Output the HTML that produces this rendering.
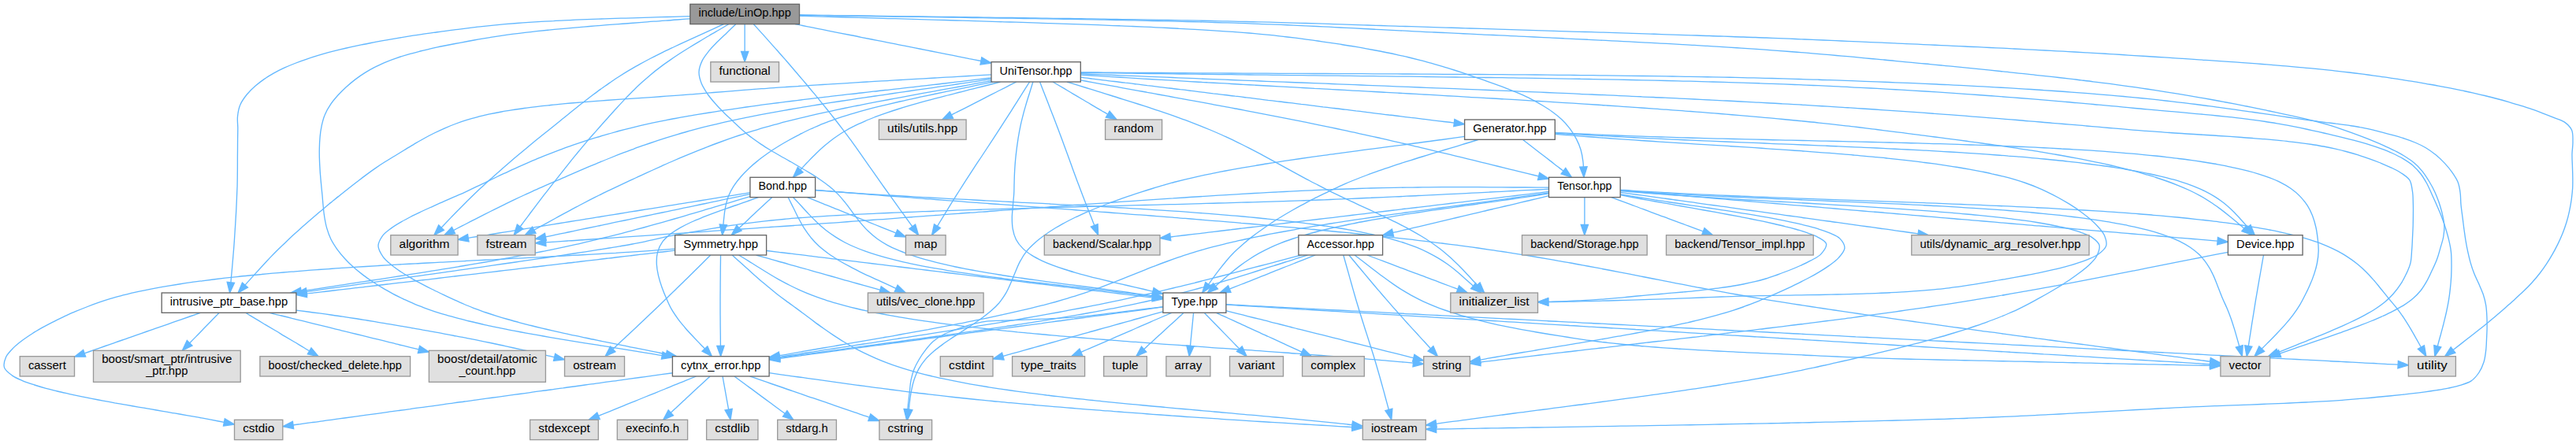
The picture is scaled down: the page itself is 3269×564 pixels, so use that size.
<!DOCTYPE html>
<html><head><meta charset="utf-8"><title>include/LinOp.hpp</title>
<style>html,body{margin:0;padding:0;background:#fff;width:3269px;height:564px;overflow:hidden}svg{display:block}</style>
</head><body>
<svg width="3269" height="564" viewBox="0 0 3269 564">
<rect width="100%" height="100%" fill="#fff"/>
<g fill="none" stroke="#63b8ff" stroke-width="1.333">
<path d="M918.4,30.7C913.7,32.8 909,35 904.4,37.1C899.9,39.1 895.6,41.1 891.2,43.1C886.8,45.1 882.4,47.1 878,49.1C873.6,51.1 869.2,53.1 864.9,55.1C860.5,57.1 856.2,59.2 851.9,61.2C847.7,63.2 843.5,65.2 839.2,67.4C834.6,69.7 829.7,72.1 825,74.5C820.4,76.9 815.8,79.4 811.3,81.9C806.9,84.3 802.5,86.9 798.2,89.4C794,91.9 790,94.4 786,97C781.9,99.6 777.8,102.4 773.8,105.1C769.8,107.8 766,110.6 762.1,113.4C758.3,116.1 754.7,118.8 750.8,121.7C746.7,124.8 742.4,128.2 738.2,131.5C734.1,134.7 730,138 725.9,141.3C721.9,144.6 717.8,147.8 713.8,151.1C709.7,154.4 705.6,157.8 701.6,161C697.8,164 694.3,166.8 690.6,169.8C686.9,172.8 683.1,175.8 679.4,178.8C675.7,181.9 672.1,184.9 668.4,187.9C664.8,190.9 661.1,194 657.5,197C653.9,200.1 650.3,203.1 646.7,206.2C643.2,209.2 639.7,212.2 636.1,215.4C632.2,218.8 628.1,222.4 624.2,226C620.2,229.5 616.2,233.2 612.4,236.7C608.9,240 605.5,243.2 602,246.5C598.6,249.8 595.2,253.1 591.8,256.5C588.5,259.8 585.2,263.2 581.9,266.5C578.6,269.9 575.5,273.1 572,276.6C568.2,280.6 564.1,284.9 560.1,289.1"/>
<path d="M933.7,30.7C929.8,34.4 926,38.2 922.1,41.9C918.2,45.6 914.2,49.3 910.5,53C906.9,56.7 903.3,60.2 900.1,64.2C896.9,68.2 893.4,72.3 891.2,76.9C889,81.4 887.2,86.5 887,91.3C886.8,96.2 888.4,101.5 890.2,106.1C892.1,110.8 895.1,115.3 897.9,119.5C900.8,123.6 904,127.4 907.4,131.2C910.8,135.1 914.6,138.9 918.3,142.7C922.1,146.5 926.2,150.2 930.1,153.9C933.9,157.5 937.7,161.2 941.6,164.7C945.3,168 948.9,171.1 952.9,174.1C956.9,177.3 961.4,180.3 965.6,183.1C969.7,185.8 973.6,188.2 977.7,190.7C981.8,193.2 986,195.6 990.2,198C994.5,200.5 998.8,202.9 1003.1,205.3C1007.3,207.8 1011.6,210.2 1015.8,212.7C1020,215.1 1024.2,217.6 1028.3,220.1C1032.3,222.6 1036.2,225 1040.1,227.7C1044.3,230.6 1048.7,233.6 1052.5,236.8C1056.3,239.9 1059.7,242.9 1063.1,246.4C1066.6,250 1070,254.2 1073.2,258.2C1076.4,262.1 1079.2,266.3 1082.3,270.3C1085.3,274.4 1088.2,278.5 1091.5,282.4C1094.9,286.5 1098.4,290.6 1102.2,294.1C1105.9,297.6 1109.8,300.9 1113.8,303.8C1117.7,306.6 1121.8,309 1126,311.3C1130.3,313.7 1134.9,315.8 1139.5,317.7C1144.1,319.7 1148.8,321.4 1153.4,323.1C1158,324.7 1162.4,326.1 1167.1,327.6C1171.9,329 1177,330.4 1181.9,331.7C1186.6,333 1191.1,334.1 1195.8,335.2C1200.6,336.4 1205.5,337.4 1210.5,338.5C1215.5,339.6 1220.7,340.6 1225.7,341.6C1230.4,342.5 1234.9,343.3 1239.5,344.2C1244.2,345 1249,345.9 1253.7,346.7C1258.5,347.5 1263.4,348.3 1268.3,349C1273.2,349.8 1278.1,350.6 1283.1,351.3C1288.1,352.1 1293.1,352.8 1298.2,353.5C1303.3,354.3 1308.4,355 1313.5,355.7C1318.6,356.4 1323.8,357.1 1329,357.8C1334.2,358.5 1339.4,359.2 1344.6,359.9C1349.8,360.6 1355,361.3 1360.3,361.9C1365.5,362.6 1370.7,363.3 1376,364C1381.2,364.7 1386.5,365.3 1391.7,366C1396.9,366.7 1402.1,367.4 1407.4,368.1C1412.6,368.8 1417.8,369.5 1422.9,370.2C1428.1,370.9 1433.2,371.6 1438.4,372.3C1443.5,373 1449.2,373.8 1453.6,374.5C1457,375 1459.7,375.4 1462.7,375.8"/>
<path d="M875.8,23.8C870.5,24.2 865.1,24.6 859.9,25C854.9,25.4 849.9,25.8 844.9,26.1C839.9,26.5 834.9,26.9 829.9,27.2C824.9,27.6 819.9,28 814.9,28.3C809.9,28.7 804.9,29.1 799.9,29.5C794.9,29.8 789.9,30.2 785,30.6C780,31 775.1,31.3 770.1,31.7C765.2,32.1 760.3,32.5 755.4,32.9C750.6,33.3 745.7,33.7 740.9,34.1C736.1,34.5 731.3,34.9 726.5,35.3C721.8,35.7 717.2,36.1 712.4,36.6C707.3,37.1 701.8,37.6 696.6,38.1C691.4,38.6 686.2,39.2 681.1,39.7C676.1,40.3 671.1,40.8 666.1,41.4C661.3,42 656.4,42.6 651.6,43.2C646.9,43.8 642.4,44.4 637.7,45.1C632.8,45.8 627.7,46.6 622.7,47.4C617.6,48.2 612.5,49.1 607.6,49.9C602.8,50.8 598.3,51.6 593.4,52.5C588.2,53.5 582.7,54.5 577.4,55.5C572.2,56.5 567.1,57.5 562,58.5C557.1,59.6 552.1,60.6 547.3,61.7C542.6,62.8 538,63.8 533.2,65C528.3,66.3 523,67.7 518,69.1C513.2,70.5 508.4,72 503.7,73.6C499.2,75.1 494.8,76.7 490.3,78.6C485.7,80.5 481,82.5 476.5,84.9C471.9,87.2 467.5,89.7 463.2,92.4C458.9,95.1 454.6,98.1 450.6,101.1C446.7,104.1 443.1,107.1 439.4,110.5C435.7,113.9 432,117.6 428.6,121.3C425.4,124.9 422.4,128.4 419.7,132.4C416.8,136.6 414,141.5 412.1,146.2C410.2,150.6 409.2,155.1 408.2,159.7C407.2,164.4 406.5,169 406.1,173.9C405.6,179 405.4,184.4 405.3,189.6C405.2,194.6 405.3,199.4 405.5,204.4C405.7,209.4 406,214.4 406.3,219.4C406.7,224.3 407.1,229.2 407.6,234C408,238.7 408.5,243.4 409,248.1C409.4,252.8 409.7,257.6 410.2,262.3C410.6,267.1 411.1,271.8 411.9,276.5C412.7,281.2 413.5,285.9 414.9,290.4C416.2,294.9 417.8,299.4 419.9,303.7C422.1,308.1 424.9,312.4 427.8,316.6C430.8,320.8 434.3,324.9 437.8,328.7C441.1,332.4 444.5,335.7 448.2,339C452,342.4 456.2,345.8 460.2,348.9C464.1,351.9 467.9,354.6 472,357.3C476.1,360.1 480.5,362.8 484.9,365.4C489.4,368.1 494.3,370.8 498.9,373.3C503.3,375.6 507.6,377.7 511.9,379.8C516.2,381.8 520.4,383.8 524.8,385.7C529.3,387.6 534,389.4 538.5,391.1C543,392.8 547.4,394.3 551.9,395.8C556.6,397.3 561.4,398.8 566.3,400.2C571.2,401.7 576.5,403.1 581.5,404.4C586.3,405.7 590.8,406.9 595.6,408C600.5,409.2 605.4,410.4 610.4,411.5C615.4,412.6 620.7,413.8 625.6,414.8C630.3,415.8 634.8,416.7 639.4,417.6C644,418.6 648.7,419.5 653.4,420.4C658.2,421.3 662.9,422.2 667.7,423.1C672.6,424 677.5,424.8 682.3,425.7C687.2,426.6 692.2,427.4 697.1,428.3C702.1,429.1 707.1,430 712.1,430.8C717.1,431.6 722.2,432.5 727.2,433.3C732.3,434.1 737.4,435 742.5,435.8C747.5,436.6 752.7,437.4 757.8,438.2C762.9,439.1 768,439.9 773.1,440.7C778.2,441.5 783.3,442.3 788.4,443.1C793.5,443.9 798.6,444.8 803.7,445.6C808.8,446.4 813.9,447.2 818.9,448.1C824,448.9 830.1,449.9 834.1,450.6C836.6,451 838.2,451.3 840.2,451.6"/>
<path d="M1014.5,19C1019.5,19 1024.6,19.1 1029.6,19.2C1034.5,19.3 1039.4,19.3 1044.4,19.4C1049.3,19.5 1054.3,19.5 1059.2,19.6C1064.2,19.6 1069.2,19.7 1074.1,19.8C1079.1,19.8 1084.1,19.9 1089.1,20C1094.1,20 1099.1,20.1 1104.1,20.2C1109.2,20.2 1114.2,20.3 1119.2,20.4C1124.2,20.4 1129.3,20.5 1134.3,20.6C1139.3,20.6 1144.4,20.7 1149.4,20.8C1154.4,20.8 1159.5,20.9 1164.5,21C1169.6,21 1174.6,21.1 1179.6,21.2C1184.7,21.2 1189.7,21.3 1194.7,21.3C1199.8,21.4 1204.8,21.5 1209.8,21.5C1214.8,21.6 1219.9,21.7 1224.9,21.7C1229.9,21.8 1234.9,21.9 1239.9,21.9C1244.8,22 1249.8,22.1 1254.8,22.1C1259.8,22.2 1264.7,22.3 1269.7,22.3C1274.6,22.4 1279.6,22.5 1284.5,22.5C1289.4,22.6 1294.3,22.7 1299.2,22.7C1304.1,22.8 1309,22.9 1313.9,22.9C1318.7,23 1323.6,23.1 1328.4,23.1C1333.2,23.2 1338,23.3 1342.8,23.3C1347.6,23.4 1352.3,23.5 1357.1,23.5C1361.8,23.6 1366.5,23.7 1371.2,23.7C1375.9,23.8 1380.4,23.9 1385.3,23.9C1390.4,24 1395.8,24.1 1401.1,24.2C1406.3,24.3 1411.5,24.3 1416.7,24.4C1421.8,24.5 1427,24.6 1432.1,24.7C1437.1,24.7 1442.2,24.8 1447.2,24.9C1452.2,25 1457.1,25.1 1462,25.2C1466.9,25.2 1471.8,25.3 1476.6,25.4C1481.4,25.5 1486,25.6 1490.9,25.7C1496,25.8 1501.4,25.9 1506.6,25.9C1511.8,26 1516.9,26.1 1521.9,26.2C1526.9,26.3 1531.9,26.4 1536.8,26.5C1541.6,26.6 1546.3,26.7 1551.2,26.8C1556.2,26.9 1561.4,27.1 1566.3,27.2C1571.1,27.3 1575.6,27.4 1580.5,27.5C1585.6,27.6 1591,27.7 1596.2,27.9C1601.3,28 1606.3,28.1 1611.2,28.2C1616.1,28.4 1620.7,28.5 1625.6,28.6C1630.8,28.8 1636.2,28.9 1641.4,29.1C1646.6,29.2 1651.6,29.3 1656.7,29.5C1661.7,29.6 1666.7,29.8 1671.6,29.9C1676.5,30.1 1681.4,30.2 1686.3,30.4C1691.2,30.5 1696,30.7 1700.9,30.9C1705.8,31 1710.7,31.2 1715.6,31.3C1720.5,31.5 1725.5,31.6 1730.5,31.8C1735.6,32 1740.6,32.1 1745.8,32.3C1751,32.5 1756.5,32.6 1761.6,32.8C1766.5,33 1771.2,33.1 1776,33.3C1781,33.4 1786.1,33.6 1791.1,33.7C1795.9,33.9 1800.5,34 1805.3,34.2C1810.1,34.3 1815,34.5 1819.9,34.6C1824.9,34.8 1830,34.9 1835.2,35.1C1840.4,35.2 1845.9,35.4 1851,35.5C1855.9,35.7 1860.5,35.8 1865.3,36C1870.1,36.1 1875,36.3 1879.9,36.4C1884.9,36.6 1889.9,36.7 1894.9,36.9C1899.9,37 1905,37.2 1910,37.4C1915.1,37.5 1920.3,37.7 1925.4,37.8C1930.6,38 1935.8,38.1 1940.9,38.3C1946.1,38.5 1951.4,38.6 1956.6,38.8C1961.8,39 1967,39.1 1972.3,39.3C1977.5,39.4 1982.8,39.6 1988,39.8C1993.2,39.9 1998.5,40.1 2003.7,40.3C2008.9,40.4 2014.1,40.6 2019.3,40.7C2024.4,40.9 2029.6,41.1 2034.7,41.2C2039.9,41.4 2045,41.5 2050,41.7C2055.1,41.9 2060.1,42 2065.1,42.2C2070.1,42.3 2075,42.5 2079.9,42.7C2084.8,42.8 2089.6,43 2094.4,43.1C2099.1,43.3 2103.7,43.4 2108.5,43.6C2113.6,43.7 2119,43.9 2124.1,44.1C2129.2,44.2 2134.2,44.4 2139.1,44.6C2144,44.7 2148.6,44.9 2153.5,45C2158.5,45.2 2163.7,45.4 2168.7,45.5C2173.5,45.7 2178.2,45.9 2182.9,46C2187.7,46.2 2192.4,46.3 2197.3,46.5C2202.3,46.7 2207.4,46.9 2212.4,47C2217.3,47.2 2222.3,47.4 2227.2,47.5C2232,47.7 2236.7,47.9 2241.6,48C2246.6,48.2 2251.7,48.4 2256.7,48.6C2261.5,48.8 2266.2,49 2270.9,49.2C2275.7,49.4 2280.5,49.6 2285.3,49.8C2290.2,50 2295.2,50.2 2300,50.4C2304.7,50.6 2309.3,50.8 2314.1,51C2319.1,51.2 2324.4,51.5 2329.5,51.7C2334.5,51.9 2339.5,52.1 2344.5,52.3C2349.2,52.5 2353.8,52.7 2358.5,52.9C2363.4,53.1 2368.3,53.4 2373.3,53.6C2378.3,53.8 2383.4,54 2388.6,54.2C2393.8,54.5 2399.3,54.7 2404.5,54.9C2409.4,55.2 2414,55.4 2418.7,55.6C2423.6,55.8 2428.4,56 2433.3,56.2C2438.3,56.4 2443.2,56.7 2448.2,56.9C2453.2,57.1 2458.3,57.4 2463.3,57.6C2468.4,57.8 2473.5,58.1 2478.6,58.3C2483.7,58.5 2488.9,58.8 2494,59C2499.2,59.3 2504.4,59.5 2509.6,59.7C2514.8,60 2520,60.2 2525.2,60.5C2530.4,60.7 2535.6,61 2540.8,61.2C2546,61.5 2551.2,61.8 2556.4,62C2561.6,62.3 2566.8,62.5 2572,62.8C2577.1,63.1 2582.3,63.3 2587.4,63.6C2592.5,63.9 2597.6,64.1 2602.7,64.4C2607.7,64.7 2612.8,64.9 2617.8,65.2C2622.7,65.5 2627.7,65.7 2632.6,66C2637.5,66.3 2642.4,66.5 2647.2,66.8C2652,67.1 2656.6,67.4 2661.4,67.6C2666.6,67.9 2672,68.3 2677.3,68.6C2682.4,68.9 2687.4,69.2 2692.6,69.5C2697.9,69.9 2703.4,70.2 2708.7,70.6C2713.8,70.9 2718.8,71.2 2723.8,71.5C2728.9,71.8 2733.9,72.2 2739,72.5C2744,72.8 2749,73.1 2754,73.4C2759,73.8 2764,74.1 2769,74.4C2774,74.7 2779,75.1 2783.9,75.4C2788.9,75.7 2793.8,76 2798.7,76.4C2803.6,76.7 2808.6,77 2813.4,77.3C2818.3,77.7 2823.2,78 2828,78.4C2832.9,78.7 2837.7,79 2842.5,79.4C2847.3,79.7 2852,80.1 2856.8,80.4C2861.5,80.8 2866.2,81.1 2870.9,81.5C2875.6,81.9 2880.1,82.2 2884.9,82.6C2890,83 2895.4,83.5 2900.7,83.9C2905.8,84.4 2911,84.8 2916.1,85.3C2921.2,85.7 2926.3,86.2 2931.3,86.7C2936.3,87.2 2941.3,87.7 2946.3,88.2C2951.1,88.7 2956,89.2 2960.8,89.7C2965.6,90.2 2970.4,90.8 2975.1,91.3C2979.8,91.9 2984.2,92.4 2989,93C2994.1,93.6 2999.5,94.3 3004.7,95C3009.9,95.7 3015,96.4 3020.2,97.1C3025.2,97.9 3030.3,98.6 3035.3,99.3C3040.2,100.1 3045.2,100.8 3050.1,101.6C3054.9,102.3 3059.7,103.1 3064.5,103.9C3069.2,104.7 3073.7,105.4 3078.6,106.3C3083.6,107.2 3089,108.1 3094.2,109.1C3099.2,110 3104.3,111 3109.2,111.9C3114.1,112.9 3119,113.9 3123.7,114.9C3128.4,115.9 3132.9,116.8 3137.7,117.9C3142.7,119.1 3148.1,120.3 3153.3,121.5C3158.5,122.8 3163.7,124.1 3168.9,125.5C3173.9,126.8 3178.9,128.2 3183.8,129.6C3188.6,131 3193.1,132.3 3197.9,133.8C3202.8,135.4 3207.9,137 3212.7,138.7C3217.3,140.3 3221.5,141.9 3226,143.6C3230.8,145.4 3236,147.4 3240.8,149.3C3245.3,151.2 3250.3,152.3 3254.1,154.9C3257.8,157.5 3261.7,161 3263.5,165.1C3265.5,169.4 3264.9,175.3 3265,180.5C3265.1,185.5 3264.1,190.7 3264,195.7C3263.9,200.5 3264.2,205.2 3264.4,209.9C3264.5,214.7 3264.8,219.5 3264.8,224.3C3264.9,229.1 3264.9,234 3264.7,238.8C3264.4,243.5 3263.9,248.1 3263.3,252.9C3262.6,258 3261.6,263.6 3260.5,268.6C3259.5,273.3 3258.4,277.8 3257,282.3C3255.6,286.8 3254.1,291.2 3252.3,295.8C3250.4,300.6 3248.1,305.7 3245.8,310.4C3243.6,314.8 3241.4,319 3239,323.2C3236.6,327.4 3234,331.7 3231.3,335.7C3228.6,339.8 3225.8,343.7 3222.8,347.5C3219.7,351.5 3216.4,355.4 3212.9,359.2C3209.4,363 3205.6,366.8 3202,370.3C3198.5,373.6 3195.2,376.7 3191.6,379.9C3188,383.3 3184.2,386.6 3180.4,390C3176.6,393.4 3172.7,396.8 3168.8,400.1C3164.9,403.4 3160.9,406.8 3157,409.9C3153.3,413 3149.7,415.8 3146,418.8C3142.3,421.8 3138.4,424.8 3134.6,427.8C3130.7,430.8 3126.6,434 3122.9,436.9C3119.5,439.5 3116.3,442 3113.1,444.5"/>
<path d="M1014.5,19.2C1019.5,19.3 1024.6,19.3 1029.6,19.4C1034.5,19.5 1039.4,19.6 1044.4,19.6C1049.3,19.7 1054.3,19.8 1059.2,19.9C1064.2,19.9 1069.2,20 1074.1,20.1C1079.1,20.2 1084.1,20.2 1089.1,20.3C1094.1,20.4 1099.1,20.5 1104.1,20.5C1109.2,20.6 1114.2,20.7 1119.2,20.8C1124.2,20.8 1129.3,20.9 1134.3,21C1139.3,21.1 1144.4,21.1 1149.4,21.2C1154.5,21.3 1159.5,21.4 1164.5,21.4C1169.6,21.5 1174.6,21.6 1179.6,21.7C1184.7,21.7 1189.7,21.8 1194.7,21.9C1199.8,21.9 1204.8,22 1209.8,22.1C1214.8,22.2 1219.9,22.2 1224.9,22.3C1229.9,22.4 1234.9,22.5 1239.9,22.5C1244.9,22.6 1249.8,22.7 1254.8,22.8C1259.8,22.8 1264.7,22.9 1269.7,23C1274.6,23.1 1279.6,23.1 1284.5,23.2C1289.4,23.3 1294.3,23.4 1299.2,23.5C1304.1,23.5 1309,23.6 1313.9,23.7C1318.7,23.8 1323.6,23.9 1328.4,23.9C1333.2,24 1338,24.1 1342.8,24.2C1347.6,24.3 1352.3,24.3 1357.1,24.4C1361.8,24.5 1366.5,24.6 1371.3,24.7C1375.9,24.7 1380.5,24.8 1385.3,24.9C1390.4,25 1395.8,25.1 1401.1,25.2C1406.3,25.3 1411.5,25.4 1416.7,25.5C1421.8,25.6 1427,25.7 1432.1,25.8C1437.1,25.9 1442.2,26 1447.2,26.1C1452.2,26.2 1457.1,26.3 1462,26.5C1466.9,26.6 1471.8,26.7 1476.6,26.8C1481.4,26.9 1486,27 1490.9,27.1C1496,27.2 1501.4,27.4 1506.6,27.5C1511.8,27.6 1516.9,27.8 1521.9,27.9C1526.9,28 1531.9,28.2 1536.8,28.3C1541.6,28.5 1546.3,28.6 1551.2,28.8C1556.2,28.9 1561.4,29.1 1566.3,29.2C1571.1,29.4 1575.6,29.5 1580.5,29.7C1585.6,29.9 1591,30.1 1596.2,30.3C1601.3,30.5 1606.3,30.7 1611.2,30.8C1616.1,31 1620.7,31.2 1625.6,31.4C1630.8,31.6 1636.2,31.9 1641.4,32.1C1646.6,32.3 1651.6,32.6 1656.7,32.8C1661.7,33 1666.7,33.3 1671.6,33.5C1676.5,33.7 1681.4,34 1686.3,34.2C1691.2,34.5 1696,34.7 1700.9,35C1705.8,35.2 1710.7,35.5 1715.6,35.7C1720.5,36 1725.5,36.2 1730.5,36.5C1735.6,36.7 1740.6,37 1745.8,37.3C1751,37.5 1756.5,37.8 1761.6,38.1C1766.5,38.3 1771.2,38.6 1776,38.8C1781,39.1 1786.1,39.3 1791.1,39.6C1795.9,39.8 1800.5,40 1805.3,40.3C1810.1,40.5 1814.9,40.7 1819.8,41C1824.7,41.2 1829.7,41.4 1834.8,41.7C1839.9,41.9 1845.1,42.2 1850.3,42.4C1855.5,42.7 1861,42.9 1866.1,43.2C1871,43.4 1875.6,43.6 1880.4,43.8C1885.2,44.1 1890,44.3 1894.8,44.5C1899.7,44.7 1904.6,45 1909.5,45.2C1914.4,45.4 1919.4,45.7 1924.3,45.9C1929.3,46.2 1934.3,46.4 1939.3,46.6C1944.3,46.9 1949.4,47.1 1954.4,47.4C1959.5,47.6 1964.5,47.8 1969.6,48.1C1974.6,48.3 1979.7,48.6 1984.8,48.8C1989.8,49.1 1994.9,49.3 2000,49.6C2005,49.8 2010.1,50.1 2015.2,50.3C2020.2,50.6 2025.2,50.8 2030.3,51.1C2035.3,51.3 2040.3,51.6 2045.3,51.8C2050.2,52.1 2055.2,52.3 2060.1,52.6C2065,52.8 2069.9,53.1 2074.8,53.3C2079.7,53.6 2084.5,53.8 2089.3,54.1C2094.1,54.4 2098.7,54.6 2103.6,54.9C2108.7,55.1 2114.2,55.4 2119.5,55.7C2124.7,56 2129.9,56.3 2135,56.6C2140.1,56.9 2145.1,57.2 2150.1,57.4C2155,57.7 2159.8,58 2164.6,58.3C2169.4,58.6 2173.9,58.9 2178.6,59.1C2183.5,59.4 2188.5,59.8 2193.6,60.1C2198.8,60.4 2204.2,60.8 2209.5,61.1C2214.8,61.5 2220.1,61.8 2225.3,62.2C2230.3,62.5 2235,62.9 2240,63.2C2245.1,63.6 2250.6,64 2255.8,64.3C2260.8,64.7 2265.8,65.1 2270.8,65.5C2275.8,65.9 2280.6,66.2 2285.5,66.6C2290.4,67 2295.2,67.4 2300.1,67.8C2305,68.2 2309.9,68.7 2314.9,69.1C2320,69.5 2325.3,70 2330.4,70.5C2335.2,70.9 2339.8,71.3 2344.6,71.7C2349.6,72.2 2354.8,72.7 2359.8,73.1C2364.6,73.6 2369.2,74 2374,74.5C2379.1,74.9 2384.6,75.5 2389.8,75.9C2394.7,76.4 2399.5,76.9 2404.4,77.3C2409.4,77.8 2414.5,78.3 2419.6,78.8C2424.8,79.3 2430.2,79.8 2435.3,80.3C2440.2,80.7 2444.7,81.2 2449.4,81.6C2454.2,82.1 2459,82.5 2463.8,83C2468.7,83.5 2473.5,84 2478.4,84.4C2483.4,84.9 2488.3,85.4 2493.2,85.9C2498.2,86.4 2503.2,86.9 2508.2,87.4C2513.2,87.9 2518.2,88.4 2523.2,88.9C2528.2,89.4 2533.2,90 2538.3,90.5C2543.3,91 2548.3,91.5 2553.3,92.1C2558.3,92.6 2563.3,93.1 2568.3,93.7C2573.3,94.2 2578.3,94.7 2583.2,95.3C2588.2,95.8 2593.1,96.4 2598,96.9C2602.9,97.4 2607.7,98 2612.6,98.5C2617.3,99.1 2622.1,99.6 2626.9,100.2C2631.6,100.7 2636.1,101.3 2640.9,101.9C2646,102.5 2651.4,103.1 2656.5,103.8C2661.6,104.4 2666.6,105 2671.6,105.7C2676.5,106.3 2681.2,106.9 2686.1,107.6C2691.4,108.3 2696.9,109.1 2702.3,109.8C2707.6,110.6 2712.8,111.3 2718.1,112.1C2723.3,112.9 2728.4,113.6 2733.6,114.4C2738.7,115.2 2743.7,116 2748.8,116.8C2753.8,117.6 2758.7,118.4 2763.6,119.2C2768.5,120 2773.4,120.8 2778.2,121.6C2783,122.4 2787.7,123.3 2792.4,124.1C2797,124.9 2801.5,125.7 2806.3,126.5C2811.3,127.4 2816.6,128.4 2821.7,129.4C2826.7,130.3 2831.7,131.3 2836.6,132.2C2841.5,133.1 2846.3,134.1 2851,135C2855.7,136 2860.2,136.9 2865,137.9C2869.9,138.9 2875,139.9 2880,141C2885.1,142.1 2890.4,143.2 2895.5,144.3C2900.3,145.3 2905,146.3 2909.8,147.3C2914.9,148.5 2920.2,149.6 2925.3,150.8C2930.3,152 2935.2,153.2 2940.1,154.5C2945.1,155.8 2950,157.2 2954.9,158.7C2959.9,160.2 2965.1,161.9 2970,163.6C2974.7,165.2 2979,166.7 2983.6,168.4C2988.3,170.1 2993.1,171.9 2997.8,173.7C3002.6,175.5 3007.4,177.4 3012.2,179.4C3016.9,181.3 3021.6,183.3 3026.1,185.4C3030.5,187.4 3034.8,189.3 3039.1,191.5C3043.4,193.8 3047.9,196.1 3052,198.7C3056.1,201.2 3060.2,203.9 3063.8,207.1C3067.6,210.3 3071,214 3074.2,217.9C3077.4,222 3080.3,226.6 3083,231C3085.6,235.3 3088,239.7 3090,244.2C3092.1,248.7 3093.8,253.4 3095.4,258C3096.9,262.7 3098.4,267.4 3099.4,272.1C3100.5,276.8 3101.6,281.5 3101.8,286.3C3102.1,291 3101.6,295.8 3100.8,300.5C3100,305.3 3098.4,309.9 3097,314.6C3095.6,319.7 3094.2,325.1 3092.3,330C3090.6,334.6 3088.5,338.8 3086.4,343.3C3084.3,347.8 3082.3,352.5 3079.8,356.8C3077.4,361 3074.9,365.2 3072,369C3069,372.7 3065.7,376.2 3062,379.3C3058.4,382.5 3054.3,385.2 3050.2,387.9C3045.8,390.6 3041,393.1 3036.5,395.4C3032.3,397.6 3028.2,399.5 3023.9,401.5C3019.3,403.5 3014.5,405.6 3009.9,407.5C3005.5,409.3 3001.2,411 2996.8,412.7C2992.2,414.4 2987.6,416.2 2982.9,417.9C2978.2,419.6 2973.4,421.4 2968.5,423.1C2963.6,424.8 2958.7,426.5 2953.7,428.3C2948.7,430 2943.7,431.7 2938.7,433.4C2933.6,435.2 2928.6,436.9 2923.5,438.6C2918.5,440.3 2913.4,442.1 2908.4,443.8C2903.3,445.5 2898.2,447.3 2893.2,449.1"/>
<path d="M945.1,30.7C945.1,36 945.1,41.4 945.1,46.5C945.1,51.4 945.1,57.3 945.1,60.8C945.1,62.7 945.1,63.8 945.1,65.3"/>
<path d="M1014.5,20.2C1019.2,20.3 1023.8,20.5 1028.5,20.6C1033.5,20.8 1038.6,20.9 1043.7,21.1C1048.7,21.2 1053.8,21.4 1058.9,21.5C1064,21.7 1069.1,21.8 1074.2,22C1079.4,22.1 1084.5,22.3 1089.6,22.4C1094.8,22.6 1100,22.7 1105.1,22.9C1110.3,23 1115.5,23.2 1120.6,23.3C1125.8,23.5 1131,23.6 1136.2,23.7C1141.4,23.9 1146.6,24 1151.7,24.2C1156.9,24.3 1162.1,24.5 1167.3,24.6C1172.5,24.8 1177.6,24.9 1182.8,25.1C1188,25.2 1193.1,25.4 1198.3,25.5C1203.4,25.7 1208.6,25.8 1213.7,26C1218.8,26.1 1223.9,26.3 1229,26.4C1234.1,26.6 1239.2,26.7 1244.3,26.9C1249.3,27 1254.4,27.2 1259.4,27.3C1264.4,27.5 1269.4,27.6 1274.4,27.8C1279.3,27.9 1284.3,28.1 1289.2,28.2C1294.1,28.4 1299,28.5 1303.9,28.7C1308.7,28.8 1313.6,29 1318.4,29.1C1323.1,29.3 1327.9,29.5 1332.6,29.6C1337.4,29.8 1341.9,29.9 1346.7,30.1C1351.8,30.2 1357.3,30.4 1362.5,30.6C1367.7,30.8 1372.8,31 1377.9,31.2C1383,31.3 1388,31.5 1393,31.7C1397.9,31.9 1402.8,32.1 1407.7,32.3C1412.5,32.4 1417.1,32.6 1421.9,32.8C1427,33 1432.3,33.2 1437.5,33.5C1442.5,33.7 1447.5,33.9 1452.4,34.1C1457.2,34.3 1461.8,34.5 1466.7,34.8C1471.6,35 1476.8,35.3 1481.7,35.5C1486.5,35.8 1491.2,36 1495.9,36.3C1500.7,36.5 1505.5,36.8 1510.3,37.1C1515.2,37.4 1519.9,37.6 1524.9,37.9C1530,38.2 1535.4,38.6 1540.5,38.9C1545.4,39.2 1550.1,39.5 1555,39.8C1560,40.2 1565.3,40.5 1570.4,40.9C1575.4,41.3 1580.2,41.6 1585.1,42C1589.9,42.4 1594.6,42.9 1599.4,43.3C1604.1,43.8 1608.9,44.2 1613.7,44.7C1618.6,45.2 1623.5,45.8 1628.4,46.4C1633.6,47 1638.9,47.6 1644,48.2C1648.8,48.8 1653.3,49.4 1658,50.1C1662.7,50.7 1667.4,51.3 1672.2,52C1676.9,52.7 1681.7,53.4 1686.4,54.1C1691.2,54.8 1696,55.5 1700.7,56.2C1705.5,57 1710.2,57.8 1715,58.5C1719.7,59.3 1724.4,60.1 1729.1,60.9C1733.7,61.8 1738.2,62.6 1742.9,63.5C1747.9,64.4 1753.2,65.4 1758.3,66.5C1763.4,67.5 1768.3,68.5 1773.2,69.6C1778.2,70.7 1783.3,71.8 1788.2,73C1793.1,74.2 1798,75.4 1802.7,76.6C1807.5,77.8 1812.1,79.1 1816.8,80.4C1821.3,81.7 1825.7,83 1830.4,84.4C1835.3,85.8 1840.4,87.4 1845.4,89C1850.4,90.6 1855.2,92.2 1860.1,93.8C1864.9,95.4 1869.7,97.1 1874.5,98.8C1879.1,100.4 1883.5,101.9 1888.1,103.6C1892.7,105.2 1897.5,106.9 1902.1,108.6C1906.7,110.3 1911.3,112 1915.8,113.8C1920.2,115.5 1924.4,117.2 1928.8,119.2C1933.4,121.2 1938.1,123.3 1942.6,125.6C1947.4,128 1952.2,130.8 1956.8,133.5C1961.1,136.1 1965.2,138.6 1969.2,141.5C1973.5,144.6 1977.8,147.9 1981.6,151.5C1985.5,155.1 1989,159.1 1992.2,163.3C1995.4,167.5 1998.3,172.3 2000.6,176.9C2002.8,181.2 2004.6,185.4 2006,190C2007.4,194.8 2008.4,201.1 2008.9,205.1C2009.3,207.9 2009.3,209.7 2009.4,212"/>
<path d="M924.6,30.7C920.4,33.2 916.2,35.7 912,38.2C907.9,40.6 903.7,43 899.6,45.5C895.4,47.9 891.3,50.4 887.2,52.9C883.1,55.3 879,57.8 875,60.3C870.9,62.8 867.1,65.2 863,67.8C858.7,70.6 854.2,73.6 849.9,76.6C845.6,79.5 841.5,82.4 837.4,85.6C833.2,88.7 829,92.1 825.1,95.4C821.3,98.6 817.7,101.8 814.1,105.1C810.5,108.3 807.1,111.7 803.7,115C800.4,118.3 797.2,121.6 793.8,125.1C790.3,128.8 786.6,132.8 783,136.7C779.4,140.6 775.9,144.6 772.4,148.5C768.9,152.4 765.3,156.4 761.9,160.3C758.7,163.9 755.7,167.3 752.6,170.8C749.4,174.4 746.3,178 743.3,181.6C740.2,185.2 737.2,188.9 734.2,192.5C731.2,196.1 728.3,199.8 725.3,203.4C722.4,207.1 719.5,210.7 716.6,214.4C713.7,218.1 710.8,221.7 707.9,225.4C705,229.1 702.1,232.7 699.2,236.4C696.3,240.2 693.3,243.9 690.4,247.7C687.5,251.5 684.6,255.3 681.7,259.1C678.8,262.9 676,266.7 673.1,270.5C670.3,274.3 667,278.7 664.6,281.9C662.8,284.3 661.6,286 660.1,288"/>
<path d="M875.8,20.6C870.9,20.8 866,20.9 861.1,21.1C856.2,21.2 851.4,21.4 846.5,21.5C841.6,21.6 836.8,21.8 831.9,21.9C827,22.1 822.2,22.2 817.3,22.3C812.4,22.5 807.6,22.6 802.7,22.8C797.9,22.9 793,23 788.2,23.2C783.3,23.3 778.5,23.5 773.7,23.6C768.9,23.8 764.1,24 759.3,24.1C754.5,24.3 749.7,24.5 744.9,24.7C740.2,24.9 735.4,25 730.7,25.2C726,25.4 721.2,25.7 716.5,25.9C711.9,26.1 707.4,26.3 702.6,26.6C697.5,26.8 692,27.1 686.8,27.4C681.6,27.7 676.4,28.1 671.2,28.4C666.1,28.8 661,29.1 655.9,29.5C650.9,29.9 645.9,30.3 640.9,30.7C635.9,31.2 631,31.6 626.2,32.1C621.3,32.6 616.6,33.1 611.8,33.6C606.8,34.1 601.8,34.7 596.7,35.3C591.6,36 586.3,36.6 581.2,37.3C576,37.9 570.8,38.6 565.6,39.3C560.5,39.9 555.3,40.7 550.2,41.4C545.1,42.1 540,42.8 534.9,43.6C529.9,44.3 524.8,45.1 519.8,45.9C514.8,46.7 509.9,47.5 505,48.3C500.1,49.1 495.3,50 490.5,50.8C485.7,51.7 481.2,52.5 476.3,53.4C471.3,54.4 465.9,55.4 460.7,56.5C455.7,57.5 450.7,58.6 445.8,59.6C441,60.7 436.4,61.8 431.6,62.9C426.7,64.1 421.5,65.4 416.6,66.7C412,68 407.5,69.3 402.9,70.7C398.3,72.1 393.9,73.5 389.3,75.1C384.4,76.7 379.1,78.6 374.3,80.5C369.7,82.3 365.3,84.1 360.8,86.2C356.2,88.3 351.5,90.7 347.1,93.1C343,95.5 339,97.9 335.1,100.6C331.2,103.3 327.5,106.2 323.9,109.3C320.2,112.6 316.5,116.1 313.3,120C310.1,124 306.7,128.5 304.8,133.3C302.8,137.9 302,143.1 301.5,148C301,152.7 301.7,157.4 301.8,162.1C301.8,166.8 301.7,171.5 301.6,176.3C301.6,181.3 301.5,186.6 301.5,191.7C301.4,196.6 301.4,201.3 301.4,206.2C301.4,211.1 301.4,216.1 301.3,221.1C301.3,226 301.2,231 301.1,235.9C300.9,240.7 300.7,245.3 300.5,250C300.4,254.7 300.1,259.4 299.9,264.1C299.7,268.9 299.4,273.6 299.1,278.4C298.8,283.1 298.6,287.9 298.2,292.7C297.9,297.4 297.6,302.2 297.3,306.9C297,311.7 296.6,316.5 296.2,321.2C295.8,326 295.4,330.8 295,335.5C294.6,340.3 294.1,345.7 293.7,349.9C293.4,353.2 293.2,355.8 292.9,358.7"/>
<path d="M1009,30.7C1013.9,31.6 1018.9,32.6 1023.8,33.6C1028.4,34.5 1032.9,35.4 1037.5,36.3C1042.1,37.2 1046.7,38.2 1051.3,39.1C1055.9,40 1060.5,40.9 1065,41.8C1069.6,42.7 1074.2,43.6 1078.8,44.5C1083.4,45.4 1088,46.3 1092.6,47.3C1097.1,48.2 1101.7,49.1 1106.3,50C1110.9,50.9 1115.5,51.8 1120.1,52.7C1124.7,53.6 1129.2,54.5 1133.8,55.4C1138.4,56.4 1143,57.3 1147.6,58.2C1152.2,59.1 1156.8,60 1161.3,60.9C1165.9,61.8 1170.5,62.7 1175.1,63.6C1179.7,64.5 1184.3,65.5 1188.9,66.4C1193.4,67.3 1198,68.2 1202.6,69.1C1207.2,70 1211.8,70.9 1216.4,71.8C1221,72.7 1225.5,73.6 1230.1,74.6C1235,75.5 1240,76.5 1244.9,77.5"/>
<path d="M956.4,30.7C959.9,34.6 963.5,38.6 966.9,42.4C970.2,46 973.3,49.5 976.5,53.1C979.6,56.6 982.8,60.2 986,63.7C989.1,67.3 992.3,70.9 995.4,74.4C998.5,78 1001.7,81.6 1004.7,85.2C1007.8,88.8 1010.9,92.4 1013.9,96C1017,99.6 1020,103.2 1023.1,106.8C1026.1,110.4 1029.1,114.1 1032.1,117.7C1035.2,121.3 1038.1,124.9 1041.1,128.6C1044.1,132.2 1047.1,135.9 1050,139.5C1052.9,143.2 1055.7,146.7 1058.7,150.5C1061.9,154.5 1065.4,159 1068.5,163.1C1071.4,166.9 1074.2,170.6 1077,174.4C1079.8,178.1 1082.4,181.8 1085.2,185.7C1088.2,189.9 1091.4,194.4 1094.5,198.8C1097.5,203.1 1100.6,207.5 1103.6,211.9C1106.7,216.2 1109.7,220.6 1112.8,224.9C1115.8,229.3 1119,233.8 1122,238C1124.8,241.9 1127.5,245.6 1130.2,249.4C1132.9,253.2 1135.6,257 1138.4,260.8C1141.1,264.6 1143.8,268.4 1146.6,272.2C1149.3,276 1152.7,280.8 1154.8,283.6C1156,285.4 1156.8,286.4 1157.8,287.8"/>
<path d="M1543.5,397.3C1548.4,399.6 1553.4,401.8 1558.1,404C1562.5,406 1566.6,407.9 1570.9,409.9C1575.2,411.8 1579.5,413.8 1583.8,415.8C1588,417.7 1592.3,419.7 1596.6,421.6C1600.9,423.6 1605.1,425.6 1609.4,427.5C1613.7,429.5 1618,431.4 1622.3,433.4C1626.5,435.4 1630.8,437.3 1635.1,439.3C1639.4,441.2 1644.8,443.7 1647.9,445.2C1649.7,446 1650.8,446.5 1652.2,447.1"/>
<path d="M1475.9,395.8C1471.2,397.1 1466.5,398.4 1461.9,399.7C1457.4,401 1452.9,402.2 1448.4,403.5C1443.9,404.7 1439.4,406 1434.9,407.3C1430.4,408.5 1425.9,409.8 1421.4,411C1416.9,412.3 1412.4,413.5 1407.9,414.8C1403.4,416 1398.9,417.3 1394.4,418.5C1389.9,419.8 1385.4,421.1 1380.9,422.3C1376.4,423.6 1371.9,424.8 1367.4,426.1C1362.9,427.3 1358.4,428.6 1353.9,429.8C1349.4,431.1 1344.9,432.3 1340.4,433.6C1335.9,434.9 1331.4,436.1 1326.9,437.4C1322.4,438.6 1317.9,439.9 1313.4,441.1C1308.9,442.4 1304.4,443.6 1299.9,444.9C1295.4,446.2 1290.9,447.4 1286.4,448.7C1281.9,449.9 1277.4,451.2 1272.8,452.5"/>
<path d="M1486.8,397.3C1482.4,399.2 1478,401.1 1473.7,403C1469.4,404.9 1465.1,406.8 1460.8,408.6C1456.6,410.5 1452.3,412.4 1448,414.2C1443.7,416.1 1439.4,417.9 1435.2,419.8C1430.9,421.7 1426.6,423.5 1422.3,425.4C1418,427.3 1413.7,429.1 1409.5,431C1405.2,432.9 1400.9,434.7 1396.6,436.6C1392.3,438.4 1388,440.3 1383.8,442.2C1379.7,443.9 1375.8,445.6 1371.9,447.3"/>
<path d="M1502.1,397.3C1498.3,400.9 1494.3,404.5 1490.6,407.9C1487,411.2 1483.6,414.3 1480.1,417.5C1476.7,420.7 1473.2,423.9 1469.7,427.1C1466.2,430.2 1462.5,433.7 1459.3,436.6C1456.5,439.1 1454.2,441.3 1451.6,443.7"/>
<path d="M1514.6,397.3C1514.1,402.5 1513.6,407.8 1513.1,412.9C1512.6,417.7 1512.2,422.5 1511.7,427C1511.3,431.3 1510.9,435.3 1510.5,439.4"/>
<path d="M1555.9,394.7C1560.7,395.9 1565.5,397.2 1570.2,398.4C1574.8,399.5 1579.3,400.6 1583.8,401.8C1588.3,402.9 1592.9,404.1 1597.4,405.2C1601.9,406.3 1606.4,407.5 1611,408.6C1615.5,409.8 1620,410.9 1624.5,412C1629.1,413.2 1633.6,414.3 1638.1,415.5C1642.6,416.6 1647.2,417.7 1651.7,418.9C1656.2,420 1660.8,421.2 1665.3,422.3C1669.8,423.5 1674.3,424.6 1678.9,425.7C1683.4,426.9 1687.9,428 1692.4,429.2C1697,430.3 1701.5,431.4 1706,432.6C1710.5,433.7 1715.1,434.9 1719.6,436C1724.1,437.1 1728.7,438.3 1733.2,439.4C1737.7,440.6 1742.2,441.7 1746.8,442.8C1751.3,444 1755.8,445.1 1760.3,446.3C1764.9,447.4 1769.4,448.5 1773.9,449.7C1778.4,450.8 1783.8,452.2 1787.5,453.1C1790,453.7 1791.7,454.2 1793.7,454.7"/>
<path d="M1475.9,390C1470.7,390.7 1465.4,391.4 1460.3,392.1C1455.6,392.8 1451.1,393.4 1446.5,394C1441.8,394.6 1437.2,395.2 1432.6,395.8C1427.9,396.5 1423.3,397.1 1418.7,397.7C1414,398.3 1409.4,399 1404.8,399.6C1400.2,400.2 1395.5,400.8 1390.9,401.4C1386.3,402.1 1381.6,402.7 1377,403.3C1372.4,403.9 1367.7,404.5 1363.1,405.2C1358.5,405.8 1353.9,406.4 1349.2,407C1344.6,407.7 1340,408.3 1335.3,408.9C1330.7,409.5 1326.1,410.1 1321.5,410.8C1316.8,411.4 1312.2,412 1307.6,412.6C1302.9,413.2 1298.3,413.9 1293.7,414.5C1289,415.1 1284.4,415.7 1279.8,416.3C1275.2,417 1270.5,417.6 1265.9,418.2C1261.3,418.8 1256.6,419.5 1252,420.1C1247.4,420.7 1242.7,421.3 1238.1,421.9C1233.5,422.6 1228.9,423.2 1224.2,423.8C1219.6,424.4 1215,425 1210.3,425.7C1205.7,426.3 1201.1,426.9 1196.5,427.5C1191.8,428.2 1187.2,428.8 1182.6,429.4C1177.9,430 1173.3,430.6 1168.7,431.3C1164,431.9 1159.4,432.5 1154.8,433.1C1150.2,433.7 1145.5,434.4 1140.9,435C1136.3,435.6 1131.6,436.2 1127,436.8C1122.4,437.5 1117.7,438.1 1113.1,438.7C1108.5,439.3 1103.9,440 1099.2,440.6C1094.6,441.2 1090,441.8 1085.3,442.4C1080.7,443.1 1076.1,443.7 1071.4,444.3C1066.8,444.9 1062.2,445.5 1057.6,446.2C1052.9,446.8 1048.3,447.4 1043.7,448C1039,448.6 1034.4,449.3 1029.8,449.9C1025.2,450.5 1020.5,451.1 1015.9,451.8C1011.3,452.4 1006.5,453 1002,453.6C997.7,454.2 993.5,454.8 989.2,455.3"/>
<path d="M1528.2,397.3C1531.6,400.8 1535,404.3 1538.4,407.7C1541.7,411.1 1544.9,414.4 1548.2,417.8C1551.5,421.2 1554.7,424.5 1558,427.9C1561.3,431.2 1565.1,435.2 1567.8,438C1569.8,440 1571.2,441.4 1572.9,443.1"/>
<path d="M1555.9,386.7C1561.2,387 1566.7,387.3 1571.8,387.5C1576.7,387.8 1581.2,388 1585.8,388.3C1590.5,388.5 1595.2,388.7 1599.8,389C1604.5,389.2 1609.1,389.5 1613.8,389.7C1618.5,389.9 1623.1,390.2 1627.8,390.4C1632.5,390.7 1637.1,390.9 1641.8,391.1C1646.4,391.4 1651.1,391.6 1655.8,391.9C1660.4,392.1 1665.1,392.3 1669.8,392.6C1674.4,392.8 1679.1,393 1683.7,393.3C1688.4,393.5 1693.1,393.8 1697.7,394C1702.4,394.2 1707.1,394.5 1711.7,394.7C1716.4,395 1721,395.2 1725.7,395.4C1730.4,395.7 1735,395.9 1739.7,396.2C1744.4,396.4 1749,396.6 1753.7,396.9C1758.3,397.1 1763,397.4 1767.7,397.6C1772.3,397.8 1777,398.1 1781.7,398.3C1786.3,398.6 1791,398.8 1795.6,399C1800.3,399.3 1805,399.5 1809.6,399.8C1814.3,400 1819,400.2 1823.6,400.5C1828.3,400.7 1832.9,401 1837.6,401.2C1842.3,401.4 1846.9,401.7 1851.6,401.9C1856.3,402.1 1860.9,402.4 1865.6,402.6C1870.2,402.9 1874.9,403.1 1879.6,403.3C1884.2,403.6 1888.9,403.8 1893.6,404.1C1898.2,404.3 1902.9,404.5 1907.5,404.8C1912.2,405 1916.9,405.3 1921.5,405.5C1926.2,405.7 1930.9,406 1935.5,406.2C1940.2,406.5 1944.8,406.7 1949.5,406.9C1954.2,407.2 1958.8,407.4 1963.5,407.7C1968.1,407.9 1972.8,408.1 1977.5,408.4C1982.1,408.6 1986.8,408.9 1991.5,409.1C1996.1,409.3 2000.8,409.6 2005.4,409.8C2010.1,410.1 2014.8,410.3 2019.4,410.5C2024.1,410.8 2028.8,411 2033.4,411.2C2038.1,411.5 2042.7,411.7 2047.4,412C2052.1,412.2 2056.7,412.4 2061.4,412.7C2066.1,412.9 2070.7,413.2 2075.4,413.4C2080,413.6 2084.7,413.9 2089.4,414.1C2094,414.4 2098.7,414.6 2103.4,414.8C2108,415.1 2112.7,415.3 2117.3,415.6C2122,415.8 2126.7,416 2131.3,416.3C2136,416.5 2140.7,416.8 2145.3,417C2150,417.2 2154.6,417.5 2159.3,417.7C2164,418 2168.6,418.2 2173.3,418.4C2178,418.7 2182.6,418.9 2187.3,419.2C2191.9,419.4 2196.6,419.6 2201.3,419.9C2205.9,420.1 2210.6,420.3 2215.3,420.6C2219.9,420.8 2224.6,421.1 2229.2,421.3C2233.9,421.5 2238.6,421.8 2243.2,422C2247.9,422.3 2252.6,422.5 2257.2,422.7C2261.9,423 2266.5,423.2 2271.2,423.5C2275.9,423.7 2280.5,423.9 2285.2,424.2C2289.9,424.4 2294.5,424.7 2299.2,424.9C2303.8,425.1 2308.5,425.4 2313.2,425.6C2317.8,425.9 2322.5,426.1 2327.2,426.3C2331.8,426.6 2336.5,426.8 2341.1,427.1C2345.8,427.3 2350.5,427.5 2355.1,427.8C2359.8,428 2364.4,428.2 2369.1,428.5C2373.8,428.7 2378.4,429 2383.1,429.2C2387.8,429.4 2392.4,429.7 2397.1,429.9C2401.7,430.2 2406.4,430.4 2411.1,430.6C2415.7,430.9 2420.4,431.1 2425.1,431.4C2429.7,431.6 2434.4,431.8 2439,432.1C2443.7,432.3 2448.4,432.6 2453,432.8C2457.7,433 2462.4,433.3 2467,433.5C2471.7,433.8 2476.3,434 2481,434.2C2485.7,434.5 2490.3,434.7 2495,435C2499.7,435.2 2504.3,435.4 2509,435.7C2513.6,435.9 2518.3,436.2 2523,436.4C2527.6,436.6 2532.3,436.9 2537,437.1C2541.6,437.3 2546.3,437.6 2550.9,437.8C2555.6,438.1 2560.3,438.3 2564.9,438.5C2569.6,438.8 2574.3,439 2578.9,439.3C2583.6,439.5 2588.2,439.7 2592.9,440C2597.6,440.2 2602.2,440.5 2606.9,440.7C2611.6,440.9 2616.2,441.2 2620.9,441.4C2625.5,441.7 2630.2,441.9 2634.9,442.1C2639.5,442.4 2644.2,442.6 2648.9,442.9C2653.5,443.1 2658.2,443.3 2662.8,443.6C2667.5,443.8 2672.2,444.1 2676.8,444.3C2681.5,444.5 2686.2,444.8 2690.8,445C2695.5,445.3 2700.1,445.5 2704.8,445.7C2709.5,446 2714.1,446.2 2718.8,446.4C2723.5,446.7 2728.1,446.9 2732.8,447.2C2737.4,447.4 2742.1,447.6 2746.8,447.9C2751.4,448.1 2756.1,448.4 2760.8,448.6C2765.4,448.8 2770.1,449.1 2774.7,449.3C2779.4,449.6 2784.1,449.8 2788.7,450C2793.4,450.3 2798,450.5 2802.7,450.8C2807.4,451 2812,451.2 2816.7,451.5C2821.4,451.7 2826,452 2830.7,452.2C2835.3,452.4 2840,452.7 2844.7,452.9C2849.3,453.2 2854,453.4 2858.7,453.6C2863.3,453.9 2868,454.1 2872.6,454.4C2877.3,454.6 2882,454.8 2886.6,455.1C2891.3,455.3 2896,455.5 2900.6,455.8C2905.3,456 2909.9,456.3 2914.6,456.5C2919.3,456.7 2923.9,457 2928.6,457.2C2933.3,457.5 2937.9,457.7 2942.6,457.9C2947.2,458.2 2951.9,458.4 2956.6,458.7C2961.2,458.9 2965.9,459.1 2970.6,459.4C2975.2,459.6 2979.9,459.9 2984.5,460.1C2989.2,460.3 2993.9,460.6 2998.5,460.8C3003.2,461.1 3007.9,461.3 3012.5,461.5C3017.2,461.8 3021.6,462 3026.5,462.3C3031.8,462.5 3037.6,462.8 3043.1,463.1"/>
<path d="M1555.9,387.1C1561.2,387.4 1566.7,387.7 1571.9,388.1C1576.7,388.3 1581.2,388.6 1585.9,388.9C1590.5,389.2 1595.2,389.5 1599.9,389.7C1604.5,390 1609.2,390.3 1613.9,390.6C1618.5,390.9 1623.2,391.2 1627.8,391.4C1632.5,391.7 1637.2,392 1641.8,392.3C1646.5,392.6 1651.2,392.9 1655.8,393.1C1660.5,393.4 1665.2,393.7 1669.8,394C1674.5,394.3 1679.2,394.5 1683.8,394.8C1688.5,395.1 1693.1,395.4 1697.8,395.7C1702.5,396 1707.1,396.2 1711.8,396.5C1716.5,396.8 1721.1,397.1 1725.8,397.4C1730.5,397.6 1735.1,397.9 1739.8,398.2C1744.5,398.5 1749.1,398.8 1753.8,399.1C1758.4,399.3 1763.1,399.6 1767.8,399.9C1772.4,400.2 1777.1,400.5 1781.8,400.8C1786.4,401 1791.1,401.3 1795.8,401.6C1800.4,401.9 1805.1,402.2 1809.8,402.4C1814.4,402.7 1819.1,403 1823.7,403.3C1828.4,403.6 1833.1,403.9 1837.7,404.1C1842.4,404.4 1847.1,404.7 1851.7,405C1856.4,405.3 1861.1,405.5 1865.7,405.8C1870.4,406.1 1875.1,406.4 1879.7,406.7C1884.4,407 1889.1,407.2 1893.7,407.5C1898.4,407.8 1903,408.1 1907.7,408.4C1912.4,408.7 1917,408.9 1921.7,409.2C1926.4,409.5 1931,409.8 1935.7,410.1C1940.4,410.3 1945,410.6 1949.7,410.9C1954.4,411.2 1959,411.5 1963.7,411.8C1968.3,412 1973,412.3 1977.7,412.6C1982.3,412.9 1987,413.2 1991.7,413.5C1996.3,413.7 2001,414 2005.7,414.3C2010.3,414.6 2015,414.9 2019.7,415.1C2024.3,415.4 2029,415.7 2033.6,416C2038.3,416.3 2043,416.6 2047.6,416.8C2052.3,417.1 2057,417.4 2061.6,417.7C2066.3,418 2071,418.2 2075.6,418.5C2080.3,418.8 2085,419.1 2089.6,419.4C2094.3,419.7 2098.9,419.9 2103.6,420.2C2108.3,420.5 2112.9,420.8 2117.6,421.1C2122.3,421.4 2126.9,421.6 2131.6,421.9C2136.3,422.2 2140.9,422.5 2145.6,422.8C2150.3,423 2154.9,423.3 2159.6,423.6C2164.3,423.9 2168.9,424.2 2173.6,424.5C2178.2,424.7 2182.9,425 2187.6,425.3C2192.2,425.6 2196.9,425.9 2201.6,426.1C2206.2,426.4 2210.9,426.7 2215.6,427C2220.2,427.3 2224.9,427.6 2229.6,427.8C2234.2,428.1 2238.9,428.4 2243.5,428.7C2248.2,429 2252.9,429.3 2257.5,429.5C2262.2,429.8 2266.9,430.1 2271.5,430.4C2276.2,430.7 2280.9,430.9 2285.5,431.2C2290.2,431.5 2294.9,431.8 2299.5,432.1C2304.2,432.4 2308.8,432.6 2313.5,432.9C2318.2,433.2 2322.8,433.5 2327.5,433.8C2332.2,434.1 2336.8,434.3 2341.5,434.6C2346.2,434.9 2350.8,435.2 2355.5,435.5C2360.2,435.7 2364.8,436 2369.5,436.3C2374.1,436.6 2378.8,436.9 2383.5,437.2C2388.1,437.4 2392.8,437.7 2397.5,438C2402.1,438.3 2406.8,438.6 2411.5,438.8C2416.1,439.1 2420.8,439.4 2425.5,439.7C2430.1,440 2434.8,440.3 2439.4,440.5C2444.1,440.8 2448.8,441.1 2453.4,441.4C2458.1,441.7 2462.8,442 2467.4,442.2C2472.1,442.5 2476.8,442.8 2481.4,443.1C2486.1,443.4 2490.8,443.6 2495.4,443.9C2500.1,444.2 2504.8,444.5 2509.4,444.8C2514.1,445.1 2518.7,445.3 2523.4,445.6C2528.1,445.9 2532.7,446.2 2537.4,446.5C2542.1,446.7 2546.7,447 2551.4,447.3C2556.1,447.6 2560.7,447.9 2565.4,448.2C2570.1,448.4 2574.7,448.7 2579.4,449C2584,449.3 2588.7,449.6 2593.4,449.9C2598,450.1 2602.7,450.4 2607.4,450.7C2612,451 2616.7,451.3 2621.4,451.5C2626,451.8 2630.7,452.1 2635.4,452.4C2640,452.7 2644.7,453 2649.3,453.2C2654,453.5 2658.7,453.8 2663.3,454.1C2668,454.4 2672.7,454.7 2677.3,454.9C2682,455.2 2686.7,455.5 2691.3,455.8C2696,456.1 2700.7,456.3 2705.3,456.6C2710,456.9 2714.6,457.2 2719.3,457.5C2724,457.8 2728.6,458 2733.3,458.3C2738,458.6 2742.6,458.9 2747.3,459.2C2752,459.4 2756.6,459.7 2761.3,460C2766,460.3 2770.6,460.6 2775.3,460.9C2780,461.1 2784.5,461.4 2789.3,461.7C2794.3,462 2799.5,462.3 2804.6,462.6"/>
<path d="M853.4,473.8C848.7,474.4 844,475.1 839.4,475.7C834.8,476.3 830.2,477 825.5,477.6C820.9,478.2 816.3,478.9 811.7,479.5C807,480.1 802.4,480.8 797.8,481.4C793.2,482 788.5,482.7 783.9,483.3C779.3,484 774.7,484.6 770,485.2C765.4,485.9 760.8,486.5 756.2,487.1C751.5,487.8 746.9,488.4 742.3,489C737.7,489.7 733.1,490.3 728.4,491C723.8,491.6 719.2,492.2 714.6,492.9C709.9,493.5 705.3,494.1 700.7,494.8C696.1,495.4 691.4,496 686.8,496.7C682.2,497.3 677.6,497.9 672.9,498.6C668.3,499.2 663.7,499.9 659.1,500.5C654.5,501.1 649.8,501.8 645.2,502.4C640.6,503 636,503.7 631.3,504.3C626.7,504.9 622.1,505.6 617.5,506.2C612.8,506.8 608.2,507.5 603.6,508.1C599,508.8 594.3,509.4 589.7,510C585.1,510.7 580.5,511.3 575.8,511.9C571.2,512.6 566.6,513.2 562,513.8C557.4,514.5 552.7,515.1 548.1,515.8C543.5,516.4 538.9,517 534.2,517.7C529.6,518.3 525,518.9 520.4,519.6C515.7,520.2 511.1,520.8 506.5,521.5C501.9,522.1 497.2,522.7 492.6,523.4C488,524 483.4,524.7 478.8,525.3C474.1,525.9 469.5,526.6 464.9,527.2C460.3,527.8 455.6,528.5 451,529.1C446.4,529.7 441.8,530.4 437.1,531C432.5,531.6 427.9,532.3 423.3,532.9C418.6,533.6 414,534.2 409.4,534.8C404.8,535.5 400.1,536.1 395.5,536.7C390.9,537.4 385.9,538.1 381.7,538.6C378.2,539.1 375.2,539.5 372,540"/>
<path d="M976,473.7C981,474.4 986.1,475.1 991,475.8C995.8,476.5 1000.4,477.1 1005.1,477.8C1009.8,478.4 1014.6,479.1 1019.3,479.7C1024,480.4 1028.7,481.1 1033.4,481.7C1038.1,482.4 1042.8,483 1047.5,483.7C1052.2,484.3 1056.9,485 1061.6,485.6C1066.3,486.3 1071,486.9 1075.7,487.6C1080.3,488.2 1085,488.9 1089.7,489.5C1094.4,490.1 1099,490.8 1103.7,491.4C1108.4,492 1113,492.6 1117.7,493.2C1122.3,493.8 1126.8,494.4 1131.6,495C1136.7,495.7 1142.2,496.4 1147.4,497.1C1152.7,497.7 1157.9,498.4 1163.2,499C1168.4,499.7 1173.6,500.3 1178.8,500.9C1184,501.5 1189.2,502.1 1194.4,502.7C1199.6,503.3 1205,503.9 1210.1,504.5C1215,505 1219.8,505.5 1224.5,506C1229.3,506.5 1234,507 1238.8,507.5C1243.5,508 1248.2,508.4 1252.9,508.9C1257.5,509.3 1262.1,509.8 1266.9,510.2C1272,510.7 1277.5,511.3 1282.7,511.7C1288,512.2 1293.3,512.7 1298.5,513.2C1303.8,513.6 1309,514.1 1314.3,514.6C1319.5,515 1324.7,515.5 1330,515.9C1335.2,516.3 1340.5,516.8 1345.7,517.2C1351,517.6 1356.2,518.1 1361.5,518.5C1366.8,518.9 1372.2,519.4 1377.3,519.8C1382.2,520.1 1386.6,520.5 1391.3,520.8C1396,521.2 1400.7,521.6 1405.4,521.9C1410.1,522.3 1414.9,522.7 1419.6,523C1424.4,523.4 1429.2,523.7 1434,524.1C1438.8,524.5 1443.7,524.8 1448.5,525.2C1453.3,525.6 1458,525.9 1462.8,526.3C1467.8,526.7 1473,527 1478.1,527.4C1483.3,527.8 1488.4,528.2 1493.6,528.5C1498.8,528.9 1504,529.3 1509.2,529.6C1514.4,530 1519.7,530.3 1524.9,530.7C1530.2,531 1535.5,531.4 1540.8,531.7C1546.1,532.1 1551.6,532.5 1556.7,532.8C1561.6,533.1 1566.1,533.4 1570.8,533.7C1575.5,534 1580.2,534.3 1584.9,534.6C1589.6,534.9 1594.3,535.2 1599,535.5C1603.7,535.8 1608.4,536.1 1613.2,536.3C1617.9,536.6 1622.6,536.9 1627.4,537.2C1632.1,537.5 1636.9,537.8 1641.6,538.1C1646.4,538.4 1651.1,538.7 1655.9,539C1660.6,539.3 1665.4,539.5 1670.1,539.8C1674.9,540.1 1679.6,540.4 1684.4,540.7C1689.1,541 1693.6,541.3 1698.6,541.6C1704.1,541.9 1710.2,542.3 1716,542.6"/>
<path d="M951.5,478C956.3,479.6 961.1,481.3 965.8,482.9C970.3,484.4 974.6,485.9 979,487.5C983.4,489 987.8,490.5 992.3,492C996.7,493.5 1001.1,495 1005.5,496.6C1009.9,498.1 1014.3,499.6 1018.7,501.1C1023.1,502.6 1027.6,504.1 1032,505.7C1036.4,507.2 1040.8,508.7 1045.2,510.2C1049.6,511.7 1054,513.3 1058.5,514.8C1062.9,516.3 1067.3,517.8 1071.7,519.3C1076.1,520.8 1080.5,522.4 1084.9,523.9C1089.4,525.4 1094.8,527.3 1098.2,528.4C1100.3,529.2 1101.6,529.6 1103.3,530.2"/>
<path d="M901.1,478C897.3,481.5 893.4,485.1 889.7,488.6C886.2,491.8 882.8,495 879.4,498.1C876,501.3 872.6,504.5 869.1,507.7C865.7,510.9 862,514.4 858.8,517.3C856.1,519.8 853.8,521.9 851.3,524.3"/>
<path d="M917,478C917.9,483.2 918.9,488.5 919.8,493.6C920.7,498.4 921.5,503.1 922.3,507.7C923.1,512 923.8,516 924.6,520.2"/>
<path d="M931.9,478C935.9,481 940.1,484.1 944.1,487C947.9,489.9 951.7,492.6 955.5,495.4C959.3,498.2 963.1,501.1 966.9,503.9C970.7,506.7 974.5,509.5 978.4,512.3C982.2,515.1 986.5,518.3 989.8,520.7C992.2,522.5 994,523.9 996.1,525.4"/>
<path d="M883.5,478C879,479.8 874.5,481.6 870.1,483.4C865.8,485.2 861.5,486.9 857.1,488.7C852.8,490.5 848.4,492.2 844.1,494C839.8,495.7 835.4,497.5 831.1,499.3C826.8,501 822.4,502.8 818.1,504.5C813.8,506.3 809.4,508.1 805.1,509.8C800.8,511.6 796.4,513.3 792.1,515.1C787.8,516.8 783.4,518.6 779.1,520.4C774.8,522.1 769.7,524.2 766.1,525.6C763.5,526.7 761.7,527.4 759.5,528.3"/>
<path d="M1965.5,245.8C1960.8,246.5 1956.1,247.3 1951.3,248C1946.4,248.8 1941.4,249.5 1936.4,250.3C1931.4,251 1926.3,251.8 1921.3,252.5C1916.2,253.3 1911.2,254 1906.1,254.7C1901,255.4 1895.9,256.2 1890.8,256.9C1885.7,257.6 1880.6,258.3 1875.5,259C1870.3,259.8 1865.2,260.5 1860.1,261.2C1855,261.9 1849.9,262.6 1844.8,263.3C1839.7,264.1 1834.6,264.8 1829.5,265.5C1824.4,266.2 1819.4,267 1814.3,267.7C1809.3,268.5 1804.3,269.2 1799.3,270C1794.3,270.7 1789.4,271.5 1784.4,272.2C1779.5,273 1774.6,273.8 1769.7,274.6C1764.9,275.4 1760.1,276.2 1755.3,277C1750.5,277.8 1745.8,278.6 1741.1,279.4C1736.4,280.3 1732,281.1 1727.2,282C1722.2,282.9 1716.9,284 1711.8,285C1706.7,286 1701.7,287.1 1696.8,288.2C1691.9,289.3 1687.1,290.4 1682.4,291.5C1677.7,292.6 1673.2,293.7 1668.6,295C1663.7,296.3 1658.6,297.7 1653.8,299.1C1649.1,300.5 1644.6,301.9 1639.9,303.5C1635.2,305.1 1630.3,306.8 1625.7,308.6C1621.1,310.4 1616.8,312.2 1612.3,314.3C1607.5,316.5 1602.5,319.1 1597.9,321.7C1593.4,324.2 1589.2,326.8 1585.1,329.5C1581.1,332.1 1577.4,334.7 1573.5,337.6C1569.5,340.6 1565.4,343.9 1561.4,347.2C1557.5,350.4 1553.4,354 1550,356.9C1547.2,359.3 1545,361.2 1542.5,363.4"/>
<path d="M2056.2,246.8C2060.9,247.6 2065.6,248.4 2070.3,249.2C2075.1,250 2080,250.7 2084.9,251.5C2089.9,252.3 2094.8,253.1 2099.8,253.9C2104.9,254.6 2110,255.4 2115,256.2C2120.1,257 2125.2,257.7 2130.4,258.5C2135.5,259.3 2140.6,260 2145.8,260.8C2150.9,261.6 2156.1,262.3 2161.2,263.1C2166.3,263.9 2171.4,264.6 2176.5,265.4C2181.5,266.2 2186.6,266.9 2191.6,267.7C2196.6,268.5 2201.6,269.3 2206.5,270.1C2211.4,270.8 2216.2,271.6 2221,272.4C2225.7,273.2 2230.3,274 2235.1,274.8C2240.2,275.7 2245.7,276.7 2250.9,277.7C2256,278.7 2261,279.6 2265.9,280.6C2270.6,281.6 2275.1,282.6 2279.9,283.6C2284.7,284.8 2289.6,285.9 2294.5,287.2C2299.4,288.5 2304.3,289.8 2309,291.4C2313.6,292.8 2318.1,294.3 2322.4,296.2C2326.6,298.1 2331.6,299.7 2334.7,302.9C2337.8,306.1 2341.1,311.1 2340.9,315.1C2340.7,319.3 2336.3,323.9 2333.1,327.6C2329.7,331.4 2325,334.5 2320.8,337.6C2316.8,340.5 2312.6,343.1 2308.4,345.6C2304.4,348.1 2300.4,350.3 2296.2,352.5C2291.9,354.8 2287.4,357.1 2282.9,359.4C2278.3,361.7 2273.6,363.9 2268.9,366.1C2264.2,368.3 2259.3,370.5 2254.5,372.6C2249.7,374.7 2244.9,376.8 2240.1,378.8C2235.4,380.8 2230.7,382.8 2226,384.7C2221.3,386.5 2216.6,388.3 2211.9,390C2207.4,391.6 2202.9,393.1 2198.3,394.6C2193.6,396.1 2188.6,397.6 2183.8,398.9C2179.2,400.3 2174.8,401.5 2170.3,402.7C2165.6,403.9 2160.9,405.1 2156.1,406.3C2151.3,407.5 2146.4,408.6 2141.5,409.8C2136.5,410.9 2131.4,412 2126.4,413.1C2121.2,414.2 2115.9,415.4 2110.8,416.4C2106,417.4 2101.5,418.3 2096.9,419.2C2092.2,420.1 2087.4,421 2082.7,421.9C2077.9,422.8 2073.1,423.7 2068.3,424.6C2063.4,425.5 2058.5,426.4 2053.6,427.2C2048.7,428.1 2043.8,429 2038.8,429.8C2033.9,430.7 2028.9,431.5 2023.9,432.4C2018.9,433.2 2013.9,434.1 2008.9,434.9C2003.9,435.8 1998.8,436.6 1993.8,437.4C1988.7,438.3 1983.7,439.1 1978.6,439.9C1973.6,440.8 1968.5,441.6 1963.5,442.4C1958.5,443.3 1953.4,444.1 1948.4,445C1943.4,445.8 1938.3,446.6 1933.3,447.5C1928.3,448.3 1923.3,449.2 1918.3,450C1913.4,450.9 1908.4,451.7 1903.5,452.6C1898.6,453.5 1893.2,454.4 1888.8,455.2C1885,455.9 1881.9,456.5 1878.4,457.1"/>
<path d="M1965.5,244.9C1960.4,245.6 1955.2,246.4 1950.2,247.1C1945.3,247.8 1940.6,248.5 1935.7,249.2C1930.9,249.9 1926,250.6 1921.2,251.2C1916.3,251.9 1911.4,252.6 1906.6,253.3C1901.7,253.9 1896.8,254.6 1891.9,255.3C1887,256 1882.1,256.6 1877.2,257.3C1872.2,258 1867.3,258.6 1862.4,259.3C1857.5,260 1852.6,260.6 1847.6,261.3C1842.7,262 1837.8,262.6 1832.9,263.3C1828,264 1823.1,264.6 1818.1,265.3C1813.2,266 1808.3,266.7 1803.4,267.3C1798.5,268 1793.7,268.7 1788.8,269.4C1783.9,270 1779,270.7 1774.2,271.4C1769.3,272.1 1764.5,272.8 1759.6,273.4C1754.8,274.1 1750,274.8 1745.2,275.5C1740.4,276.2 1735.6,276.9 1730.9,277.6C1726.1,278.3 1721.4,279 1716.7,279.7C1712,280.4 1707.3,281.1 1702.6,281.9C1697.9,282.6 1693.4,283.3 1688.7,284C1683.6,284.9 1678.2,285.7 1673,286.6C1667.8,287.4 1662.6,288.3 1657.5,289.2C1652.4,290 1647.3,290.9 1642.3,291.8C1637.3,292.7 1632.3,293.6 1627.3,294.5C1622.4,295.4 1617.5,296.3 1612.7,297.2C1607.9,298.2 1603.1,299.1 1598.4,300.1C1593.7,301 1589.2,301.9 1584.4,303C1579.4,304 1574.2,305.2 1569.2,306.3C1564.2,307.4 1559.4,308.6 1554.4,309.8C1549.3,311 1544.1,312.3 1539,313.7C1533.9,315 1528.8,316.4 1523.9,317.9C1519.1,319.3 1514.3,320.7 1509.6,322.2C1505,323.7 1500.6,325.1 1496,326.7C1491.1,328.4 1486,330.2 1481.1,332C1476.3,333.7 1471.5,335.5 1466.8,337.4C1462.1,339.1 1457.5,341 1452.9,342.8C1448.3,344.6 1443.7,346.5 1439.1,348.3C1434.5,350.2 1429.9,352 1425.3,353.8C1420.7,355.7 1416.1,357.5 1411.4,359.3C1406.7,361.2 1401.9,363 1397.1,364.8C1392.2,366.6 1387.1,368.4 1382.3,370.1C1377.7,371.7 1373.3,373.2 1368.7,374.7C1364,376.2 1359.3,377.7 1354.5,379.1C1349.5,380.6 1344.4,382.1 1339.5,383.5C1334.6,384.8 1330,386 1325.1,387.3C1320.1,388.5 1314.8,389.9 1309.9,391.1C1305.1,392.2 1300.6,393.3 1295.9,394.4C1291.2,395.5 1286.4,396.6 1281.6,397.7C1276.8,398.8 1271.9,399.8 1267,400.9C1262.1,402 1257.1,403 1252.1,404.1C1247.1,405.1 1242,406.1 1236.9,407.2C1231.8,408.2 1226.6,409.2 1221.5,410.3C1216.3,411.3 1210.8,412.3 1205.8,413.3C1201,414.2 1196.5,415.1 1191.9,415.9C1187.2,416.8 1182.5,417.7 1177.9,418.6C1173.1,419.4 1168.4,420.3 1163.7,421.2C1159,422 1154.2,422.9 1149.4,423.7C1144.6,424.6 1139.9,425.4 1135.1,426.3C1130.3,427.2 1125.4,428 1120.6,428.8C1115.8,429.7 1110.9,430.5 1106.1,431.4C1101.2,432.2 1096.4,433.1 1091.5,433.9C1086.7,434.8 1081.8,435.6 1076.9,436.4C1072.1,437.3 1067.2,438.1 1062.3,439C1057.5,439.8 1052.6,440.6 1047.7,441.5C1042.8,442.3 1038,443.2 1033.1,444C1028.3,444.8 1023.4,445.7 1018.5,446.5C1013.7,447.4 1008.9,448.2 1004,449.1C999.1,449.9 994.1,450.8 989.2,451.7"/>
<path d="M2056.2,242.5C2061,242.9 2065.7,243.4 2070.7,243.8C2075.9,244.2 2081.6,244.7 2086.7,245.1C2091.6,245.5 2096.1,245.8 2100.8,246.2C2105.6,246.5 2110.4,246.9 2115.2,247.2C2120,247.6 2124.8,247.9 2129.7,248.3C2134.6,248.6 2139.6,248.9 2144.5,249.3C2149.5,249.6 2154.5,249.9 2159.5,250.2C2164.5,250.6 2169.5,250.9 2174.6,251.2C2179.7,251.5 2184.8,251.8 2189.9,252.1C2195,252.5 2200.1,252.8 2205.3,253.1C2210.4,253.4 2215.6,253.7 2220.7,254C2225.9,254.3 2231.1,254.6 2236.3,254.9C2241.5,255.2 2246.7,255.5 2251.9,255.8C2257.1,256.1 2262.4,256.4 2267.6,256.7C2272.8,257 2278,257.3 2283.2,257.6C2288.5,257.9 2293.7,258.2 2298.9,258.5C2304.1,258.8 2309.3,259.1 2314.5,259.4C2319.7,259.7 2324.9,260 2330,260.3C2335.2,260.6 2340.4,260.9 2345.5,261.2C2350.6,261.6 2355.8,261.9 2360.9,262.2C2366,262.5 2371.1,262.8 2376.1,263.1C2381.2,263.4 2386.2,263.8 2391.2,264.1C2396.2,264.4 2401.2,264.7 2406.1,265.1C2411.1,265.4 2416,265.7 2420.9,266.1C2425.7,266.4 2430.6,266.8 2435.4,267.1C2440.2,267.5 2444.9,267.8 2449.7,268.2C2454.4,268.5 2458.9,268.9 2463.7,269.3C2468.8,269.7 2474.4,270.1 2479.7,270.6C2484.9,271 2490.1,271.5 2495.3,272C2500.3,272.4 2505.4,272.9 2510.4,273.4C2515.3,273.9 2520.2,274.4 2525,274.9C2529.8,275.4 2534.3,275.9 2539.1,276.4C2544.2,277 2549.5,277.6 2554.6,278.3C2559.5,278.9 2564.3,279.5 2569.2,280.2C2574.3,280.9 2579.6,281.7 2584.7,282.5C2589.6,283.3 2594.2,284.1 2599,285C2603.8,285.8 2608.7,286.8 2613.5,287.8C2618.3,288.9 2623,289.9 2627.6,291.2C2632.3,292.5 2637.1,293.8 2641.6,295.6C2646,297.2 2650.7,298.7 2654.5,301.4C2658.2,304 2662.9,307.4 2664,311.3C2665.1,315.4 2662.7,321.5 2660.5,325.7C2658.3,329.8 2654.6,333 2651.2,336.4C2647.6,339.8 2643.5,343 2639.6,346.1C2635.7,349.1 2631.9,351.8 2627.8,354.5C2623.7,357.4 2619.3,360.1 2615,362.9C2610.5,365.6 2606,368.3 2601.5,371C2597,373.6 2592.4,376.2 2587.9,378.7C2583.8,381 2579.8,383.2 2575.6,385.4C2571.5,387.6 2567.2,389.8 2562.9,391.8C2558.5,394 2553.9,396 2549.3,398C2544.6,400.1 2539.6,402.1 2534.9,404C2530.3,405.8 2526,407.4 2521.4,409.1C2516.8,410.8 2512.1,412.4 2507.4,414C2502.6,415.7 2497.7,417.3 2492.8,418.8C2487.8,420.4 2482.6,422 2477.7,423.5C2473,424.9 2468.7,426.2 2464.1,427.5C2459.5,428.8 2454.8,430.1 2450.2,431.4C2445.4,432.7 2440.7,434 2435.9,435.3C2431.1,436.5 2426.2,437.8 2421.4,439C2416.4,440.3 2411.5,441.5 2406.5,442.8C2401.5,444 2396.5,445.2 2391.5,446.4C2386.4,447.7 2381.3,448.9 2376.2,450.1C2371.1,451.3 2365.9,452.5 2360.7,453.7C2355.5,454.9 2350.3,456.1 2345.1,457.3C2339.8,458.5 2334.3,459.7 2329.2,460.9C2324.5,462 2320.2,462.9 2315.6,464C2310.8,465 2306,466.1 2301.2,467.2C2296.2,468.2 2291,469.3 2286.1,470.4C2281.4,471.3 2276.9,472.2 2272.3,473.1C2267.6,474.1 2263,475 2258.3,475.9C2253.5,476.8 2248.7,477.6 2243.9,478.5C2239.1,479.4 2234.2,480.3 2229.3,481.1C2224.4,482 2219.5,482.9 2214.5,483.7C2209.5,484.6 2204.5,485.4 2199.4,486.2C2194.3,487.1 2189.2,487.9 2184.1,488.7C2179,489.5 2173.8,490.3 2168.6,491.2C2163.4,492 2158,492.8 2152.9,493.6C2148.1,494.3 2143.7,495 2139,495.6C2134.4,496.3 2129.7,497 2125,497.7C2120.3,498.4 2115.6,499.1 2110.9,499.7C2106.2,500.4 2101.4,501.1 2096.7,501.7C2091.9,502.4 2087.1,503.1 2082.4,503.7C2077.6,504.4 2072.8,505.1 2067.9,505.7C2063.1,506.4 2058.3,507 2053.5,507.7C2048.6,508.3 2043.8,509 2038.9,509.6C2034.1,510.3 2029.2,510.9 2024.3,511.6C2019.4,512.2 2014.6,512.9 2009.7,513.5C2004.8,514.2 1999.9,514.8 1995,515.4C1990.1,516.1 1985.2,516.7 1980.3,517.4C1975.4,518 1970.5,518.6 1965.6,519.3C1960.7,519.9 1955.7,520.6 1950.8,521.2C1945.9,521.8 1941,522.5 1936.1,523.1C1931.2,523.8 1926.3,524.4 1921.4,525C1916.5,525.7 1911.6,526.3 1906.7,527C1901.8,527.6 1896.9,528.3 1892.1,528.9C1887.2,529.5 1882.3,530.2 1877.4,530.8C1872.6,531.5 1867.7,532.1 1862.9,532.8C1858.1,533.4 1853.2,534.1 1848.4,534.8C1843.6,535.4 1838.5,536.1 1834,536.7C1829.9,537.3 1826.3,537.8 1822.5,538.3"/>
<path d="M2056.2,241.2C2061,241.5 2065.7,241.9 2070.5,242.1C2075.4,242.5 2080.4,242.8 2085.4,243.1C2090.4,243.3 2095.4,243.6 2100.5,243.9C2105.5,244.2 2110.6,244.5 2115.7,244.7C2120.8,245 2126,245.3 2131.1,245.6C2136.3,245.8 2141.5,246.1 2146.6,246.3C2151.9,246.6 2157.1,246.8 2162.3,247.1C2167.6,247.3 2172.8,247.6 2178.1,247.8C2183.4,248 2188.7,248.3 2194,248.5C2199.4,248.7 2204.7,248.9 2210,249.2C2215.4,249.4 2220.8,249.6 2226.2,249.8C2231.5,250 2236.9,250.3 2242.3,250.5C2247.8,250.7 2253.4,250.9 2258.6,251.1C2263.5,251.3 2267.9,251.4 2272.6,251.6C2277.3,251.8 2282,252 2286.6,252.1C2291.3,252.3 2296,252.5 2300.7,252.7C2305.4,252.8 2310.1,253 2314.8,253.2C2319.5,253.3 2324.2,253.5 2328.9,253.7C2333.6,253.8 2338.3,254 2343.1,254.2C2347.8,254.3 2352.5,254.5 2357.2,254.7C2361.9,254.8 2366.6,255 2371.3,255.2C2376.1,255.3 2380.8,255.5 2385.5,255.7C2390.2,255.8 2394.9,256 2399.6,256.2C2404.3,256.3 2409,256.5 2413.7,256.7C2418.4,256.8 2423.1,257 2427.8,257.2C2432.5,257.3 2437.2,257.5 2441.9,257.7C2446.5,257.9 2451,258 2455.9,258.2C2461.1,258.4 2466.8,258.6 2472.2,258.8C2477.6,259 2483,259.2 2488.4,259.5C2493.8,259.7 2499.2,259.9 2504.6,260.1C2509.9,260.3 2515.3,260.6 2520.6,260.8C2526,261 2531.3,261.2 2536.6,261.5C2541.9,261.7 2547.2,261.9 2552.5,262.2C2557.7,262.4 2563,262.7 2568.2,262.9C2573.4,263.2 2578.7,263.4 2583.8,263.7C2589,263.9 2594.2,264.2 2599.3,264.4C2604.4,264.7 2609.6,265 2614.7,265.3C2619.7,265.5 2624.8,265.8 2629.8,266.1C2634.8,266.4 2639.8,266.7 2644.8,267C2649.8,267.3 2654.7,267.6 2659.6,267.9C2664.5,268.2 2669.4,268.5 2674.3,268.9C2679.1,269.2 2683.9,269.5 2688.7,269.9C2693.5,270.2 2698.2,270.5 2702.9,270.9C2707.6,271.2 2712.1,271.6 2716.9,272C2722,272.4 2727.5,272.8 2732.7,273.3C2737.8,273.7 2743,274.2 2748.1,274.6C2753.1,275.1 2758.2,275.5 2763.2,276C2768.1,276.5 2773,277 2777.9,277.5C2782.7,278 2787.5,278.6 2792.3,279.1C2797,279.6 2801.5,280.1 2806.3,280.7C2811.3,281.3 2816.5,282 2821.6,282.7C2826.5,283.3 2831.4,284 2836.3,284.7C2841.1,285.4 2845.7,286.1 2850.5,286.8C2855.5,287.6 2860.7,288.5 2865.7,289.4C2870.6,290.2 2875.3,291.1 2880.1,292C2885.1,293 2890.2,294 2895.2,295.1C2899.9,296.2 2904.5,297.2 2909.2,298.4C2914,299.6 2918.7,300.8 2923.4,302.2C2928.1,303.6 2932.7,305 2937.5,306.6C2942.4,308.4 2947.7,310.3 2952.6,312.4C2957.5,314.5 2962.3,316.8 2966.9,319.2C2971.1,321.5 2975.1,323.7 2979.1,326.4C2983.2,329 2987.2,331.9 2991.1,335.1C2995.1,338.3 2999.1,341.9 3002.7,345.5C3006.3,349 3009.5,352.7 3012.7,356.3C3015.9,360 3018.9,363.8 3021.9,367.5C3025,371.3 3028,375.1 3031.1,378.9C3034.4,382.9 3038.1,387 3041.3,391.1C3044.3,394.9 3047,398.7 3049.7,402.7C3052.3,406.6 3054.8,410.6 3057.3,414.6C3059.8,418.7 3062,422.6 3064.4,426.8C3067,431.4 3069.7,436.3 3072.3,441"/>
<path d="M2056.2,241.9C2061.2,242.2 2066.2,242.6 2071.2,243C2076.2,243.3 2081.3,243.7 2086.4,244C2091.5,244.4 2096.7,244.7 2101.8,245C2107,245.4 2112.3,245.7 2117.5,246C2122.8,246.3 2128,246.6 2133.3,246.9C2138.7,247.2 2144,247.5 2149.4,247.8C2154.7,248 2160.1,248.3 2165.5,248.6C2170.9,248.9 2176.6,249.1 2181.8,249.4C2186.7,249.6 2191.2,249.8 2195.9,250C2200.6,250.3 2205.3,250.5 2210.1,250.7C2214.8,250.9 2219.5,251.1 2224.3,251.3C2229,251.5 2233.8,251.7 2238.6,251.9C2243.3,252.1 2248.1,252.3 2252.9,252.5C2257.7,252.7 2262.4,252.9 2267.2,253.1C2272,253.3 2276.8,253.5 2281.6,253.7C2286.4,253.9 2291.2,254.1 2296,254.3C2300.8,254.5 2305.6,254.7 2310.4,254.9C2315.2,255.1 2320,255.3 2324.8,255.5C2329.6,255.7 2334.4,255.9 2339.2,256.1C2344,256.3 2348.7,256.5 2353.5,256.7C2358.3,256.9 2363.1,257.1 2367.8,257.3C2372.6,257.5 2377.3,257.7 2382.1,257.9C2386.8,258.1 2391.5,258.3 2396.3,258.6C2401,258.8 2405.7,259 2410.4,259.2C2415.1,259.4 2419.6,259.7 2424.4,259.9C2429.6,260.1 2435.3,260.4 2440.7,260.7C2446.1,261 2451.4,261.3 2456.8,261.5C2462.1,261.8 2467.4,262.1 2472.7,262.4C2478,262.7 2483.3,263 2488.5,263.3C2493.7,263.7 2498.9,264 2504.1,264.3C2509.2,264.6 2514.3,265 2519.4,265.3C2524.5,265.7 2529.6,266 2534.6,266.4C2539.6,266.8 2544.5,267.1 2549.5,267.5C2554.4,267.9 2559.2,268.3 2564.1,268.7C2568.9,269.1 2573.7,269.5 2578.4,270C2583.1,270.4 2587.7,270.8 2592.5,271.3C2597.6,271.8 2603,272.3 2608.2,272.9C2613.3,273.4 2618.3,274 2623.4,274.6C2628.3,275.2 2633.3,275.8 2638.2,276.4C2643,277 2647.6,277.6 2652.4,278.3C2657.5,279 2662.8,279.8 2667.9,280.6C2672.9,281.4 2677.8,282.2 2682.6,283.1C2687.4,283.9 2692,284.8 2696.7,285.7C2701.5,286.7 2706.6,287.7 2711.4,288.8C2716.1,289.9 2720.6,291 2725.1,292.2C2729.8,293.4 2734.5,294.7 2739,296.1C2743.6,297.6 2748.3,299.1 2752.7,300.8C2757.1,302.5 2761.3,304.2 2765.7,306.3C2770.3,308.6 2775.2,311.3 2779.5,314.2C2783.6,317 2787.3,319.9 2790.8,323.3C2794.3,326.8 2797.6,330.6 2800.4,334.8C2803.4,339 2806,343.8 2808.2,348.6C2810.5,353.2 2812.2,358.1 2814.1,362.9C2816.1,367.7 2817.8,372.6 2819.8,377.4C2821.8,382.3 2824.3,387.3 2826.3,392C2828.2,396.5 2829.8,400.8 2831.4,405.2C2832.9,409.6 2834.3,414.1 2835.7,418.6C2837.1,423.2 2838.5,428.4 2839.6,432.3C2840.5,435.2 2841,437.3 2841.7,439.8"/>
<path d="M2056.2,241.8C2061,242.3 2065.9,242.7 2070.7,243.1C2075.4,243.5 2080,243.9 2084.7,244.3C2089.3,244.7 2094,245.1 2098.6,245.5C2103.3,245.8 2107.9,246.2 2112.6,246.6C2117.3,247 2121.9,247.4 2126.6,247.8C2131.2,248.2 2135.9,248.6 2140.5,249C2145.2,249.4 2149.8,249.8 2154.5,250.2C2159.1,250.6 2163.8,251 2168.5,251.4C2173.1,251.8 2177.8,252.2 2182.4,252.6C2187.1,253 2191.7,253.4 2196.4,253.8C2201,254.1 2205.7,254.5 2210.4,254.9C2215,255.3 2219.7,255.7 2224.3,256.1C2229,256.5 2233.6,256.9 2238.3,257.3C2242.9,257.7 2247.6,258.1 2252.2,258.5C2256.9,258.9 2261.6,259.3 2266.2,259.7C2270.9,260.1 2275.5,260.5 2280.2,260.9C2284.8,261.3 2289.5,261.7 2294.1,262C2298.8,262.4 2303.5,262.8 2308.1,263.2C2312.8,263.6 2317.4,264 2322.1,264.4C2326.7,264.8 2331.4,265.2 2336,265.6C2340.7,266 2345.4,266.4 2350,266.8C2354.7,267.2 2359.3,267.6 2364,268C2368.6,268.4 2373.3,268.8 2377.9,269.2C2382.6,269.6 2387.2,270 2391.9,270.3C2396.6,270.7 2401.2,271.1 2405.9,271.5C2410.5,271.9 2415.2,272.3 2419.8,272.7C2424.5,273.1 2429.1,273.5 2433.8,273.9C2438.5,274.3 2443.1,274.7 2447.8,275.1C2452.4,275.5 2457.1,275.9 2461.7,276.3C2466.4,276.7 2471,277.1 2475.7,277.5C2480.3,277.9 2485,278.3 2489.7,278.6C2494.3,279 2499,279.4 2503.6,279.8C2508.3,280.2 2512.9,280.6 2517.6,281C2522.2,281.4 2526.9,281.8 2531.6,282.2C2536.2,282.6 2540.9,283 2545.5,283.4C2550.2,283.8 2554.8,284.2 2559.5,284.6C2564.1,285 2568.8,285.4 2573.4,285.8C2578.1,286.2 2582.8,286.6 2587.4,286.9C2592.1,287.3 2596.7,287.7 2601.4,288.1C2606,288.5 2610.7,288.9 2615.3,289.3C2620,289.7 2624.7,290.1 2629.3,290.5C2634,290.9 2638.6,291.3 2643.3,291.7C2647.9,292.1 2652.6,292.5 2657.2,292.9C2661.9,293.3 2666.6,293.7 2671.2,294.1C2675.9,294.5 2680.5,294.8 2685.2,295.2C2689.8,295.6 2694.5,296 2699.1,296.4C2703.8,296.8 2708.4,297.2 2713.1,297.6C2717.8,298 2722.4,298.4 2727.1,298.8C2731.7,299.2 2736.4,299.6 2741,300C2745.7,300.4 2750.3,300.8 2755,301.2C2759.7,301.6 2764.3,302 2769,302.4C2773.6,302.8 2778.3,303.1 2782.9,303.5C2787.6,303.9 2792,304.3 2796.9,304.7C2802.3,305.2 2808.4,305.7 2814.1,306.2"/>
<path d="M1965.5,238.1C1960.6,238.1 1955.6,238.1 1950.7,238.1C1945.7,238.1 1940.6,238.1 1935.6,238C1930.6,238 1925.6,238 1920.6,238C1915.6,237.9 1910.6,237.9 1905.6,237.9C1900.6,237.9 1895.6,237.8 1890.6,237.8C1885.6,237.8 1880.5,237.8 1875.5,237.7C1870.5,237.7 1865.4,237.7 1860.3,237.7C1855.2,237.7 1850.1,237.7 1844.9,237.7C1839.8,237.7 1834.6,237.7 1829.3,237.7C1824.1,237.8 1818.6,237.8 1813.5,237.8C1808.6,237.9 1804.1,237.9 1799.3,238C1794.5,238 1789.7,238.1 1784.9,238.1C1780,238.2 1775.1,238.3 1770.1,238.4C1765.1,238.5 1760.1,238.6 1755,238.7C1749.9,238.8 1744.7,238.9 1739.5,239C1734.2,239.2 1728.7,239.3 1723.6,239.5C1718.7,239.6 1714.2,239.8 1709.5,240C1704.8,240.1 1700,240.3 1695.2,240.5C1690.3,240.7 1685.3,240.9 1680.3,241.1C1675.3,241.3 1670,241.5 1665,241.8C1660.2,242 1655.7,242.2 1651,242.4C1646.3,242.6 1641.5,242.9 1636.7,243.1C1631.8,243.4 1626.9,243.6 1622,243.9C1617,244.1 1612,244.4 1607,244.7C1601.9,245 1596.8,245.2 1591.7,245.5C1586.5,245.8 1581.3,246.1 1576.1,246.4C1570.9,246.7 1565.4,247.1 1560.3,247.4C1555.5,247.7 1551,247.9 1546.3,248.2C1541.6,248.5 1536.8,248.8 1532.1,249.1C1527.3,249.4 1522.5,249.7 1517.7,250C1512.9,250.3 1508.1,250.6 1503.2,251C1498.4,251.3 1493.5,251.6 1488.6,251.9C1483.7,252.2 1478.8,252.6 1473.8,252.9C1468.9,253.2 1463.9,253.6 1459,253.9C1454,254.2 1449,254.6 1444,254.9C1439,255.3 1434,255.6 1429,255.9C1423.9,256.3 1418.9,256.6 1413.8,257C1408.8,257.4 1403.7,257.7 1398.7,258.1C1393.6,258.4 1388.5,258.8 1383.4,259.1C1378.4,259.5 1373.3,259.9 1368.2,260.2C1363.1,260.6 1358,261 1352.9,261.3C1347.8,261.7 1342.7,262.1 1337.6,262.4C1332.5,262.8 1327.4,263.2 1322.4,263.5C1317.3,263.9 1312.2,264.3 1307.1,264.7C1302,265 1296.9,265.4 1291.8,265.8C1286.8,266.1 1281.7,266.5 1276.6,266.9C1271.6,267.3 1266.5,267.6 1261.5,268C1256.5,268.4 1251.4,268.8 1246.4,269.1C1241.4,269.5 1236.4,269.9 1231.4,270.2C1226.4,270.6 1221.5,271 1216.5,271.3C1211.5,271.7 1206.6,272.1 1201.7,272.4C1196.8,272.8 1191.9,273.2 1187,273.5C1182.1,273.9 1177.3,274.3 1172.4,274.6C1167.6,275 1162.8,275.3 1158,275.7C1153.2,276 1148.4,276.4 1143.7,276.7C1139,277.1 1134.4,277.4 1129.6,277.8C1124.4,278.2 1118.9,278.6 1113.6,278.9C1108.4,279.3 1103.2,279.7 1098,280.1C1092.8,280.5 1087.7,280.8 1082.5,281.2C1077.5,281.6 1072.4,281.9 1067.4,282.3C1062.4,282.6 1057.5,283 1052.6,283.4C1047.7,283.7 1042.9,284 1038.1,284.4C1033.3,284.7 1028.7,285 1023.9,285.4C1018.9,285.7 1013.6,286.1 1008.4,286.4C1003.3,286.8 998.2,287.1 993,287.5C987.8,287.8 982.4,288.2 977.1,288.5C971.8,288.9 966.6,289.3 961.4,289.6C956.3,290 951.2,290.3 946.1,290.6C941.1,291 936,291.3 931.1,291.7C926.1,292 921.2,292.3 916.3,292.7C911.4,293 906.6,293.3 901.8,293.6C897,294 892.2,294.3 887.5,294.6C882.8,294.9 878.2,295.2 873.4,295.6C868.2,295.9 862.8,296.3 857.5,296.7C852.3,297 847,297.4 841.8,297.7C836.7,298.1 831.5,298.4 826.3,298.8C821.2,299.1 816.1,299.5 811,299.8C805.9,300.2 800.8,300.5 795.8,300.9C790.7,301.2 785.7,301.6 780.6,301.9C775.6,302.3 770.5,302.6 765.5,302.9C760.5,303.3 755.4,303.6 750.4,304C745.4,304.3 740.3,304.7 735.3,305C730.3,305.4 725.2,305.7 720.2,306C715.1,306.4 709.7,306.8 704.9,307.1C700.6,307.4 696.7,307.6 692.6,307.9"/>
<path d="M2010.9,250.7C2010.9,256 2010.9,261.4 2010.9,266.5C2010.9,271.4 2010.9,277.3 2010.9,280.8C2010.9,282.7 2010.8,283.8 2010.8,285.3"/>
<path d="M2044.9,250.7C2049.8,252.5 2054.9,254.4 2059.6,256.2C2064.1,257.8 2068.4,259.4 2072.8,261C2077.1,262.7 2081.5,264.3 2085.9,265.9C2090.3,267.6 2094.7,269.2 2099,270.8C2103.4,272.5 2107.8,274.1 2112.2,275.7C2116.5,277.3 2120.9,279 2125.3,280.6C2129.7,282.2 2134.1,283.9 2138.4,285.5C2142.8,287.1 2147.5,288.9 2151.6,290.4C2155.1,291.7 2158.1,292.8 2161.3,294"/>
<path d="M1965.5,240.2C1960.6,240.5 1955.6,240.7 1950.7,241C1945.7,241.2 1940.6,241.5 1935.6,241.7C1930.6,242 1925.6,242.3 1920.6,242.5C1915.6,242.8 1910.6,243 1905.6,243.3C1900.6,243.5 1895.6,243.8 1890.6,244C1885.6,244.3 1880.6,244.5 1875.5,244.8C1870.5,245.1 1865.4,245.3 1860.4,245.6C1855.2,245.8 1850.1,246.1 1845,246.3C1839.8,246.6 1834.6,246.8 1829.4,247.1C1824.1,247.4 1818.7,247.6 1813.5,247.9C1808.7,248.1 1804.1,248.3 1799.4,248.5C1794.6,248.8 1789.8,249 1784.9,249.2C1780,249.5 1775.1,249.7 1770.1,249.9C1765.1,250.1 1760.1,250.4 1755,250.6C1749.9,250.8 1744.7,251.1 1739.5,251.3C1734.2,251.5 1728.7,251.8 1723.6,252C1718.7,252.2 1714.3,252.4 1709.5,252.6C1704.8,252.8 1700,253 1695.2,253.2C1690.2,253.4 1685.2,253.6 1680.2,253.8C1675,254 1669.6,254.2 1664.5,254.4C1659.6,254.6 1654.9,254.7 1650.1,254.9C1645.2,255.1 1640.2,255.2 1635.2,255.4C1630.1,255.5 1625,255.7 1619.8,255.9C1614.6,256 1609.2,256.2 1604.1,256.4C1599.2,256.5 1594.7,256.6 1590,256.8C1585.2,256.9 1580.4,257.1 1575.6,257.2C1570.8,257.3 1565.9,257.5 1561,257.6C1556.1,257.8 1551.1,257.9 1546.1,258C1541.1,258.2 1536.1,258.3 1531.1,258.4C1526,258.6 1520.9,258.7 1515.8,258.8C1510.7,259 1505.5,259.1 1500.4,259.3C1495.2,259.4 1490,259.5 1484.8,259.7C1479.6,259.8 1474.3,259.9 1469.1,260.1C1463.8,260.2 1458.5,260.3 1453.3,260.5C1448,260.6 1442.6,260.8 1437.3,260.9C1432,261 1426.7,261.2 1421.3,261.3C1416,261.5 1410.6,261.6 1405.3,261.7C1399.9,261.9 1394.6,262 1389.2,262.2C1383.8,262.3 1378.5,262.4 1373.1,262.6C1367.7,262.7 1362.3,262.9 1357,263C1351.6,263.2 1346.3,263.3 1340.9,263.4C1335.6,263.6 1330.2,263.7 1324.9,263.9C1319.5,264 1314.2,264.2 1308.9,264.3C1303.6,264.5 1298.3,264.6 1293,264.8C1287.7,264.9 1282.5,265.1 1277.2,265.2C1272,265.4 1266.8,265.6 1261.5,265.7C1256.4,265.9 1251.2,266 1246,266.2C1240.9,266.4 1235.8,266.5 1230.6,266.7C1225.6,266.8 1220.5,267 1215.5,267.2C1210.4,267.3 1205.4,267.5 1200.5,267.7C1195.5,267.9 1190.6,268 1185.7,268.2C1180.8,268.4 1176,268.6 1171.2,268.7C1166.4,268.9 1161.6,269.1 1156.9,269.3C1152.2,269.5 1147.7,269.6 1142.9,269.8C1137.8,270 1132.4,270.3 1127.3,270.5C1122.2,270.7 1117.1,270.9 1112.1,271.1C1107.1,271.4 1102.2,271.6 1097.3,271.8C1092.5,272.1 1087.9,272.3 1083,272.5C1077.9,272.8 1072.6,273.1 1067.5,273.4C1062.5,273.6 1057.6,273.9 1052.7,274.2C1048,274.5 1043.4,274.8 1038.7,275.1C1033.8,275.4 1028.9,275.7 1023.9,276.1C1019,276.4 1013.9,276.8 1008.9,277.2C1004.1,277.6 999.4,278 994.5,278.5C989.4,279 984,279.5 978.8,280C973.9,280.6 969.2,281.1 964.2,281.7C959,282.3 953.5,283 948.3,283.6C943.3,284.3 938.5,284.9 933.5,285.7C928.4,286.4 923,287.2 917.9,288C912.9,288.8 908,289.6 903.2,290.4C898.5,291.2 894.1,292 889.4,292.8C884.5,293.6 879.4,294.6 874.5,295.4C869.6,296.3 864.8,297.1 860,298C855.2,298.9 850.5,299.7 845.7,300.7C840.7,301.8 835.7,303 830.7,304.1C825.9,305.2 821.2,306.3 816.4,307.3C811.8,308.3 807.2,309.1 802.6,310C797.8,310.9 793.1,311.7 788.3,312.5C783.4,313.3 778.4,314.1 773.4,315C768.4,315.8 763.3,316.6 758.2,317.4C753.1,318.2 748.1,319 743,319.8C738.1,320.5 733.4,321.2 728.4,322C723.4,322.8 718.1,323.6 713,324.3C708.1,325 703.4,325.7 698.6,326.5C693.6,327.2 688.6,327.9 683.6,328.7C678.5,329.4 673.1,330.2 668.1,330.9C663.3,331.6 658.8,332.3 654.1,333C649.4,333.7 644.6,334.3 639.8,335C634.9,335.7 630,336.4 625.1,337.1C620.2,337.8 615.2,338.6 610.2,339.3C605.2,340 600.1,340.7 595,341.4C589.9,342.2 584.8,342.9 579.6,343.6C574.5,344.4 569.3,345.1 564,345.8C558.8,346.6 553.6,347.3 548.3,348.1C543,348.8 537.7,349.6 532.4,350.3C527.1,351.1 521.7,351.8 516.4,352.6C511.1,353.3 505.7,354.1 500.3,354.8C495,355.6 489.6,356.4 484.2,357.1C478.9,357.9 473.5,358.6 468.1,359.4C462.7,360.1 457.4,360.9 452,361.7C446.6,362.4 441.3,363.2 435.9,363.9C430.6,364.7 425.3,365.4 420,366.2C414.7,366.9 409.3,367.7 404.1,368.4C399,369.1 394,369.8 389,370.6"/>
<path d="M2056.2,247.7C2061.1,248.6 2066,249.6 2070.9,250.5C2075.9,251.4 2080.8,252.3 2085.7,253.3C2090.8,254.2 2095.8,255.1 2100.9,256C2106,256.9 2111.1,257.8 2116.2,258.7C2121.4,259.7 2126.6,260.6 2131.7,261.5C2136.9,262.4 2142.1,263.3 2147.2,264.2C2152.4,265.1 2157.5,266.1 2162.7,267C2167.8,267.9 2172.9,268.8 2177.9,269.7C2182.9,270.6 2187.9,271.6 2192.9,272.5C2197.8,273.4 2202.7,274.3 2207.5,275.2C2212.2,276.2 2216.8,277 2221.6,278C2226.7,279 2232.2,280.1 2237.4,281.2C2242.4,282.3 2247.3,283.4 2252.2,284.5C2256.8,285.6 2261.3,286.6 2265.9,287.8C2270.6,288.9 2275.4,290.2 2280,291.5C2284.6,292.9 2289.2,294.2 2293.7,295.8C2298.1,297.4 2302.7,298.7 2306.6,301.1C2310.6,303.4 2316.8,306.3 2317.6,309.8C2318.3,313.4 2314.2,319.1 2311,322.6C2307.6,326.3 2302,328.6 2297.5,331.2C2293.2,333.6 2289,335.5 2284.5,337.5C2279.9,339.6 2275,341.6 2270.2,343.5C2265.4,345.4 2260.5,347.2 2255.6,349C2250.7,350.7 2245.7,352.5 2240.9,354C2236.3,355.4 2231.9,356.6 2227.2,357.7C2222.3,358.9 2217.1,360 2212.1,361C2207.3,361.9 2202.7,362.7 2197.9,363.5C2193,364.3 2188,365 2183,365.7C2178,366.4 2172.9,367 2167.8,367.6C2162.6,368.2 2157.4,368.8 2152.3,369.3C2147.1,369.9 2141.9,370.4 2136.8,370.9C2131.7,371.3 2126.6,371.8 2121.6,372.2C2116.7,372.7 2111.8,373.1 2106.9,373.5C2102.2,373.9 2097.6,374.3 2092.9,374.7C2088,375.1 2083,375.6 2078.1,376C2073.2,376.5 2068.3,377 2063.3,377.5C2058.2,378 2053.2,378.5 2048,378.9C2042.8,379.4 2037.4,379.8 2032.2,380.2C2027.2,380.5 2022.3,380.8 2017.3,381.1C2012.2,381.4 2007.1,381.7 2002.1,381.9C1997.3,382.2 1992.9,382.4 1988.1,382.6C1982.9,382.8 1976.5,383 1972.2,383.2C1969.2,383.3 1967.2,383.3 1964.8,383.4"/>
<path d="M2056.2,244.3C2060.9,245 2065.7,245.6 2070.4,246.3C2075,246.9 2079.6,247.6 2084.2,248.2C2088.9,248.8 2093.5,249.5 2098.1,250.1C2102.8,250.8 2107.4,251.4 2112,252.1C2116.6,252.7 2121.3,253.3 2125.9,254C2130.5,254.6 2135.2,255.3 2139.8,255.9C2144.4,256.6 2149,257.2 2153.7,257.8C2158.3,258.5 2162.9,259.1 2167.6,259.8C2172.2,260.4 2176.8,261.1 2181.4,261.7C2186.1,262.4 2190.7,263 2195.3,263.6C2200,264.3 2204.6,264.9 2209.2,265.6C2213.8,266.2 2218.5,266.9 2223.1,267.5C2227.7,268.1 2232.4,268.8 2237,269.4C2241.6,270.1 2246.2,270.7 2250.9,271.4C2255.5,272 2260.1,272.6 2264.8,273.3C2269.4,273.9 2274,274.6 2278.6,275.2C2283.3,275.9 2287.9,276.5 2292.5,277.1C2297.2,277.8 2301.8,278.4 2306.4,279.1C2311,279.7 2315.7,280.4 2320.3,281C2324.9,281.7 2329.6,282.3 2334.2,282.9C2338.8,283.6 2343.4,284.2 2348.1,284.9C2352.7,285.5 2357.3,286.2 2362,286.8C2366.6,287.4 2371.2,288.1 2375.8,288.7C2380.5,289.4 2385.1,290 2389.7,290.7C2394.4,291.3 2399,291.9 2403.6,292.6C2408.2,293.2 2412.7,293.8 2417.5,294.5C2422.8,295.3 2428.6,296.1 2434.2,296.8"/>
<path d="M1965.5,248.7C1960.5,249.9 1955.4,251.1 1950.5,252.3C1945.8,253.4 1941.4,254.5 1936.9,255.5C1932.3,256.6 1927.8,257.7 1923.2,258.8C1918.7,259.8 1914.1,260.9 1909.6,262C1905.1,263.1 1900.5,264.1 1896,265.2C1891.4,266.3 1886.9,267.4 1882.3,268.4C1877.8,269.5 1873.2,270.6 1868.7,271.7C1864.2,272.7 1859.6,273.8 1855.1,274.9C1850.5,276 1846,277 1841.4,278.1C1836.9,279.2 1832.4,280.3 1827.8,281.4C1823.3,282.4 1818.7,283.5 1814.2,284.6C1809.6,285.7 1805.1,286.7 1800.6,287.8C1796,288.9 1791.5,290 1786.9,291C1782.4,292.1 1776.9,293.4 1773.3,294.3C1771,294.8 1769.5,295.2 1767.6,295.6"/>
<path d="M1965.5,243.4C1960.8,244 1956,244.6 1951.2,245.1C1946.6,245.7 1941.9,246.3 1937.3,246.8C1932.7,247.4 1928,247.9 1923.4,248.5C1918.8,249 1914.1,249.6 1909.5,250.1C1904.8,250.7 1900.2,251.3 1895.6,251.8C1890.9,252.4 1886.3,252.9 1881.7,253.5C1877,254 1872.4,254.6 1867.7,255.1C1863.1,255.7 1858.5,256.3 1853.8,256.8C1849.2,257.4 1844.5,257.9 1839.9,258.5C1835.3,259 1830.6,259.6 1826,260.1C1821.4,260.7 1816.7,261.3 1812.1,261.8C1807.4,262.4 1802.8,262.9 1798.2,263.5C1793.5,264 1788.9,264.6 1784.3,265.1C1779.6,265.7 1775,266.3 1770.3,266.8C1765.7,267.4 1761.1,267.9 1756.4,268.5C1751.8,269 1747.2,269.6 1742.5,270.1C1737.9,270.7 1733.2,271.3 1728.6,271.8C1724,272.4 1719.3,272.9 1714.7,273.5C1710.1,274 1705.4,274.6 1700.8,275.1C1696.1,275.7 1691.5,276.3 1686.9,276.8C1682.2,277.4 1677.6,277.9 1672.9,278.5C1668.3,279 1663.7,279.6 1659,280.1C1654.4,280.7 1649.8,281.3 1645.1,281.8C1640.5,282.4 1635.8,282.9 1631.2,283.5C1626.6,284 1621.9,284.6 1617.3,285.1C1612.7,285.7 1608,286.3 1603.4,286.8C1598.7,287.4 1594.1,287.9 1589.5,288.5C1584.8,289 1580.2,289.6 1575.6,290.1C1570.9,290.7 1566.3,291.3 1561.6,291.8C1557,292.4 1552.4,292.9 1547.7,293.5C1543.1,294 1538.4,294.6 1533.8,295.1C1529.2,295.7 1524.5,296.3 1519.9,296.8C1515.3,297.4 1510.6,297.9 1506,298.5C1501.3,299 1495.9,299.7 1492.1,300.1C1489.4,300.5 1487.5,300.7 1485.2,301"/>
<path d="M2827.4,320.4C2822.5,321.3 2817.6,322.3 2812.6,323.2C2807.6,324.2 2802.5,325.2 2797.4,326.2C2792.3,327.2 2787.2,328.2 2782.2,329.2C2777.1,330.2 2772.1,331.2 2767,332.2C2762,333.2 2756.9,334.2 2751.9,335.2C2746.9,336.2 2741.8,337.2 2736.8,338.2C2731.7,339.2 2726.7,340.2 2721.6,341.2C2716.6,342.2 2711.5,343.3 2706.5,344.2C2701.4,345.3 2696.3,346.3 2691.3,347.2C2686.2,348.2 2681.1,349.2 2676,350.2C2670.8,351.2 2665.7,352.2 2660.6,353.2C2655.4,354.2 2650.3,355.2 2645.1,356.2C2639.9,357.2 2634.5,358.2 2629.5,359.2C2624.7,360.1 2620.3,360.9 2615.7,361.7C2611,362.6 2606.4,363.5 2601.7,364.3C2597.1,365.2 2592.4,366 2587.7,366.9C2583,367.7 2578.2,368.6 2573.5,369.4C2568.7,370.3 2563.9,371.1 2559.1,371.9C2554.2,372.8 2549.4,373.6 2544.5,374.5C2539.6,375.3 2534.7,376.1 2529.8,377C2524.8,377.8 2519.8,378.6 2514.8,379.4C2509.8,380.3 2504.7,381.1 2499.6,381.9C2494.5,382.7 2489.3,383.5 2484.2,384.3C2479.3,385.1 2474.6,385.8 2469.8,386.6C2465,387.3 2460.3,388 2455.6,388.7C2450.8,389.4 2446,390.1 2441.2,390.8C2436.4,391.5 2431.6,392.2 2426.7,392.9C2421.8,393.6 2416.9,394.3 2412,395C2407.1,395.7 2402.1,396.4 2397.2,397.1C2392.2,397.8 2387.2,398.5 2382.2,399.2C2377.1,399.9 2372.1,400.5 2367,401.2C2361.9,401.9 2356.8,402.6 2351.7,403.3C2346.6,403.9 2341.4,404.6 2336.3,405.3C2331.1,406 2325.9,406.6 2320.7,407.3C2315.5,408 2310.3,408.6 2305,409.3C2299.8,410 2294.4,410.7 2289.3,411.3C2284.5,411.9 2280,412.5 2275.4,413C2270.7,413.6 2266.1,414.2 2261.4,414.8C2256.7,415.4 2252.1,415.9 2247.4,416.5C2242.7,417.1 2238,417.7 2233.3,418.2C2228.5,418.8 2223.8,419.4 2219.1,419.9C2214.4,420.5 2209.6,421.1 2204.9,421.7C2200.1,422.2 2195.4,422.8 2190.6,423.4C2185.9,423.9 2181.1,424.5 2176.3,425.1C2171.5,425.6 2166.7,426.2 2162,426.8C2157.2,427.3 2152.4,427.9 2147.6,428.5C2142.8,429 2138,429.6 2133.2,430.1C2128.3,430.7 2123.5,431.3 2118.7,431.8C2113.9,432.4 2109.1,433 2104.3,433.5C2099.4,434.1 2094.6,434.6 2089.8,435.2C2084.9,435.8 2080.1,436.3 2075.3,436.9C2070.5,437.5 2065.6,438 2060.8,438.6C2056,439.1 2051.1,439.7 2046.3,440.3C2041.5,440.8 2036.6,441.4 2031.8,442C2027,442.5 2022.1,443.1 2017.3,443.6C2012.5,444.2 2007.7,444.8 2002.9,445.3C1998,445.9 1993.2,446.5 1988.4,447C1983.6,447.6 1978.8,448.1 1974,448.7C1969.2,449.3 1964.4,449.8 1959.6,450.4C1954.8,451 1950,451.5 1945.2,452.1C1940.4,452.7 1935.6,453.2 1930.9,453.8C1926.1,454.4 1921.3,454.9 1916.6,455.5C1911.8,456.1 1907.1,456.6 1902.3,457.2C1897.6,457.8 1892.4,458.4 1888.2,458.9C1884.6,459.3 1881.8,459.7 1878.6,460.1"/>
<path d="M2872.5,324C2871.6,329 2870.8,333.9 2869.9,338.9C2869,344.1 2868,349.6 2867.1,354.7C2866.3,359.5 2865.5,363.9 2864.7,368.6C2863.9,373.2 2863.1,378 2862.3,382.6C2861.6,387.3 2860.8,391.9 2860.1,396.6C2859.3,401.2 2858.6,405.9 2857.8,410.6C2857.1,415.3 2856.3,420 2855.6,424.8C2854.8,429.6 2854.1,434.6 2853.3,439.5"/>
<path d="M311.7,397.3C316.1,400 320.7,402.7 325.1,405.4C329.2,407.8 333.1,410.2 337.1,412.6C341.2,415 345.2,417.4 349.2,419.8C353.3,422.2 357.3,424.7 361.3,427.1C365.4,429.5 369.4,431.9 373.4,434.3C377.5,436.7 382,439.5 385.5,441.5C388.2,443.2 390.3,444.4 392.7,445.8"/>
<path d="M342,397.3C346.9,398.6 352,399.8 356.9,401C361.5,402.1 366,403.2 370.5,404.4C375.1,405.5 379.6,406.6 384.2,407.7C388.7,408.8 393.3,410 397.8,411.1C402.4,412.2 407,413.3 411.5,414.4C416.1,415.6 420.6,416.7 425.2,417.8C429.7,418.9 434.3,420 438.8,421.2C443.4,422.3 447.9,423.4 452.5,424.5C457.1,425.6 461.6,426.8 466.2,427.9C470.7,429 475.3,430.1 479.8,431.2C484.4,432.4 488.9,433.5 493.5,434.6C498,435.7 502.6,436.8 507.1,438C511.7,439.1 516.5,440.3 520.8,441.3C524.6,442.3 527.9,443.1 531.5,443.9"/>
<path d="M375.8,394.2C380.8,394.8 385.8,395.4 390.7,396C395.6,396.7 400.3,397.3 405.2,397.9C410.1,398.6 415.1,399.3 420,400C424.9,400.7 429.8,401.4 434.8,402.2C439.9,403 445,403.7 450.1,404.5C455.3,405.4 460.7,406.2 465.8,407C470.6,407.8 475.1,408.5 479.7,409.3C484.4,410.1 489.1,410.9 493.8,411.6C498.6,412.4 503.3,413.3 508.1,414.1C512.8,414.9 517.6,415.7 522.4,416.6C527.1,417.4 531.9,418.2 536.6,419.1C541.4,419.9 546.1,420.8 550.8,421.7C555.5,422.5 560.2,423.4 564.9,424.3C569.5,425.1 574,426 578.7,426.9C583.8,427.8 589.2,428.9 594.3,429.9C599,430.8 603.5,431.7 608.1,432.6C612.8,433.6 617.5,434.5 622.2,435.5C626.8,436.5 631.4,437.5 636.1,438.5C640.7,439.5 645.1,440.4 649.8,441.5C654.9,442.6 660.2,443.8 665.4,445C670.6,446.1 675.8,447.3 680.9,448.5C686.1,449.7 692.2,451.1 696.4,452.1C699.2,452.7 701.1,453.2 703.5,453.7"/>
<path d="M254.3,397.3C249.3,399.1 244.3,400.8 239.5,402.5C234.9,404.1 230.6,405.6 226.2,407.1C221.8,408.7 217.4,410.2 213,411.8C208.6,413.3 204.2,414.9 199.8,416.4C195.4,417.9 191,419.5 186.5,421C182.1,422.6 177.7,424.1 173.3,425.7C168.9,427.2 164.5,428.7 160.1,430.3C155.7,431.8 151.3,433.4 146.8,434.9C142.4,436.5 138,438 133.6,439.5C129.2,441.1 124.8,442.6 120.4,444.2C116,445.7 111.6,447.3 107.2,448.8"/>
<path d="M278.2,397.3C274.8,400.8 271.4,404.3 268,407.7C264.7,411.1 261.5,414.4 258.2,417.8C254.9,421.2 251.4,424.7 248.4,427.9C245.6,430.7 243.2,433.2 240.7,435.8"/>
<path d="M1669.2,324C1664.3,326 1659.2,328 1654.4,329.9C1649.9,331.6 1645.7,333.3 1641.3,335C1637,336.8 1632.6,338.5 1628.2,340.2C1623.9,342 1619.5,343.7 1615.1,345.4C1610.8,347.1 1606.4,348.9 1602,350.6C1597.7,352.3 1593.3,354 1588.9,355.8C1584.5,357.5 1580.4,359.2 1575.8,361C1570.9,362.9 1565.5,365.1 1560.3,367.1"/>
<path d="M1711.9,324C1715.2,328.1 1718.7,332.3 1722,336.2C1725.1,339.9 1728,343.5 1731.1,347.1C1734.1,350.7 1737.1,354.3 1740.2,358C1743.2,361.6 1746.3,365.3 1749.4,368.9C1752.6,372.6 1755.7,376.3 1758.9,379.9C1762,383.5 1765,386.9 1768.2,390.6C1771.6,394.4 1775.3,398.6 1778.7,402.4C1781.9,406 1785,409.4 1788.1,412.9C1791.3,416.4 1794.5,419.8 1797.7,423.3C1800.9,426.8 1804.2,430.5 1807.3,433.8C1810.1,437 1812.7,439.8 1815.5,442.8"/>
<path d="M1651.5,324C1646.5,325.3 1641.5,326.6 1636.5,327.9C1631.5,329.2 1626.5,330.5 1621.5,331.8C1616.6,333.2 1611.6,334.5 1606.6,335.8C1601.6,337.1 1596.7,338.4 1591.7,339.7C1586.7,341 1581.7,342.3 1576.7,343.7C1571.7,345 1566.7,346.3 1561.7,347.6C1556.7,348.9 1551.7,350.2 1546.6,351.5C1541.5,352.8 1536.5,354.1 1531.4,355.4C1526.2,356.7 1520.9,358 1516,359.3C1511.3,360.4 1506.9,361.5 1502.3,362.6C1497.7,363.8 1493.1,364.9 1488.5,366C1483.8,367.1 1479.2,368.2 1474.5,369.3C1469.7,370.5 1465,371.6 1460.2,372.6C1455.4,373.8 1450.6,374.8 1445.7,375.9C1440.8,377 1435.9,378.1 1431,379.2C1426,380.3 1420.9,381.3 1415.9,382.4C1411.1,383.4 1406.3,384.4 1401.5,385.4C1396.9,386.3 1392.2,387.3 1387.6,388.2C1382.8,389.1 1378.1,390.1 1373.3,391C1368.5,391.9 1363.7,392.8 1358.9,393.7C1354,394.7 1349.1,395.6 1344.2,396.5C1339.3,397.4 1334.3,398.3 1329.3,399.2C1324.3,400.1 1319.3,401 1314.2,401.9C1309.2,402.8 1304.1,403.6 1299,404.5C1293.8,405.4 1288.7,406.3 1283.5,407.2C1278.4,408.1 1273.2,408.9 1267.9,409.8C1262.7,410.7 1257.3,411.6 1252.2,412.4C1247.4,413.2 1243,413.9 1238.3,414.7C1233.7,415.4 1229,416.2 1224.4,416.9C1219.7,417.7 1215,418.5 1210.3,419.2C1205.6,419.9 1200.9,420.7 1196.2,421.4C1191.4,422.2 1186.7,422.9 1182,423.7C1177.2,424.4 1172.5,425.2 1167.7,425.9C1163,426.6 1158.2,427.4 1153.4,428.1C1148.6,428.9 1143.8,429.6 1139.1,430.3C1134.3,431.1 1129.5,431.8 1124.7,432.6C1119.9,433.3 1115.1,434 1110.3,434.8C1105.5,435.5 1100.7,436.2 1095.9,437C1091,437.7 1086.2,438.5 1081.4,439.2C1076.6,439.9 1071.8,440.7 1067,441.4C1062.2,442.1 1057.4,442.9 1052.6,443.6C1047.8,444.3 1043,445.1 1038.2,445.8C1033.4,446.6 1028.6,447.3 1023.8,448C1019,448.8 1014.2,449.5 1009.5,450.3C1004.7,451 998.9,451.9 995.2,452.5C992.7,452.9 991.2,453.1 989.2,453.4"/>
<path d="M1704.8,324C1706.1,328.7 1707.4,333.4 1708.8,338.2C1710.2,343.2 1711.7,348.6 1713.1,353.6C1714.4,358.2 1715.6,362.6 1716.9,367.1C1718.2,371.6 1719.5,376.1 1720.8,380.7C1722.3,385.7 1723.9,390.9 1725.4,396C1727,401 1728.6,406.3 1730.2,411.2C1731.6,415.8 1733,420.1 1734.5,424.6C1735.9,429.1 1737.3,433.6 1738.7,438C1740.2,442.5 1741.6,447 1743,451.5C1744.3,456 1745.7,460.5 1747,465C1748.3,469.5 1749.6,474 1750.9,478.5C1752.1,482.9 1753.4,487.4 1754.6,491.9C1755.9,496.4 1757.1,500.8 1758.3,505.5C1759.6,510.3 1761,515.5 1762.4,520.5"/>
<path d="M1719,324C1722.7,326.8 1726.4,329.6 1730.2,332.5C1734.3,335.7 1738.5,339 1742.7,342.2C1746.9,345.4 1751.1,348.7 1755.4,351.8C1759.7,355 1764.1,358.2 1768.4,361.1C1772.4,363.9 1776.2,366.4 1780.3,368.9C1784.4,371.4 1788.5,373.9 1792.8,376.2C1797.1,378.5 1801.5,380.8 1806,382.9C1810.6,385 1815.3,387 1820,388.8C1824.5,390.7 1829,392.4 1833.7,394C1838.3,395.7 1843.1,397.2 1847.8,398.7C1852.7,400.3 1857.6,401.7 1862.5,403.1C1867.5,404.5 1872.5,405.8 1877.6,407.1C1882.7,408.4 1888,409.7 1893.1,410.8C1897.8,411.9 1902.3,412.9 1907,413.8C1911.6,414.8 1916.4,415.8 1921.1,416.7C1925.9,417.6 1930.7,418.5 1935.5,419.4C1940.4,420.3 1945.3,421.1 1950.2,422C1955.2,422.8 1960.1,423.7 1965.1,424.5C1970.1,425.3 1975.2,426.1 1980.3,426.9C1985.3,427.7 1990.5,428.5 1995.6,429.3C2000.6,430.1 2005.7,430.9 2010.6,431.6C2015.5,432.3 2020.3,432.9 2025.2,433.5C2030.1,434.2 2035.1,434.7 2040.1,435.3C2045.2,435.9 2050.3,436.4 2055.4,437C2060.6,437.5 2065.8,438 2071,438.5C2076.3,439 2081.7,439.5 2086.9,439.9C2091.7,440.3 2096.2,440.6 2100.9,441C2105.7,441.4 2110.4,441.7 2115.2,442.1C2119.9,442.4 2124.7,442.7 2129.5,443C2134.3,443.3 2139.2,443.7 2144,443.9C2148.8,444.2 2153.7,444.5 2158.5,444.8C2163.4,445.1 2168.2,445.3 2173.1,445.6C2178,445.9 2182.9,446.1 2187.8,446.4C2192.6,446.6 2197.5,446.8 2202.4,447.1C2207.3,447.3 2212.1,447.5 2217,447.8C2221.9,448 2226.7,448.2 2231.6,448.4C2236.4,448.7 2241.3,448.9 2246.1,449.1C2250.9,449.3 2255.7,449.5 2260.5,449.7C2265.3,450 2270.1,450.2 2274.9,450.4C2279.6,450.6 2284.3,450.8 2289,451C2293.7,451.3 2298.4,451.5 2303,451.7C2307.7,451.9 2312.4,452.2 2317.1,452.4C2321.9,452.6 2326.7,452.8 2331.4,453C2336.2,453.2 2340.9,453.4 2345.7,453.6C2350.4,453.8 2355.2,454 2359.9,454.2C2364.7,454.4 2369.5,454.5 2374.2,454.7C2379,454.9 2383.7,455 2388.5,455.2C2393.2,455.3 2398,455.4 2402.7,455.6C2407.5,455.7 2412.2,455.9 2416.9,456C2421.7,456.1 2426.4,456.2 2431.1,456.4C2435.9,456.5 2440.6,456.6 2445.3,456.7C2450,456.8 2454.7,456.9 2459.5,457C2464.2,457.1 2468.9,457.2 2473.6,457.3C2478.3,457.4 2482.9,457.5 2487.6,457.6C2492.3,457.7 2496.8,457.8 2501.6,457.9C2506.8,458 2512.3,458.1 2517.6,458.2C2522.9,458.3 2528.2,458.5 2533.5,458.6C2538.8,458.7 2544,458.8 2549.3,458.9C2554.5,459 2559.8,459.1 2565,459.2C2570.2,459.3 2575.4,459.4 2580.6,459.5C2585.8,459.7 2591.1,459.8 2596.1,459.9C2601,460 2605.6,460.1 2610.4,460.3C2615.2,460.4 2620.1,460.5 2624.9,460.6C2629.7,460.7 2634.5,460.8 2639.3,460.9C2644,461 2648.8,461.1 2653.5,461.2C2658.3,461.4 2663,461.5 2667.7,461.6C2672.4,461.7 2677.1,461.8 2681.8,461.9C2686.5,462 2691.2,462.1 2695.9,462.2C2700.6,462.3 2705.1,462.4 2709.9,462.5C2715,462.6 2720.5,462.7 2725.8,462.8C2731.1,462.9 2736.4,463 2741.7,463.1C2747,463.2 2752.3,463.3 2757.6,463.4C2762.9,463.5 2768.2,463.7 2773.5,463.8C2778.8,463.9 2784.1,464 2789.4,464.1C2794.5,464.2 2799.5,464.3 2804.6,464.4"/>
<path d="M1734.9,324C1739.3,325.7 1743.7,327.3 1748.1,329C1752.5,330.6 1756.8,332.3 1761.2,333.9C1765.6,335.5 1769.9,337.2 1774.3,338.8C1778.7,340.5 1783.1,342.1 1787.4,343.8C1791.8,345.4 1796.2,347.1 1800.5,348.7C1804.9,350.4 1809.3,352 1813.7,353.6C1818,355.3 1822.4,356.9 1826.8,358.6C1831.1,360.2 1835.8,362 1839.9,363.5C1843.5,364.9 1846.6,366 1850,367.3"/>
<path d="M1258,100.4C1253.1,101.2 1248.3,101.9 1243.4,102.6C1238.6,103.4 1233.7,104.1 1228.8,104.8C1223.9,105.5 1219,106.3 1214.1,107C1209.2,107.7 1204.3,108.4 1199.4,109.1C1194.5,109.8 1189.5,110.5 1184.6,111.3C1179.7,112 1174.7,112.7 1169.8,113.4C1164.9,114.1 1159.9,114.8 1155,115.5C1150.1,116.2 1145.1,117 1140.2,117.7C1135.3,118.4 1130.3,119.1 1125.4,119.8C1120.5,120.5 1115.6,121.2 1110.7,122C1105.8,122.7 1100.9,123.4 1096,124.1C1091.1,124.8 1086.3,125.6 1081.4,126.3C1076.6,127 1071.8,127.8 1066.9,128.5C1062.1,129.2 1057.3,130 1052.6,130.7C1047.8,131.5 1043,132.2 1038.3,133C1033.6,133.8 1028.9,134.5 1024.2,135.3C1019.6,136.1 1015.1,136.8 1010.3,137.6C1005.2,138.5 999.8,139.4 994.6,140.3C989.4,141.2 984.3,142.2 979.2,143.1C974.1,144 969.1,145 964.1,145.9C959.1,146.9 954.2,147.9 949.3,148.9C944.4,149.8 939.6,150.8 934.8,151.8C930.1,152.8 925.4,153.9 920.7,154.9C916.1,155.9 911.7,157 907.1,158.1C902.2,159.2 897.2,160.4 892.2,161.7C887,163.1 881.7,164.5 876.4,165.9C871.2,167.4 866,168.8 860.9,170.4C855.8,171.9 850.8,173.4 845.9,174.9C841,176.5 836.2,178 831.4,179.6C826.7,181.2 822.1,182.8 817.4,184.4C812.9,186 808.3,187.6 803.9,189.3C799.4,190.9 795.2,192.5 790.7,194.2C785.9,196 780.8,198 776,200C771.2,201.9 766.4,203.8 761.6,205.8C756.9,207.7 752.2,209.7 747.5,211.7C742.9,213.7 738.2,215.6 733.6,217.6C729,219.6 724.4,221.6 719.8,223.6C715.2,225.7 710.6,227.7 706,229.7C701.4,231.7 696.7,233.7 692.2,235.7C687.8,237.7 683.6,239.5 679.2,241.4C674.8,243.4 670.3,245.4 665.9,247.5C661.5,249.5 657.2,251.5 652.8,253.6C648.5,255.7 644.2,257.7 640,259.8C635.7,261.9 631.5,264 627.3,266.1C623.1,268.2 619.1,270.2 614.8,272.4C610.2,274.7 605.4,277.2 600.6,279.6C595.9,282.1 590.9,284.6 586.5,286.9C582.6,288.9 579.2,290.7 575.5,292.6"/>
<path d="M1310.9,104C1309.4,108.8 1307.9,113.6 1306.5,118.3C1305,122.9 1303.6,127.3 1302.3,131.8C1301,136.3 1299.7,140.6 1298.5,145.3C1297.2,150.3 1295.8,155.7 1294.8,160.8C1293.8,165.6 1293,170.1 1292.2,174.8C1291.5,179.5 1290.8,184.3 1290.2,189C1289.6,193.8 1289,198.5 1288.6,203.3C1288.2,208.1 1287.8,212.8 1287.6,217.6C1287.3,222.4 1287.2,227.1 1287.1,231.9C1286.9,236.7 1287,241.4 1286.7,246.3C1286.4,251.2 1285.8,256.2 1285.4,261.2C1285,266.1 1284.4,271.2 1284.3,276.1C1284.3,281 1284.3,285.9 1285.2,290.6C1286,295.3 1287.3,300 1289.4,304.2C1291.6,308.5 1294.9,312.5 1298.3,315.9C1301.6,319.3 1305.6,321.9 1309.5,324.4C1313.6,327 1318.1,329.2 1322.5,331.3C1326.8,333.3 1331.2,335.1 1335.8,336.9C1340.6,338.7 1345.8,340.5 1350.7,342C1355.4,343.6 1359.9,344.9 1364.7,346.3C1369.5,347.7 1374.5,349 1379.5,350.3C1384.5,351.7 1389.7,353 1394.8,354.2C1400.1,355.5 1405.5,356.8 1410.6,358C1415.3,359.1 1419.8,360.1 1424.3,361.2C1428.9,362.2 1433.5,363.3 1438.1,364.3C1442.7,365.4 1447.5,366.5 1451.9,367.5C1455.8,368.4 1459.3,369.3 1463,370.1"/>
<path d="M1258,98.8C1253,99.4 1248,100.1 1243,100.7C1238.1,101.3 1233.2,101.9 1228.3,102.4C1223.4,103 1218.4,103.6 1213.5,104.2C1208.5,104.8 1203.5,105.4 1198.6,106C1193.6,106.5 1188.6,107.1 1183.6,107.7C1178.6,108.3 1173.6,108.8 1168.6,109.4C1163.5,110 1158.5,110.6 1153.5,111.1C1148.5,111.7 1143.4,112.3 1138.4,112.8C1133.4,113.4 1128.3,114 1123.3,114.5C1118.3,115.1 1113.2,115.7 1108.2,116.2C1103.2,116.8 1098.1,117.4 1093.1,118C1088.1,118.5 1083.1,119.1 1078.1,119.7C1073.1,120.2 1068.1,120.8 1063.1,121.4C1058.1,122 1053.1,122.6 1048.2,123.1C1043.2,123.7 1038.3,124.3 1033.4,124.9C1028.4,125.5 1023.5,126.1 1018.6,126.7C1013.7,127.3 1008.9,127.9 1004,128.5C999.2,129.1 994.3,129.7 989.5,130.3C984.7,130.9 979.9,131.6 975.2,132.2C970.4,132.8 965.7,133.4 961,134.1C956.3,134.7 951.8,135.3 947,136C941.9,136.7 936.4,137.5 931.2,138.3C926,139 920.8,139.8 915.7,140.6C910.6,141.4 905.5,142.1 900.5,143C895.5,143.8 890.5,144.6 885.6,145.4C880.7,146.2 875.8,147 871,147.9C866.2,148.7 861.5,149.6 856.8,150.5C852.2,151.3 847.7,152.2 843,153.1C838.1,154.1 832.9,155.2 827.9,156.2C823,157.3 818.2,158.3 813.4,159.4C808.7,160.5 804.2,161.6 799.5,162.8C794.7,164 789.7,165.3 784.9,166.5C780.3,167.8 775.9,169 771.2,170.4C766.2,171.8 760.8,173.4 755.8,174.9C750.8,176.5 745.9,178 741,179.6C736.2,181.2 731.5,182.8 726.8,184.4C722.2,186 717.7,187.7 713.2,189.3C708.8,191 704.5,192.6 700,194.3C695.3,196.2 690.3,198.2 685.5,200.2C680.7,202.1 676,204.1 671.3,206.1C666.7,208.1 662.2,210.1 657.6,212.2C653.1,214.2 648.6,216.2 644.2,218.3C639.7,220.4 635.3,222.4 630.9,224.5C626.5,226.6 622.1,228.7 617.8,230.8C613.4,232.9 609.1,235.1 604.6,237.2C600.1,239.4 595.3,241.7 590.7,243.8C586.2,245.9 581.9,247.7 577.4,249.7C572.9,251.7 568.3,253.7 563.7,255.7C559.1,257.8 554.5,259.8 549.9,261.8C545.3,263.9 540.8,265.9 536.3,268C531.9,270.1 527.7,272 523.4,274.2C518.8,276.6 514.1,279 509.6,281.6C505,284.2 500.3,287 496.2,290.1C492.3,293 488.1,295.8 485.4,299.6C482.8,303.3 480,308.1 480,312.4C480.1,317 483.4,322.2 486.2,326.3C489.1,330.4 493.4,333.7 497.3,337C501,340.1 504.8,342.6 508.8,345.3C513.1,348.2 517.9,351 522.3,353.6C526.6,356.1 530.8,358.4 535.1,360.6C539.5,363 544,365.3 548.5,367.5C553,369.8 557.7,372 562.2,374.2C566.8,376.3 571.5,378.5 576,380.6C580.4,382.6 584.8,384.6 589.2,386.5C593.6,388.4 597.9,390.1 602.4,391.9C607,393.6 611.9,395.4 616.6,397C621.1,398.5 625.5,399.9 630,401.3C634.6,402.8 639.3,404.2 644,405.5C648.9,406.9 653.8,408.3 658.7,409.6C663.7,410.9 668.9,412.3 673.9,413.5C678.5,414.7 682.9,415.8 687.5,416.9C692.2,418 696.8,419 701.5,420.1C706.2,421.2 711,422.3 715.8,423.3C720.6,424.4 725.4,425.4 730.2,426.4C735.1,427.5 740,428.5 744.9,429.5C749.8,430.6 754.8,431.6 759.7,432.6C764.7,433.6 769.7,434.6 774.7,435.6C779.7,436.6 784.7,437.6 789.7,438.6C794.7,439.7 799.7,440.7 804.7,441.7C809.7,442.7 814.7,443.7 819.7,444.7C824.6,445.7 830,446.8 834.6,447.7C838.5,448.5 841.8,449.2 845.5,449.9"/>
<path d="M1371.3,91.8C1376.1,91.9 1381,91.9 1385.8,91.9C1390.6,92 1395.4,92 1400.2,92.1C1405.1,92.1 1409.9,92.1 1414.7,92.2C1419.6,92.2 1424.4,92.2 1429.3,92.3C1434.2,92.3 1439.1,92.3 1443.9,92.4C1448.8,92.4 1453.7,92.4 1458.6,92.4C1463.5,92.5 1468.5,92.5 1473.4,92.5C1478.3,92.6 1483.2,92.6 1488.2,92.6C1493.1,92.6 1498,92.7 1503,92.7C1507.9,92.7 1512.9,92.8 1517.9,92.8C1522.8,92.8 1527.8,92.8 1532.8,92.9C1537.7,92.9 1542.7,92.9 1547.7,92.9C1552.7,93 1557.7,93 1562.7,93C1567.7,93 1572.7,93 1577.7,93.1C1582.7,93.1 1587.7,93.1 1592.7,93.1C1597.7,93.2 1602.7,93.2 1607.7,93.2C1612.7,93.2 1617.7,93.2 1622.7,93.3C1627.8,93.3 1632.8,93.3 1637.8,93.3C1642.8,93.4 1647.8,93.4 1652.8,93.4C1657.9,93.4 1662.9,93.4 1667.9,93.5C1672.9,93.5 1677.9,93.5 1683,93.5C1688,93.6 1693,93.6 1698,93.6C1703,93.6 1708,93.6 1713,93.7C1718,93.7 1723.1,93.7 1728.1,93.7C1733.1,93.8 1738.1,93.8 1743.1,93.8C1748.1,93.8 1753.1,93.9 1758.1,93.9C1763,93.9 1768,93.9 1773,93.9C1778,94 1783,94 1787.9,94C1792.9,94 1797.9,94.1 1802.8,94.1C1807.8,94.1 1812.8,94.2 1817.7,94.2C1822.7,94.2 1827.6,94.2 1832.5,94.3C1837.5,94.3 1842.4,94.3 1847.3,94.3C1852.2,94.4 1857.1,94.4 1862.1,94.4C1866.9,94.5 1871.8,94.5 1876.7,94.5C1881.6,94.6 1886.5,94.6 1891.4,94.6C1896.2,94.7 1901.1,94.7 1905.9,94.7C1910.8,94.8 1915.6,94.8 1920.4,94.8C1925.3,94.9 1930.1,94.9 1934.9,94.9C1939.7,95 1944.5,95 1949.2,95C1954,95.1 1958.8,95.1 1963.5,95.2C1968.3,95.2 1973,95.2 1977.8,95.3C1982.5,95.3 1987.2,95.4 1991.9,95.4C1996.6,95.5 2001.1,95.5 2005.9,95.6C2011.1,95.6 2016.6,95.7 2021.9,95.7C2027.2,95.8 2032.4,95.8 2037.7,95.9C2043,95.9 2048.2,96 2053.4,96.1C2058.6,96.1 2063.8,96.2 2069,96.3C2074.1,96.3 2079.3,96.4 2084.4,96.5C2089.5,96.5 2094.6,96.6 2099.7,96.7C2104.7,96.7 2109.8,96.8 2114.8,96.9C2119.8,97 2124.8,97 2129.8,97.1C2134.7,97.2 2139.7,97.3 2144.6,97.3C2149.5,97.4 2154.4,97.5 2159.3,97.6C2164.1,97.7 2168.9,97.8 2173.7,97.9C2178.5,98 2183.3,98 2188,98.1C2192.8,98.2 2197.3,98.3 2202.1,98.4C2207.2,98.5 2212.6,98.7 2217.8,98.8C2222.9,98.9 2228.1,99 2233.2,99.1C2238.3,99.3 2243.3,99.4 2248.3,99.5C2253.3,99.6 2258.3,99.8 2263.2,99.9C2268.1,100 2273,100.2 2277.8,100.3C2282.6,100.5 2287.3,100.6 2292.2,100.8C2297.1,100.9 2302.3,101.1 2307.3,101.2C2312.2,101.4 2317,101.6 2321.8,101.7C2326.5,101.9 2331.3,102 2336,102.2C2340.7,102.4 2345.2,102.5 2350,102.7C2355.2,102.9 2360.8,103.1 2366.2,103.3C2371.5,103.5 2376.8,103.7 2382,103.9C2387.3,104.1 2392.5,104.3 2397.7,104.5C2402.8,104.7 2407.9,104.9 2413,105.1C2418.1,105.3 2423.1,105.5 2428.2,105.7C2433.1,105.9 2438.1,106.2 2443.1,106.4C2448,106.6 2452.9,106.8 2457.7,107C2462.6,107.3 2467.4,107.5 2472.2,107.7C2477,107.9 2481.7,108.2 2486.5,108.4C2491.2,108.6 2495.7,108.9 2500.5,109.1C2505.6,109.4 2511.1,109.7 2516.4,109.9C2521.6,110.2 2526.8,110.5 2532,110.8C2537.1,111.1 2542.2,111.4 2547.3,111.7C2552.4,112 2557.5,112.3 2562.5,112.6C2567.5,112.9 2572.5,113.2 2577.5,113.5C2582.4,113.8 2587.3,114.2 2592.2,114.5C2597.1,114.8 2602,115.2 2606.8,115.5C2611.7,115.8 2616.5,116.2 2621.3,116.5C2626.1,116.9 2630.8,117.2 2635.6,117.6C2640.3,118 2645,118.3 2649.7,118.7C2654.4,119.1 2658.9,119.4 2663.7,119.8C2668.8,120.3 2674.2,120.7 2679.4,121.2C2684.5,121.6 2689.8,122.1 2694.9,122.5C2699.7,123 2704.2,123.4 2709.1,123.9C2714.2,124.4 2719.7,124.9 2724.9,125.4C2730.2,126 2735.4,126.5 2740.6,127.1C2745.8,127.7 2750.9,128.3 2756.1,128.9C2761.2,129.5 2766.3,130.1 2771.4,130.7C2776.4,131.3 2781.4,131.9 2786.4,132.5C2791.4,133.2 2796.3,133.8 2801.3,134.5C2806.1,135.1 2811,135.7 2815.8,136.4C2820.5,137 2825.3,137.7 2830,138.3C2834.7,139 2839.1,139.6 2843.9,140.3C2848.9,141 2854.2,141.7 2859.3,142.5C2864.3,143.2 2869.3,143.9 2874.2,144.6C2879.1,145.3 2883.7,146 2888.6,146.7C2893.7,147.5 2899,148.2 2904.1,149C2909,149.7 2913.8,150.4 2918.7,151.1C2923.9,151.8 2929.3,152.6 2934.6,153.3C2939.8,154 2945.1,154.7 2950.2,155.3C2955.1,156 2959.7,156.5 2964.6,157.2C2969.7,157.8 2975,158.5 2980.1,159.2C2985.1,160 2990,160.7 2994.9,161.7C2999.8,162.5 3004.7,163.6 3009.5,164.7C3014.2,165.7 3018.6,166.9 3023.2,168.1C3027.9,169.3 3032.8,170.6 3037.5,171.9C3042.2,173.2 3046.9,174.6 3051.5,176.1C3056,177.6 3060.3,179.1 3064.7,181C3069.2,182.9 3074,185.1 3078.4,187.7C3082.9,190.4 3087.4,193.7 3091.5,197C3095.4,200.2 3099,203.8 3102.4,207.4C3105.7,211 3108.8,214.6 3111.6,218.6C3114.3,222.5 3117.2,226.6 3119,231C3120.8,235.4 3121.5,240.2 3122.1,245C3122.8,249.9 3122.5,255 3123,260C3123.5,265.2 3124.3,270.6 3125,275.8C3125.7,280.9 3126.2,286 3126.9,291C3127.6,295.9 3128.2,300.7 3129,305.5C3129.8,310.3 3130.7,315 3131.7,319.7C3132.7,324.4 3133.8,329 3135.1,333.6C3136.4,338.1 3137.9,342.7 3139.6,347.1C3141.3,351.5 3143.5,355.7 3145.5,360.1C3147.4,364.6 3149.6,369.2 3151.2,373.8C3152.7,378.4 3153.9,383.1 3154.7,387.8C3155.5,392.6 3155.7,397.5 3155.9,402.4C3156.2,407.4 3156.1,412.6 3156.1,417.5C3156,422.3 3155.7,426.9 3155.5,431.6C3155.3,436.3 3155.2,441 3154.6,445.7C3154,450.5 3153.5,455.4 3152,460C3150.5,464.7 3148.4,469.5 3145.7,473.5C3143,477.4 3139.9,481.2 3136,483.9C3131.8,486.7 3126.1,488.1 3121.1,489.7C3116.3,491.2 3111.6,492.1 3106.8,493.1C3102,494.1 3097.1,494.9 3092.3,495.7C3087.3,496.5 3082.3,497.2 3077.3,497.8C3072.5,498.5 3067.9,499.1 3063,499.6C3058,500.2 3053,500.8 3047.8,501.3C3042.6,501.9 3037.3,502.4 3032,503C3026.6,503.5 3021,504 3015.8,504.5C3011,505 3006.6,505.4 3001.9,505.8C2996.8,506.2 2991.3,506.7 2986.3,507.1C2981.5,507.5 2976.9,507.9 2972.2,508.3C2967.3,508.6 2962.4,509 2957.5,509.3C2952.4,509.6 2947.4,509.9 2942.2,510.2C2937.1,510.5 2931.7,510.8 2926.6,511C2921.8,511.3 2917.3,511.5 2912.6,511.7C2907.9,511.9 2903.1,512.1 2898.4,512.3C2893.6,512.5 2888.8,512.7 2883.9,512.9C2879.1,513.1 2874.2,513.3 2869.4,513.5C2864.5,513.7 2859.6,513.9 2854.7,514.1C2849.8,514.3 2844.9,514.4 2839.9,514.6C2835,514.8 2830.1,515 2825.2,515.2C2820.3,515.4 2815.4,515.6 2810.5,515.7C2805.6,515.9 2800.7,516.1 2795.9,516.3C2791,516.5 2786.2,516.7 2781.4,516.9C2776.6,517.2 2771.8,517.4 2767.1,517.6C2762.4,517.8 2757.7,518.1 2753,518.3C2748.3,518.5 2743.7,518.8 2739,519C2734.4,519.3 2729.7,519.5 2725,519.8C2720.4,520 2715.7,520.3 2711,520.5C2706.4,520.8 2701.7,521 2697,521.3C2692.4,521.6 2687.7,521.8 2683,522.1C2678.4,522.4 2673.7,522.6 2669,522.9C2664.3,523.1 2659.7,523.4 2655,523.7C2650.3,523.9 2645.7,524.2 2641,524.4C2636.3,524.7 2631.7,525 2627,525.2C2622.3,525.5 2617.7,525.7 2613,526C2608.3,526.2 2603.7,526.5 2599,526.7C2594.3,527 2589.7,527.2 2585,527.4C2580.3,527.7 2575.6,527.9 2571,528.1C2566.3,528.3 2561.7,528.6 2557,528.8C2552.3,529 2547.7,529.2 2543,529.4C2538.3,529.6 2533.8,529.8 2529,530C2523.9,530.2 2518.4,530.4 2513.1,530.6C2507.9,530.8 2502.8,531 2497.6,531.2C2492.5,531.4 2487.5,531.6 2482.4,531.7C2477.4,531.9 2472.4,532.1 2467.4,532.3C2462.4,532.4 2457.4,532.6 2452.4,532.7C2447.4,532.9 2442.4,533 2437.4,533.2C2432.4,533.3 2427.4,533.5 2422.3,533.6C2417.2,533.7 2412.1,533.9 2407,534C2401.8,534.2 2396.4,534.3 2391.3,534.4C2386.5,534.5 2382,534.7 2377.3,534.8C2372.5,534.9 2367.7,535 2362.9,535.1C2357.9,535.2 2353,535.4 2348,535.5C2342.9,535.6 2337.8,535.7 2332.6,535.8C2327.3,536 2321.8,536.1 2316.6,536.2C2311.8,536.3 2307.2,536.4 2302.4,536.5C2297.4,536.7 2292.2,536.8 2287.1,536.9C2282.1,537 2277.2,537.1 2272.1,537.2C2267,537.3 2261.7,537.4 2256.7,537.6C2251.9,537.7 2247.3,537.7 2242.6,537.8C2237.9,537.9 2233.1,538 2228.2,538.1C2223.3,538.2 2218.4,538.3 2213.5,538.4C2208.5,538.5 2203.5,538.6 2198.5,538.7C2193.5,538.8 2188.4,538.9 2183.3,539C2178.1,539.1 2172.9,539.2 2167.7,539.3C2162.5,539.4 2157.3,539.5 2152,539.6C2146.7,539.7 2141.2,539.8 2136,539.9C2131.2,539.9 2126.6,540 2121.9,540.1C2117.2,540.2 2112.4,540.3 2107.6,540.3C2102.9,540.4 2098.1,540.5 2093.3,540.6C2088.4,540.7 2083.6,540.8 2078.7,540.8C2073.9,540.9 2069,541 2064.1,541.1C2059.2,541.2 2054.3,541.2 2049.4,541.3C2044.5,541.4 2039.6,541.5 2034.7,541.6C2029.7,541.7 2024.8,541.7 2019.8,541.8C2014.9,541.9 2009.9,542 2004.9,542.1C2000,542.1 1995,542.2 1990,542.3C1985,542.4 1980,542.5 1975,542.6C1970,542.6 1965,542.7 1960.1,542.8C1955.1,542.9 1950.1,543 1945.1,543C1940.1,543.1 1935.1,543.2 1930.1,543.3C1925.1,543.4 1920.1,543.5 1915.1,543.5C1910.2,543.6 1905.2,543.7 1900.2,543.8C1895.2,543.9 1890.3,543.9 1885.3,544C1880.4,544.1 1875.4,544.2 1870.5,544.3C1865.6,544.4 1860.6,544.4 1855.7,544.5C1850.8,544.6 1846.2,544.7 1841.1,544.8C1835.3,544.9 1828.8,545 1822.6,545.1"/>
<path d="M1371.3,92.3C1376.1,92.3 1381,92.4 1385.8,92.5C1390.6,92.5 1395.4,92.6 1400.2,92.7C1405.1,92.7 1409.9,92.8 1414.7,92.9C1419.6,93 1424.5,93 1429.3,93.1C1434.2,93.2 1439.1,93.2 1444,93.3C1448.8,93.3 1453.7,93.4 1458.6,93.5C1463.5,93.5 1468.5,93.6 1473.4,93.7C1478.3,93.7 1483.2,93.8 1488.2,93.8C1493.1,93.9 1498.1,94 1503,94C1508,94.1 1512.9,94.1 1517.9,94.2C1522.8,94.3 1527.8,94.3 1532.8,94.4C1537.8,94.4 1542.7,94.5 1547.7,94.6C1552.7,94.6 1557.7,94.7 1562.7,94.7C1567.7,94.8 1572.7,94.8 1577.7,94.9C1582.7,95 1587.7,95 1592.7,95.1C1597.7,95.1 1602.7,95.2 1607.7,95.2C1612.7,95.3 1617.7,95.3 1622.7,95.4C1627.8,95.5 1632.8,95.5 1637.8,95.6C1642.8,95.6 1647.8,95.7 1652.9,95.7C1657.9,95.8 1662.9,95.8 1667.9,95.9C1672.9,95.9 1677.9,96 1683,96.1C1688,96.1 1693,96.2 1698,96.2C1703,96.3 1708,96.3 1713,96.4C1718.1,96.4 1723.1,96.5 1728.1,96.6C1733.1,96.6 1738.1,96.7 1743.1,96.7C1748.1,96.8 1753.1,96.8 1758.1,96.9C1763.1,96.9 1768,97 1773,97.1C1778,97.1 1783,97.2 1788,97.2C1792.9,97.3 1797.9,97.3 1802.9,97.4C1807.8,97.5 1812.8,97.5 1817.7,97.6C1822.7,97.6 1827.6,97.7 1832.6,97.8C1837.5,97.8 1842.4,97.9 1847.3,98C1852.2,98 1857.2,98.1 1862.1,98.1C1867,98.2 1871.9,98.3 1876.8,98.3C1881.6,98.4 1886.5,98.5 1891.4,98.5C1896.2,98.6 1901.1,98.7 1905.9,98.7C1910.8,98.8 1915.6,98.9 1920.5,98.9C1925.3,99 1930.1,99.1 1934.9,99.2C1939.7,99.2 1944.5,99.3 1949.3,99.4C1954,99.4 1958.8,99.5 1963.6,99.6C1968.3,99.7 1973,99.7 1977.8,99.8C1982.5,99.9 1987.2,100 1991.9,100.1C1996.6,100.1 2001.1,100.2 2006,100.3C2011.1,100.4 2016.6,100.5 2021.9,100.6C2027.2,100.7 2032.5,100.8 2037.7,100.9C2043,101 2048.2,101.1 2053.4,101.2C2058.6,101.3 2063.8,101.4 2069,101.5C2074.2,101.6 2079.3,101.7 2084.4,101.8C2089.5,101.9 2094.6,102 2099.7,102.1C2104.8,102.2 2109.8,102.4 2114.8,102.5C2119.8,102.6 2124.8,102.7 2129.8,102.8C2134.8,103 2139.7,103.1 2144.6,103.2C2149.5,103.3 2154.4,103.5 2159.3,103.6C2164.1,103.7 2168.9,103.8 2173.7,104C2178.5,104.1 2183.3,104.3 2188,104.4C2192.8,104.5 2197.3,104.7 2202.2,104.8C2207.2,105 2212.6,105.1 2217.8,105.3C2223,105.5 2228.1,105.6 2233.2,105.8C2238.3,106 2243.3,106.2 2248.3,106.3C2253.3,106.5 2258.3,106.7 2263.2,106.9C2268.1,107.1 2273,107.3 2277.8,107.5C2282.6,107.7 2287.3,107.9 2292.2,108.1C2297.1,108.3 2302.3,108.5 2307.3,108.7C2312.2,108.9 2317,109.2 2321.8,109.4C2326.5,109.6 2331.3,109.8 2336,110.1C2340.7,110.3 2345.2,110.5 2350.1,110.8C2355.2,111 2360.8,111.3 2366.2,111.6C2371.5,111.9 2376.8,112.1 2382.1,112.4C2387.3,112.7 2392.5,113 2397.7,113.3C2402.8,113.6 2407.9,113.9 2413,114.2C2418.1,114.5 2423.1,114.8 2428.2,115.1C2433.1,115.4 2438.1,115.7 2443.1,116C2448,116.3 2452.9,116.6 2457.7,116.9C2462.6,117.2 2467.4,117.6 2472.2,117.9C2477,118.2 2481.7,118.5 2486.5,118.8C2491.2,119.2 2495.7,119.5 2500.5,119.8C2505.6,120.2 2511.1,120.6 2516.3,121C2521.6,121.3 2526.8,121.7 2531.9,122.1C2537.1,122.5 2542.2,122.9 2547.3,123.3C2552.4,123.7 2557.4,124.1 2562.5,124.5C2567.5,124.9 2572.5,125.3 2577.4,125.7C2582.4,126.1 2587.3,126.5 2592.2,126.9C2597.1,127.3 2602,127.7 2606.8,128.1C2611.6,128.6 2616.5,129 2621.3,129.4C2626,129.8 2630.8,130.2 2635.5,130.7C2640.3,131.1 2645,131.5 2649.7,131.9C2654.4,132.3 2658.9,132.8 2663.7,133.2C2668.8,133.7 2674.1,134.2 2679.3,134.7C2684.5,135.1 2689.8,135.6 2694.9,136.1C2699.7,136.6 2704.2,137 2709.1,137.5C2714.2,137.9 2719.5,138.4 2724.7,138.9C2729.9,139.4 2735,139.8 2740.1,140.3C2745.2,140.7 2750.3,141.2 2755.3,141.6C2760.3,142 2765.3,142.5 2770.2,142.9C2775.1,143.4 2780,143.8 2784.8,144.3C2789.7,144.7 2794.5,145.1 2799.2,145.6C2804,146.1 2808.5,146.5 2813.4,147C2818.5,147.5 2824,148.1 2829.3,148.7C2834.5,149.2 2839.7,149.8 2844.8,150.4C2849.9,151.1 2855,151.7 2860.1,152.4C2865.1,153 2870.1,153.7 2875,154.5C2879.9,155.2 2884.8,156 2889.7,156.8C2894.5,157.6 2899.3,158.4 2904,159.3C2908.7,160.2 2913.3,161.1 2918.1,162.1C2923.2,163.2 2928.5,164.4 2933.7,165.6C2938.9,166.7 2944,167.8 2949.1,169C2954.2,170.2 2959.3,171.3 2964.4,172.6C2969.5,173.8 2974.5,175 2979.5,176.3C2984.5,177.5 2989.4,178.8 2994.3,180.2C2999,181.5 3003.7,182.9 3008.4,184.4C3012.9,185.8 3017.2,187.2 3021.7,188.9C3026.3,190.6 3031.1,192.4 3035.7,194.5C3040.4,196.7 3045.2,199 3049.6,201.6C3053.9,204.2 3058,206.8 3061.8,210C3065.5,213.3 3069.1,217.1 3072.1,221C3075,224.8 3077.3,228.8 3079.7,233C3082.1,237.6 3084.2,242.6 3086.4,247.5C3088.6,252.3 3090.8,257.1 3092.9,261.9C3094.9,266.6 3096.9,271.2 3098.7,275.9C3100.5,280.7 3102.2,285.5 3103.6,290.2C3105,294.8 3106.3,299.1 3107.4,303.9C3108.6,308.9 3109.8,314.3 3110.4,319.6C3111,324.9 3111,330.3 3111,335.6C3111.1,340.8 3110.9,345.8 3110.7,351C3110.4,356.2 3110,361.5 3109.4,366.7C3108.9,371.8 3108.2,376.8 3107.4,381.7C3106.6,386.7 3105.6,391.5 3104.5,396.5C3103.4,401.6 3102,406.9 3100.8,412C3099.5,416.9 3098.2,421.6 3097,426.3C3095.7,430.8 3094.5,435.3 3093.3,439.8"/>
<path d="M1371.3,93.7C1376.1,93.9 1380.8,94.1 1385.6,94.3C1390.4,94.5 1395.2,94.7 1400,94.9C1404.9,95.1 1409.7,95.3 1414.5,95.5C1419.4,95.7 1424.2,95.9 1429.1,96.1C1433.9,96.3 1438.8,96.5 1443.7,96.7C1448.6,96.9 1453.5,97.1 1458.3,97.3C1463.2,97.5 1468.1,97.7 1473.1,97.9C1478,98.1 1482.9,98.3 1487.8,98.5C1492.7,98.7 1497.7,98.9 1502.6,99.1C1507.5,99.3 1512.5,99.5 1517.4,99.7C1522.4,99.9 1527.4,100.1 1532.3,100.3C1537.3,100.5 1542.3,100.7 1547.2,100.9C1552.2,101.1 1557.2,101.3 1562.2,101.5C1567.1,101.7 1572.1,101.9 1577.1,102.1C1582.1,102.3 1587.1,102.5 1592.1,102.7C1597.1,102.9 1602.1,103.1 1607.1,103.3C1612.1,103.5 1617.1,103.7 1622.1,103.9C1627.1,104.1 1632.1,104.3 1637.1,104.5C1642.1,104.6 1647.1,104.8 1652.1,105C1657.2,105.2 1662.2,105.4 1667.2,105.6C1672.2,105.8 1677.2,106 1682.2,106.2C1687.2,106.4 1692.2,106.6 1697.2,106.8C1702.2,107 1707.2,107.2 1712.2,107.4C1717.2,107.6 1722.2,107.8 1727.2,108C1732.2,108.2 1737.2,108.4 1742.2,108.6C1747.2,108.8 1752.2,109 1757.2,109.2C1762.1,109.4 1767.1,109.6 1772.1,109.8C1777.1,110 1782,110.2 1787,110.4C1791.9,110.6 1796.9,110.8 1801.9,111C1806.8,111.2 1811.8,111.4 1816.7,111.6C1821.6,111.7 1826.6,111.9 1831.5,112.1C1836.4,112.3 1841.3,112.5 1846.2,112.7C1851.2,112.9 1856.1,113.1 1861,113.3C1865.8,113.5 1870.7,113.7 1875.6,113.9C1880.5,114.1 1885.4,114.3 1890.2,114.5C1895.1,114.7 1899.9,114.9 1904.8,115.1C1909.6,115.3 1914.4,115.5 1919.2,115.7C1924.1,115.9 1928.9,116.1 1933.7,116.3C1938.4,116.5 1943.2,116.7 1948,116.9C1952.8,117.1 1957.5,117.3 1962.3,117.5C1967,117.7 1971.7,117.9 1976.5,118.1C1981.2,118.3 1985.9,118.5 1990.6,118.7C1995.3,118.9 1999.8,119.1 2004.6,119.3C2009.8,119.6 2015.2,119.8 2020.5,120C2025.8,120.3 2031.1,120.5 2036.3,120.7C2041.6,121 2046.8,121.2 2052,121.4C2057.2,121.7 2062.4,121.9 2067.6,122.1C2072.7,122.4 2077.9,122.6 2083,122.8C2088.1,123.1 2093.2,123.3 2098.2,123.5C2103.3,123.8 2108.3,124 2113.4,124.2C2118.4,124.5 2123.3,124.7 2128.3,124.9C2133.3,125.2 2138.2,125.4 2143.1,125.6C2148,125.9 2152.9,126.1 2157.8,126.4C2162.6,126.6 2167.4,126.8 2172.2,127.1C2177,127.3 2181.8,127.6 2186.5,127.8C2191.2,128 2195.8,128.3 2200.6,128.5C2205.7,128.8 2211.1,129.1 2216.3,129.3C2221.4,129.6 2226.5,129.9 2231.6,130.1C2236.7,130.4 2241.8,130.7 2246.8,131C2251.8,131.2 2256.7,131.5 2261.7,131.8C2266.6,132.1 2271.4,132.3 2276.3,132.6C2281.1,132.9 2285.8,133.2 2290.6,133.4C2295.4,133.7 2300.1,134 2304.9,134.3C2309.7,134.6 2314.5,134.9 2319.3,135.2C2324.1,135.5 2328.8,135.8 2333.6,136.1C2338.2,136.3 2342.7,136.6 2347.6,136.9C2352.7,137.3 2358.3,137.6 2363.6,138C2368.9,138.3 2374.1,138.7 2379.4,139C2384.5,139.4 2389.7,139.7 2394.8,140.1C2399.9,140.4 2405,140.8 2410.1,141.1C2415.1,141.5 2420,141.8 2425,142.2C2429.9,142.5 2434.8,142.9 2439.7,143.2C2444.6,143.6 2449.4,143.9 2454.2,144.3C2459,144.6 2463.8,145 2468.5,145.3C2473.2,145.7 2477.8,146 2482.6,146.4C2487.7,146.8 2493.2,147.2 2498.5,147.6C2503.7,148 2508.9,148.4 2514.1,148.9C2519.3,149.3 2524.4,149.7 2529.5,150.1C2534.6,150.5 2539.7,150.9 2544.8,151.3C2549.8,151.7 2554.8,152.1 2559.8,152.5C2564.8,153 2569.8,153.4 2574.8,153.8C2579.7,154.2 2584.6,154.6 2589.5,155C2594.4,155.4 2599.3,155.8 2604.2,156.3C2609.1,156.7 2613.9,157.1 2618.8,157.5C2623.6,157.9 2628.5,158.3 2633.3,158.7C2638.1,159.2 2643,159.6 2647.8,160C2652.6,160.4 2657.4,160.8 2662.2,161.2C2667,161.6 2671.8,162.1 2676.6,162.5C2681.4,162.9 2686.1,163.3 2691,163.7C2696.1,164.2 2701.4,164.6 2706.6,165.1C2711.8,165.5 2716.9,165.9 2722.1,166.3C2727.3,166.7 2732.4,167.1 2737.6,167.4C2742.8,167.8 2748,168.2 2753.2,168.5C2758.4,168.9 2763.6,169.2 2768.8,169.5C2774,169.9 2779.1,170.2 2784.3,170.5C2789.4,170.8 2794.6,171.2 2799.7,171.5C2804.8,171.8 2809.9,172.1 2815,172.5C2820,172.8 2825,173.1 2830,173.4C2835,173.8 2840,174.1 2844.9,174.5C2849.8,174.8 2854.6,175.2 2859.5,175.6C2864.3,175.9 2868.9,176.3 2873.7,176.7C2878.9,177.2 2884.4,177.7 2889.6,178.2C2894.8,178.7 2899.9,179.2 2904.9,179.8C2909.9,180.3 2914.8,180.9 2919.7,181.6C2924.4,182.2 2929,182.8 2933.8,183.5C2938.7,184.3 2943.8,185.1 2948.7,186C2953.5,186.9 2958,187.8 2962.7,188.9C2967.5,190 2972.5,191.2 2977.3,192.5C2982.2,193.8 2987.1,195.2 2991.8,196.7C2996.5,198.2 3001,199.6 3005.8,201.3C3010.7,203 3016,205 3020.9,207C3025.5,208.9 3029.9,210.7 3034.2,212.8C3038.5,214.9 3042.8,216.9 3046.7,219.5C3050.6,222.1 3055.3,224.9 3057.8,228.7C3060.3,232.6 3060.6,237.9 3061.4,242.7C3062.2,247.4 3062.2,252.2 3062.3,257.1C3062.5,262.2 3062.5,267.7 3062.4,272.7C3062.4,277.6 3062.3,282 3062.2,286.8C3062,291.8 3061.8,296.9 3061.5,302C3061.3,307.3 3061.1,312.7 3060.6,318C3060.2,323.3 3060.2,328.8 3059,333.8C3057.8,338.8 3055.7,343.5 3053.5,348.1C3051.4,352.8 3048.8,357.4 3046,361.7C3043.2,366 3040,370.1 3036.7,373.8C3033.4,377.5 3029.8,380.9 3026,384C3022.3,387.1 3018.3,389.8 3014.2,392.5C3010,395.2 3005.5,397.7 3001.2,400.1C2996.8,402.5 2992.5,404.7 2988,406.9C2983.3,409.1 2978.3,411.4 2973.6,413.6C2969.1,415.6 2964.7,417.5 2960.2,419.4C2955.6,421.4 2951,423.3 2946.3,425.3C2941.5,427.2 2936.7,429.2 2931.9,431.1C2927.1,433.1 2922.2,435 2917.4,436.9C2912.5,438.9 2907.4,440.9 2902.8,442.8C2898.6,444.5 2894.8,446 2890.8,447.6"/>
<path d="M1371.3,101.9C1376.2,102.8 1381.2,103.7 1386.1,104.6C1390.8,105.5 1395.4,106.3 1400,107.2C1404.7,108 1409.4,108.9 1414.1,109.7C1418.7,110.6 1423.4,111.4 1428.1,112.3C1432.8,113.1 1437.4,114 1442.1,114.8C1446.8,115.7 1451.5,116.5 1456.1,117.4C1460.8,118.2 1465.5,119.1 1470.2,120C1474.8,120.8 1479.5,121.7 1484.2,122.5C1488.9,123.4 1493.5,124.2 1498.2,125.1C1502.8,125.9 1507.5,126.8 1512.2,127.6C1516.8,128.5 1521.5,129.3 1526.1,130.2C1530.8,131.1 1535.4,131.9 1540,132.8C1544.7,133.6 1549.3,134.5 1553.9,135.4C1558.5,136.2 1563.1,137.1 1567.7,138C1572.3,138.8 1576.8,139.7 1581.5,140.6C1586.5,141.5 1591.9,142.6 1597.2,143.6C1602.4,144.6 1607.5,145.6 1612.7,146.6C1617.9,147.6 1623.1,148.6 1628.2,149.6C1633.3,150.6 1638.5,151.6 1643.6,152.6C1648.7,153.7 1653.8,154.7 1658.8,155.7C1663.9,156.7 1669,157.8 1674,158.8C1679,159.8 1684,160.9 1689,161.9C1694,163 1699.1,164 1704.1,165.1C1708.9,166.2 1713.7,167.2 1718.5,168.2C1723.2,169.3 1728,170.3 1732.7,171.4C1737.5,172.4 1742.2,173.5 1746.9,174.5C1751.6,175.6 1756.3,176.6 1760.9,177.7C1765.6,178.8 1770.2,179.8 1774.9,180.9C1779.5,182 1784.1,183 1788.7,184.1C1793.3,185.2 1797.9,186.3 1802.4,187.3C1807,188.4 1811.4,189.5 1816.1,190.6C1821.1,191.8 1826.5,193.1 1831.7,194.3C1836.8,195.6 1842,196.8 1847.1,198.1C1852.3,199.3 1857.4,200.6 1862.6,201.8C1867.7,203.1 1872.8,204.3 1877.9,205.6C1883.1,206.8 1888.2,208.1 1893.3,209.4C1898.4,210.6 1903.5,211.9 1908.6,213.1C1913.7,214.4 1918.8,215.7 1923.9,216.9C1929.1,218.2 1934.4,219.5 1939.3,220.7C1943.9,221.8 1948.1,222.8 1952.6,223.9"/>
<path d="M1371.3,95.1C1376.1,95.4 1380.8,95.7 1385.6,96C1390.4,96.3 1395.2,96.6 1400,96.9C1404.9,97.2 1409.7,97.5 1414.5,97.8C1419.4,98.1 1424.2,98.4 1429.1,98.7C1434,99 1438.9,99.3 1443.7,99.6C1448.6,99.9 1453.5,100.2 1458.4,100.5C1463.3,100.8 1468.2,101.1 1473.2,101.4C1478.1,101.7 1483,101.9 1488,102.2C1492.9,102.5 1497.8,102.8 1502.8,103.1C1507.8,103.4 1512.7,103.7 1517.7,104C1522.7,104.2 1527.6,104.5 1532.6,104.8C1537.6,105.1 1542.6,105.4 1547.6,105.7C1552.6,105.9 1557.6,106.2 1562.6,106.5C1567.6,106.8 1572.6,107.1 1577.6,107.3C1582.6,107.6 1587.7,107.9 1592.7,108.2C1597.7,108.5 1602.7,108.7 1607.8,109C1612.8,109.3 1617.8,109.6 1622.9,109.9C1627.9,110.1 1632.9,110.4 1638,110.7C1643,111 1648.1,111.3 1653.1,111.5C1658.2,111.8 1663.2,112.1 1668.2,112.4C1673.3,112.6 1678.3,112.9 1683.4,113.2C1688.4,113.5 1693.5,113.7 1698.5,114C1703.6,114.3 1708.6,114.6 1713.7,114.9C1718.7,115.1 1723.8,115.4 1728.8,115.7C1733.9,116 1738.9,116.2 1744,116.5C1749,116.8 1754,117.1 1759.1,117.3C1764.1,117.6 1769.1,117.9 1774.2,118.2C1779.2,118.5 1784.2,118.7 1789.3,119C1794.3,119.3 1799.3,119.6 1804.3,119.9C1809.3,120.1 1814.3,120.4 1819.3,120.7C1824.3,121 1829.3,121.3 1834.3,121.6C1839.3,121.8 1844.3,122.1 1849.3,122.4C1854.3,122.7 1859.3,123 1864.2,123.3C1869.2,123.5 1874.2,123.8 1879.1,124.1C1884.1,124.4 1889,124.7 1894,125C1898.9,125.3 1903.8,125.6 1908.8,125.8C1913.7,126.1 1918.6,126.4 1923.5,126.7C1928.4,127 1933.3,127.3 1938.2,127.6C1943.1,127.9 1947.9,128.2 1952.8,128.5C1957.7,128.8 1962.5,129.1 1967.4,129.4C1972.2,129.7 1977,130 1981.9,130.3C1986.7,130.6 1991.5,130.9 1996.3,131.2C2001.1,131.5 2005.9,131.8 2010.6,132.1C2015.4,132.4 2020.2,132.7 2024.9,133C2029.6,133.4 2034.4,133.7 2039.1,134C2043.8,134.3 2048.5,134.6 2053.2,134.9C2057.9,135.2 2062.4,135.6 2067.2,135.9C2072.4,136.2 2077.8,136.6 2083.1,137C2088.4,137.4 2093.7,137.7 2098.9,138.1C2104.1,138.5 2109.4,138.9 2114.6,139.2C2119.8,139.6 2124.9,140 2130.1,140.4C2135.2,140.8 2140.4,141.2 2145.5,141.5C2150.6,141.9 2155.6,142.3 2160.7,142.7C2165.7,143.1 2170.8,143.5 2175.8,143.9C2180.8,144.3 2185.7,144.7 2190.7,145.1C2195.6,145.5 2200.5,146 2205.4,146.4C2210.3,146.8 2215.2,147.2 2220,147.6C2224.9,148 2229.7,148.5 2234.4,148.9C2239.2,149.3 2244,149.7 2248.7,150.2C2253.4,150.6 2257.9,151 2262.7,151.5C2267.8,152 2273.1,152.5 2278.3,153C2283.4,153.5 2288.6,154 2293.6,154.5C2298.7,155 2303.7,155.5 2308.7,156.1C2313.7,156.6 2318.6,157.1 2323.5,157.6C2328.4,158.2 2333.3,158.7 2338.1,159.3C2342.9,159.8 2347.6,160.3 2352.3,160.9C2357,161.5 2361.6,162 2366.3,162.6C2371.3,163.2 2376.4,163.8 2381.5,164.5C2386.8,165.2 2392.5,165.9 2397.8,166.6C2402.8,167.2 2407.6,167.8 2412.5,168.4C2417.3,169.1 2422.2,169.7 2427,170.3C2431.8,170.9 2436.6,171.5 2441.4,172.2C2446.1,172.8 2450.9,173.4 2455.6,174C2460.3,174.6 2465,175.2 2469.7,175.8C2474.4,176.4 2478.8,177 2483.6,177.7C2488.8,178.4 2494.3,179.1 2499.7,179.8C2505,180.5 2510.2,181.3 2515.5,182C2520.7,182.7 2525.9,183.4 2531,184.2C2536.2,184.9 2541.3,185.6 2546.4,186.4C2551.4,187.1 2556.4,187.8 2561.4,188.6C2566.4,189.3 2571.3,190.1 2576.2,190.9C2581.1,191.6 2585.9,192.4 2590.8,193.2C2595.5,194 2600.3,194.8 2605,195.6C2609.7,196.4 2614.2,197.1 2618.9,198C2624,198.9 2629.4,199.9 2634.5,200.9C2639.6,201.8 2644.7,202.8 2649.7,203.8C2654.7,204.8 2659.6,205.8 2664.5,206.9C2669.3,207.9 2674,209 2678.8,210C2683.5,211.1 2688,212.2 2692.7,213.3C2697.6,214.6 2702.8,215.9 2707.8,217.2C2712.6,218.5 2717.5,219.9 2722.2,221.3C2726.9,222.7 2731.4,224 2736.1,225.5C2741,227.1 2746,228.8 2750.8,230.5C2755.5,232.2 2760,233.9 2764.7,235.8C2769.4,237.7 2774.3,239.8 2779,242C2783.8,244.3 2788.7,246.8 2793.3,249.4C2797.7,251.9 2801.9,254.6 2806,257.3C2810,259.9 2813.7,262.6 2817.6,265.4C2821.7,268.5 2825.8,271.8 2829.8,275.1C2833.8,278.3 2838.2,282 2841.5,284.8C2843.9,286.9 2845.7,288.4 2847.7,290.1"/>
<path d="M1258,102.5C1253.3,103.4 1248.7,104.2 1244,105.1C1239.2,106 1234.3,106.9 1229.5,107.8C1224.7,108.7 1219.9,109.6 1215,110.5C1210.2,111.4 1205.3,112.2 1200.5,113.1C1195.6,114 1190.8,114.9 1185.9,115.8C1181,116.7 1176.2,117.5 1171.3,118.4C1166.5,119.3 1161.7,120.2 1156.8,121.1C1152,122 1147.2,122.9 1142.4,123.8C1137.6,124.7 1132.8,125.6 1128,126.5C1123.2,127.4 1118.4,128.3 1113.7,129.2C1108.9,130.1 1104.2,131 1099.5,131.9C1094.8,132.9 1090.1,133.8 1085.5,134.7C1080.8,135.7 1076.4,136.6 1071.6,137.5C1066.5,138.6 1061.2,139.7 1056,140.8C1050.8,141.9 1045.7,143 1040.6,144.2C1035.6,145.3 1030.6,146.4 1025.6,147.6C1020.7,148.8 1015.8,149.9 1010.9,151.1C1006.1,152.3 1001.3,153.5 996.6,154.7C991.9,155.9 987.3,157.2 982.7,158.4C978.1,159.7 973.8,160.9 969.2,162.2C964.4,163.6 959.4,165.2 954.4,166.7C949.5,168.2 944.4,169.9 939.5,171.5C934.7,173.1 929.9,174.8 925.1,176.4C920.4,178.1 915.7,179.8 911.1,181.5C906.6,183.1 902,184.8 897.6,186.6C893.1,188.3 888.9,190 884.3,191.8C879.6,193.7 874.5,195.8 869.6,197.8C864.8,199.9 860,201.9 855.2,204C850.5,206 845.8,208.1 841.1,210.2C836.5,212.3 831.9,214.4 827.3,216.5C822.7,218.6 818.1,220.7 813.5,222.8C808.9,224.9 804.4,227.1 799.8,229.2C795.3,231.3 790.6,233.5 786.1,235.6C781.8,237.6 777.7,239.6 773.4,241.6C769.1,243.7 764.7,245.8 760.3,248C756.1,250.1 751.8,252.3 747.6,254.4C743.4,256.6 739.2,258.8 735,261C730.9,263.2 726.9,265.3 722.7,267.6C718.1,270 713.3,272.6 708.7,275.2C704.1,277.7 699.7,280.1 694.8,282.8C689.4,285.8 683.4,289.1 677.8,292.2"/>
<path d="M1258,94.8C1253.2,95.1 1248.5,95.4 1243.8,95.7C1239,96 1234.2,96.3 1229.4,96.5C1224.7,96.8 1219.9,97.1 1215.1,97.4C1210.3,97.7 1205.5,97.9 1200.7,98.2C1195.9,98.5 1191.1,98.8 1186.3,99C1181.5,99.3 1176.7,99.6 1171.9,99.9C1167.2,100.1 1162.4,100.4 1157.6,100.7C1152.8,101 1148,101.3 1143.2,101.5C1138.4,101.8 1133.6,102.1 1128.8,102.4C1124,102.6 1119.2,102.9 1114.5,103.2C1109.7,103.5 1104.9,103.8 1100.2,104C1095.4,104.3 1090.6,104.6 1085.9,104.9C1081.1,105.2 1076.4,105.5 1071.7,105.8C1066.9,106.1 1062.2,106.3 1057.5,106.6C1052.8,106.9 1048.1,107.2 1043.4,107.5C1038.7,107.8 1034.2,108.1 1029.4,108.4C1024.2,108.8 1018.7,109.1 1013.4,109.5C1008.1,109.8 1002.8,110.2 997.6,110.5C992.3,110.9 987.1,111.3 981.9,111.6C976.7,112 971.5,112.4 966.3,112.7C961.1,113.1 956,113.5 950.9,113.9C945.7,114.3 940.7,114.7 935.6,115.1C930.5,115.5 925.5,115.9 920.5,116.3C915.5,116.7 910.5,117.1 905.5,117.5C900.8,117.9 896.2,118.3 891.4,118.7C886.4,119.1 881.2,119.6 876.2,119.9C871.1,120.3 866,120.7 860.8,121.1C855.7,121.5 850.6,121.8 845.5,122.2C840.3,122.6 835.2,122.9 830,123.3C824.9,123.6 819.8,124 814.6,124.3C809.5,124.7 804.4,125 799.3,125.4C794.1,125.7 789,126.1 784,126.4C778.9,126.8 773.8,127.1 768.8,127.5C763.8,127.9 758.7,128.2 753.8,128.6C748.8,129 743.8,129.4 738.9,129.8C734,130.2 729.1,130.6 724.3,131C719.5,131.5 714.7,131.9 709.9,132.4C705.2,132.8 700.7,133.3 695.9,133.8C690.8,134.3 685.4,134.9 680.2,135.6C675.1,136.2 670.1,136.8 665,137.5C660.1,138.2 655.2,138.9 650.4,139.7C645.7,140.4 641.1,141.1 636.4,142C631.5,142.9 626.3,143.9 621.4,144.9C616.6,146 612,147 607.3,148.2C602.4,149.5 597.1,150.9 592.3,152.4C587.7,153.8 583.4,155.3 578.9,157C574.2,158.7 569.2,160.7 564.5,162.8C559.9,164.8 555.5,166.9 551.2,169C546.9,171.1 542.9,173.2 538.8,175.5C534.4,177.9 529.8,180.6 525.5,183.1C521.2,185.7 517,188.2 512.9,190.8C508.8,193.3 504.8,195.7 500.7,198.2C496.6,200.7 492.4,203.2 488.3,205.8C484.3,208.3 480.5,210.8 476.5,213.6C472.4,216.4 468,219.6 464,222.6C460.1,225.5 456.5,228.3 452.7,231.2C448.9,234.1 445.1,237.1 441.2,240.2C437.4,243.2 433.6,246.2 429.7,249.4C425.6,252.6 421.4,256.1 417.5,259.3C413.7,262.4 410.2,265.4 406.5,268.5C402.8,271.6 399.1,274.8 395.4,278C391.7,281.2 388,284.4 384.4,287.6C380.8,290.8 377.2,294.1 373.6,297.3C370.1,300.5 366.7,303.7 363.3,306.9C359.8,310.2 356.5,313.4 353.1,316.7C349.8,320.1 346.4,323.5 343.1,326.9C339.9,330.3 336.7,333.8 333.5,337.2C330.3,340.6 327.4,343.8 324,347.6C320,352 315.3,357.2 311,362.1"/>
<path d="M1354,104C1359,105.6 1364.1,107.2 1369,108.7C1373.7,110.1 1378.2,111.5 1382.8,112.9C1387.4,114.4 1392,115.8 1396.6,117.2C1401.2,118.6 1405.9,120.1 1410.5,121.5C1415,122.9 1419.6,124.3 1424.2,125.8C1428.8,127.2 1433.3,128.6 1437.9,130.1C1442.4,131.5 1446.9,133 1451.4,134.4C1455.9,135.9 1460.2,137.3 1464.8,138.8C1469.7,140.4 1474.9,142.2 1479.9,143.9C1484.9,145.6 1489.8,147.3 1494.7,149.1C1499.5,150.8 1504.3,152.6 1509.1,154.4C1513.8,156.2 1518.5,158 1523.1,159.8C1527.8,161.7 1532.4,163.6 1537,165.5C1541.6,167.5 1546.2,169.5 1550.8,171.5C1555.3,173.6 1559.7,175.6 1564.1,177.7C1568.4,179.8 1572.7,181.9 1577,184C1581.2,186.1 1585.2,188.2 1589.5,190.4C1594.1,192.8 1598.9,195.3 1603.6,197.8C1608.2,200.3 1612.8,202.8 1617.4,205.3C1622,207.8 1626.5,210.3 1631.1,212.8C1635.7,215.3 1640.2,217.8 1644.8,220.3C1649.4,222.8 1654,225.3 1658.6,227.8C1663.3,230.3 1668.1,232.9 1672.7,235.2C1677,237.5 1681,239.5 1685.2,241.6C1689.5,243.8 1693.8,245.9 1698.1,247.9C1702.5,250 1706.9,252.1 1711.3,254.1C1715.7,256.2 1720.1,258.2 1724.5,260.3C1729,262.3 1733.4,264.4 1737.9,266.4C1742.3,268.5 1746.7,270.5 1751.1,272.6C1755.5,274.6 1759.8,276.7 1764.1,278.8C1768.4,280.9 1772.5,282.9 1776.8,285.2C1781.4,287.5 1786.3,290 1790.9,292.6C1795.4,295.1 1799.8,297.6 1804.2,300.3C1808.4,302.8 1812.6,305.5 1816.6,308.2C1820.5,310.9 1824.2,313.6 1828,316.6C1831.8,319.6 1835.6,322.8 1839.3,326C1842.9,329.2 1846.2,332.4 1849.7,335.8C1853.4,339.4 1857.2,343.4 1860.8,347.2C1864.4,351 1869,356.1 1871.5,358.8C1872.9,360.3 1873.6,361.1 1874.7,362.2"/>
<path d="M1319.6,104C1321.3,108.6 1323.1,113.1 1324.9,117.7C1326.6,122.1 1328.3,126.4 1330,130.8C1331.7,135.2 1333.4,139.6 1335.1,144C1336.8,148.4 1338.5,152.7 1340.1,157.1C1341.8,161.5 1343.5,165.9 1345.1,170.3C1346.8,174.7 1348.4,179.1 1350,183.5C1351.6,187.9 1353.2,192.2 1354.8,196.6C1356.4,201 1358,205.4 1359.6,209.8C1361.2,214.2 1362.8,218.6 1364.4,223C1366,227.4 1367.6,231.7 1369.3,236.1C1370.9,240.5 1372.6,244.9 1374.3,249.3C1376,253.7 1377.7,258.1 1379.4,262.5C1381.1,266.9 1383,271.5 1384.6,275.6C1386.1,279.4 1387.4,282.7 1388.8,286.3"/>
<path d="M1289.8,104C1285.5,106.2 1281.1,108.4 1276.9,110.6C1272.6,112.7 1268.5,114.9 1264.3,117C1260.1,119.1 1255.9,121.3 1251.7,123.4C1247.5,125.6 1243.3,127.7 1239.1,129.8C1234.9,132 1230.7,134.1 1226.5,136.3C1222.3,138.4 1217.4,140.9 1213.9,142.7C1211.4,143.9 1209.6,144.9 1207.4,145.9"/>
<path d="M1260,104C1255.1,105.1 1250.1,106.1 1245.2,107.2C1240.2,108.2 1235.3,109.2 1230.4,110.3C1225.4,111.3 1220.4,112.3 1215.5,113.3C1210.5,114.4 1205.5,115.4 1200.6,116.4C1195.6,117.4 1190.6,118.5 1185.7,119.5C1180.8,120.5 1175.8,121.6 1170.9,122.6C1166,123.7 1161.1,124.7 1156.3,125.8C1151.5,126.8 1146.7,127.9 1141.9,129C1137.1,130.1 1132.4,131.2 1127.7,132.3C1123.1,133.4 1118.6,134.5 1113.8,135.7C1108.8,136.9 1103.5,138.3 1098.4,139.7C1093.4,141 1088.5,142.4 1083.6,143.9C1078.8,145.3 1074,146.7 1069.4,148.2C1064.8,149.7 1060.4,151.2 1055.8,152.8C1051.1,154.5 1046.2,156.3 1041.6,158.2C1037.1,160.1 1032.8,161.9 1028.4,164C1023.7,166.2 1018.9,168.6 1014.2,171.1C1009.4,173.5 1004.5,176.1 999.9,178.8C995.3,181.4 990.8,184 986.4,186.8C982.1,189.4 977.9,192.2 973.9,195C969.9,197.8 966.2,200.5 962.4,203.6C958.4,206.7 954.3,210.2 950.6,213.7C947,217.1 943.6,220.5 940.4,224.2C937,228.1 933.6,232.3 930.9,236.6C928.3,240.6 926.2,244.8 924.5,249.1C922.8,253.5 921.6,258.1 920.7,262.7C919.7,267.4 919.1,272.7 918.7,276.8C918.3,280 918.1,282.5 917.9,285.4"/>
<path d="M1306.6,104C1303.9,108.3 1301.1,112.7 1298.4,116.9C1295.9,121 1293.4,124.9 1290.9,128.9C1288.3,132.9 1285.8,136.8 1283.3,140.8C1280.7,144.8 1278.2,148.8 1275.7,152.7C1273.1,156.7 1270.6,160.7 1268,164.7C1265.4,168.7 1262.8,172.6 1260.2,176.6C1257.6,180.6 1255,184.6 1252.4,188.5C1249.8,192.5 1247.1,196.5 1244.5,200.5C1241.9,204.4 1239.2,208.4 1236.6,212.4C1234,216.4 1231.4,220.3 1228.8,224.3C1226.2,228.3 1223.6,232.3 1221.1,236.3C1218.6,240.3 1216.1,244.2 1213.6,248.2C1211.1,252.2 1208.6,256.1 1206.1,260.1C1203.7,264.1 1201.4,267.8 1198.8,272.1C1195.9,276.8 1192.6,282.2 1189.5,287.3"/>
<path d="M1269.5,104C1264.4,105.3 1259.3,106.7 1254.2,108C1249.3,109.2 1244.5,110.4 1239.6,111.7C1234.7,112.9 1229.8,114.1 1224.9,115.4C1220,116.6 1215.1,117.8 1210.3,119.1C1205.4,120.3 1200.5,121.5 1195.7,122.8C1190.9,124 1186.1,125.3 1181.3,126.6C1176.6,127.8 1171.8,129.1 1167.2,130.4C1162.5,131.7 1157.9,133.1 1153.3,134.4C1148.8,135.7 1144.5,137 1139.9,138.5C1135.1,140 1130,141.7 1125.1,143.4C1120.3,145 1115.6,146.7 1111,148.4C1106.5,150.2 1102.2,151.9 1097.8,153.8C1093.2,155.8 1088.4,157.9 1084,160.2C1079.7,162.3 1075.6,164.5 1071.5,167C1067.1,169.6 1062.7,172.6 1058.5,175.5C1054.5,178.4 1050.9,181.4 1047.1,184.6C1043.1,187.9 1039.1,191.7 1035.4,195.3C1031.6,198.9 1027.9,202.8 1024.5,206.3C1021.4,209.6 1018.6,212.6 1015.7,215.7"/>
<path d="M1336.1,104C1340.4,106.6 1344.8,109.2 1349.1,111.7C1353.2,114.1 1357.1,116.5 1361.1,118.8C1365.1,121.2 1369.2,123.6 1373.2,126C1377.2,128.3 1381.2,130.7 1385.2,133.1C1389.2,135.5 1393.6,138.1 1397.3,140.2C1400.3,142 1402.9,143.5 1405.7,145.2"/>
<path d="M1371.3,98.2C1376.3,98.9 1381.4,99.5 1386.3,100.1C1391.1,100.7 1395.6,101.2 1400.3,101.8C1404.9,102.3 1409.6,102.9 1414.2,103.5C1418.8,104 1423.5,104.6 1428.1,105.2C1432.8,105.7 1437.4,106.3 1442.1,106.9C1446.7,107.4 1451.4,108 1456,108.6C1460.7,109.1 1465.3,109.7 1470,110.3C1474.6,110.8 1479.2,111.4 1483.9,112C1488.5,112.5 1493.2,113.1 1497.8,113.7C1502.5,114.2 1507.1,114.8 1511.8,115.4C1516.4,115.9 1521.1,116.5 1525.7,117.1C1530.3,117.6 1535,118.2 1539.6,118.8C1544.3,119.3 1548.9,119.9 1553.6,120.5C1558.2,121 1562.9,121.6 1567.5,122.2C1572.2,122.7 1576.8,123.3 1581.5,123.9C1586.1,124.4 1590.7,125 1595.4,125.6C1600,126.1 1604.7,126.7 1609.3,127.3C1614,127.8 1618.6,128.4 1623.3,129C1627.9,129.5 1632.6,130.1 1637.2,130.7C1641.8,131.2 1646.5,131.8 1651.1,132.4C1655.8,132.9 1660.4,133.5 1665.1,134.1C1669.7,134.6 1674.4,135.2 1679,135.8C1683.7,136.3 1688.3,136.9 1693,137.5C1697.6,138 1702.2,138.6 1706.9,139.2C1711.5,139.7 1716.2,140.3 1720.8,140.9C1725.5,141.4 1730.1,142 1734.8,142.6C1739.4,143.1 1744.1,143.7 1748.7,144.3C1753.3,144.8 1758,145.4 1762.6,146C1767.3,146.5 1771.9,147.1 1776.6,147.7C1781.2,148.2 1785.9,148.8 1790.5,149.4C1795.2,149.9 1799.8,150.5 1804.5,151.1C1809.1,151.6 1813.7,152.2 1818.4,152.8C1823,153.3 1827.8,153.9 1832.3,154.5C1836.7,155 1841,155.5 1845.4,156.1"/>
<path d="M972.6,318.4C977.9,319 983.2,319.7 988.3,320.3C993.1,320.9 997.6,321.5 1002.2,322C1006.9,322.6 1011.5,323.2 1016.2,323.7C1020.8,324.3 1025.5,324.9 1030.1,325.4C1034.8,326 1039.4,326.6 1044.1,327.1C1048.7,327.7 1053.3,328.3 1058,328.8C1062.6,329.4 1067.3,329.9 1071.9,330.5C1076.6,331.1 1081.2,331.6 1085.9,332.2C1090.5,332.8 1095.2,333.3 1099.8,333.9C1104.4,334.5 1109.1,335 1113.7,335.6C1118.4,336.2 1123,336.7 1127.7,337.3C1132.3,337.9 1137,338.4 1141.6,339C1146.3,339.6 1150.9,340.1 1155.5,340.7C1160.2,341.3 1164.8,341.8 1169.5,342.4C1174.1,343 1178.8,343.5 1183.4,344.1C1188.1,344.7 1192.7,345.2 1197.4,345.8C1202,346.4 1206.6,346.9 1211.3,347.5C1215.9,348.1 1220.6,348.6 1225.2,349.2C1229.9,349.8 1234.5,350.3 1239.2,350.9C1243.8,351.5 1248.5,352 1253.1,352.6C1257.7,353.2 1262.4,353.7 1267,354.3C1271.7,354.9 1276.3,355.4 1281,356C1285.6,356.6 1290.3,357.1 1294.9,357.7C1299.6,358.3 1304.2,358.8 1308.8,359.4C1313.5,360 1318.1,360.5 1322.8,361.1C1327.4,361.7 1332.1,362.2 1336.7,362.8C1341.4,363.4 1346,363.9 1350.7,364.5C1355.3,365.1 1359.9,365.6 1364.6,366.2C1369.2,366.8 1373.9,367.3 1378.5,367.9C1383.2,368.5 1387.8,369 1392.5,369.6C1397.1,370.2 1401.8,370.7 1406.4,371.3C1411,371.9 1415.7,372.4 1420.3,373C1425,373.6 1429.6,374.1 1434.3,374.7C1438.9,375.3 1443.5,375.8 1448.2,376.4C1453,377 1457.8,377.6 1462.7,378.2"/>
<path d="M937.5,324C941.9,326.7 946.4,329.4 950.8,332.1C954.9,334.7 958.9,337.3 963,339.8C967.1,342.4 971.3,345 975.5,347.5C979.7,350.1 984,352.6 988.4,355.1C993,357.6 997.8,360.2 1002.4,362.5C1006.8,364.8 1011.1,366.8 1015.7,368.8C1020.4,370.9 1025.4,373 1030.2,374.9C1034.9,376.7 1039.3,378.3 1044,379.9C1048.8,381.6 1054.1,383.2 1059,384.7C1063.6,386 1067.9,387.2 1072.5,388.4C1077.2,389.7 1082.2,390.9 1087,392C1091.6,393.1 1096.2,394.1 1100.9,395.1C1105.7,396.1 1110.8,397.2 1115.6,398.1C1120.2,399 1124.7,399.8 1129.4,400.7C1134.1,401.5 1138.9,402.4 1143.7,403.2C1148.6,404 1153.6,404.8 1158.6,405.6C1163.7,406.4 1168.9,407.1 1173.9,407.9C1178.7,408.6 1183.3,409.2 1188,409.9C1192.8,410.5 1197.6,411.2 1202.4,411.8C1207.3,412.4 1212.2,413 1217.1,413.6C1222.1,414.3 1227.2,414.9 1232.2,415.5C1237.3,416.1 1242.4,416.6 1247.6,417.2C1252.8,417.8 1258.2,418.4 1263.2,418.9C1268,419.4 1272.5,419.9 1277.2,420.4C1281.9,420.8 1286.6,421.3 1291.3,421.8C1296.1,422.2 1300.8,422.7 1305.6,423.2C1310.4,423.6 1315.3,424.1 1320.1,424.5C1325,425 1329.9,425.4 1334.8,425.8C1339.7,426.3 1344.6,426.7 1349.6,427.1C1354.6,427.6 1359.6,428 1364.6,428.4C1369.6,428.8 1374.6,429.2 1379.6,429.6C1384.7,430.1 1389.8,430.5 1394.9,430.9C1400,431.3 1405.1,431.7 1410.2,432.1C1415.3,432.5 1420.5,432.9 1425.6,433.3C1430.8,433.7 1436,434.1 1441.1,434.4C1446.3,434.8 1451.5,435.2 1456.7,435.6C1461.9,436 1467.2,436.4 1472.4,436.8C1477.6,437.1 1482.9,437.5 1488.1,437.9C1493.4,438.3 1498.6,438.6 1503.9,439C1509.1,439.4 1514.4,439.8 1519.7,440.1C1524.9,440.5 1530.2,440.9 1535.5,441.3C1540.8,441.6 1546,442 1551.3,442.4C1556.6,442.8 1561.9,443.1 1567.2,443.5C1572.4,443.9 1577.7,444.2 1583,444.6C1588.3,445 1593.5,445.4 1598.8,445.7C1604.1,446.1 1609.3,446.5 1614.6,446.9C1619.8,447.2 1625.1,447.6 1630.3,448C1635.5,448.4 1640.8,448.8 1646,449.1C1651.2,449.5 1656.4,449.9 1661.6,450.3C1666.8,450.7 1672,451.1 1677.1,451.5C1682.3,451.9 1687.4,452.3 1692.6,452.7C1697.7,453.1 1702.8,453.5 1707.9,453.9C1713,454.3 1718.1,454.7 1723.2,455.1C1728.2,455.5 1733.3,455.9 1738.3,456.3C1743.3,456.7 1748.3,457.2 1753.3,457.6C1758.3,458 1763.2,458.4 1768.2,458.9C1773.1,459.3 1778.4,459.8 1782.9,460.2C1786.7,460.5 1789.9,460.8 1793.4,461.2"/>
<path d="M914.5,324C914.5,329.2 914.4,334.6 914.3,339.7C914.3,344.5 914.2,349.1 914.2,353.9C914.1,358.6 914.1,363.4 914.1,368.1C914,372.9 914,377.7 914,382.6C914,387.8 914,393.4 914,398.6C914.1,403.4 914.1,407.9 914.1,412.6C914.2,417.3 914.2,422.2 914.3,426.8C914.3,431.1 914.4,435.2 914.4,439.3"/>
<path d="M856.7,316.2C851.9,316.5 847.2,316.9 842.4,317.2C837.5,317.6 832.4,317.9 827.4,318.3C822.4,318.6 817.3,319 812.3,319.3C807.2,319.6 802.1,320 797,320.3C791.9,320.6 786.7,320.9 781.6,321.3C776.4,321.6 771.2,321.9 766.1,322.2C760.9,322.5 755.7,322.8 750.4,323.1C745.2,323.4 740,323.7 734.7,324C729.4,324.3 724.2,324.6 718.9,324.9C713.6,325.1 708.3,325.4 703,325.7C697.7,326 692.4,326.3 687.1,326.6C681.8,326.8 676.4,327.1 671.1,327.4C665.8,327.7 660.4,327.9 655.1,328.2C649.8,328.5 644.4,328.8 639.1,329C633.7,329.3 628.4,329.6 623,329.8C617.7,330.1 612.3,330.4 607,330.7C601.6,330.9 596.3,331.2 590.9,331.5C585.6,331.8 580.3,332 574.9,332.3C569.6,332.6 564.3,332.9 559,333.1C553.7,333.4 548.3,333.7 543,334C537.8,334.3 532.5,334.6 527.2,334.8C521.9,335.1 516.7,335.4 511.4,335.7C506.2,336 500.9,336.3 495.7,336.6C490.5,336.9 485.3,337.2 480.1,337.5C474.9,337.8 469.7,338.2 464.6,338.5C459.4,338.8 454.3,339.1 449.2,339.4C444.1,339.8 439,340.1 433.9,340.4C428.9,340.8 423.8,341.1 418.8,341.5C413.8,341.8 408.8,342.2 403.9,342.5C398.9,342.9 394,343.3 389.1,343.6C384.2,344 379.3,344.4 374.5,344.8C369.6,345.2 364.8,345.5 360,346C355.3,346.4 350.5,346.8 345.8,347.2C341.1,347.6 336.6,348 331.8,348.5C326.7,348.9 321.3,349.5 316.1,350C310.9,350.5 305.8,351 300.6,351.6C295.6,352.1 290.6,352.7 285.6,353.2C280.6,353.8 275.7,354.4 270.8,355C266,355.6 261.2,356.2 256.4,356.8C251.7,357.4 247.2,358.1 242.4,358.7C237.4,359.4 232.2,360.2 227.2,361C222.2,361.8 217.3,362.6 212.4,363.4C207.6,364.2 203,365 198.2,365.9C193.3,366.8 188.1,367.8 183.2,368.8C178.3,369.8 173.6,370.8 168.8,371.9C163.9,373.1 158.8,374.3 154,375.6C149.3,376.8 144.7,378 140.1,379.4C135.5,380.8 130.9,382.3 126.2,383.9C121.2,385.6 116.1,387.5 111.1,389.5C106,391.5 100.8,393.6 95.7,395.7C90.7,397.8 85.7,400.1 80.8,402.3C76,404.6 71.2,406.9 66.5,409.3C62,411.6 57.5,414 53.2,416.4C49,418.8 45,421.1 41,423.7C36.8,426.4 32.5,429.2 28.5,432.3C24.5,435.3 20.4,438.4 17,441.9C13.5,445.4 9.5,449.2 7.6,453.4C5.8,457.5 4.3,463 5.5,466.9C6.8,470.9 11.7,474.3 15.6,477.1C19.5,479.9 24.4,481.8 29,483.8C33.8,485.8 38.9,487.4 43.8,489C48.4,490.5 52.8,491.8 57.5,493.1C62.5,494.4 67.8,495.8 72.9,497C77.8,498.2 82.5,499.2 87.4,500.3C92.5,501.5 97.8,502.6 102.8,503.6C107.5,504.6 112,505.5 116.6,506.4C121.4,507.3 126.1,508.2 130.9,509.1C135.8,510 140.7,510.9 145.6,511.8C150.6,512.6 155.6,513.5 160.6,514.4C165.6,515.3 170.7,516.2 175.7,517.1C180.8,517.9 186,518.8 191.1,519.7C196.2,520.6 201.3,521.4 206.4,522.3C211.5,523.2 216.6,524.1 221.7,524.9C226.8,525.8 231.8,526.7 236.9,527.6C241.9,528.5 246.9,529.3 251.8,530.2C256.7,531.1 261.3,532 266.4,532.9C272.1,534 278.4,535.2 284.4,536.4"/>
<path d="M929.2,324C932.8,327.3 936.3,330.4 940,333.8C943.8,337.2 947.8,340.8 951.7,344.3C955.7,347.9 959.8,351.5 963.6,354.9C967.3,358.1 970.8,361 974.4,364.1C978.1,367.1 981.8,370.2 985.6,373.2C989.5,376.2 993.5,379.2 997.5,382.1C1001.6,385.2 1005.9,388.2 1009.9,391.1C1013.9,394.1 1017.7,396.9 1021.6,399.8C1025.5,402.8 1029.4,405.7 1033.3,408.6C1037.2,411.5 1041.2,414.4 1045.2,417.3C1049.3,420.2 1053.4,423 1057.7,425.9C1062,428.7 1066.5,431.6 1070.9,434.3C1075.1,436.8 1079.1,439.1 1083.3,441.5C1087.7,443.8 1092.2,446.2 1096.7,448.4C1101.5,450.7 1106.5,453 1111.3,455.1C1115.9,457.1 1120.4,458.9 1124.9,460.6C1129.3,462.3 1133.7,463.9 1138.2,465.4C1142.9,467 1147.8,468.5 1152.5,469.9C1157.1,471.3 1161.7,472.6 1166.4,473.8C1171.2,475.1 1176.3,476.4 1181.1,477.5C1185.8,478.6 1190.4,479.7 1195.1,480.7C1199.9,481.7 1204.7,482.7 1209.6,483.7C1214.6,484.7 1219.9,485.7 1224.8,486.6C1229.5,487.5 1234.1,488.3 1238.8,489.1C1243.5,489.9 1248.3,490.7 1253.1,491.5C1258,492.3 1262.9,493 1267.9,493.8C1272.9,494.5 1277.9,495.3 1283,496C1288.1,496.7 1293.3,497.4 1298.4,498.1C1303.7,498.8 1309.1,499.6 1314.2,500.2C1319.1,500.8 1323.6,501.4 1328.3,502C1333,502.5 1337.8,503.1 1342.6,503.7C1347.4,504.2 1352.2,504.8 1357.1,505.3C1361.9,505.9 1366.8,506.4 1371.7,506.9C1376.7,507.5 1381.6,508 1386.6,508.5C1391.5,509 1396.5,509.5 1401.5,510.1C1406.6,510.6 1411.6,511.1 1416.7,511.6C1421.7,512.1 1426.8,512.6 1431.9,513.1C1437,513.5 1442.1,514 1447.3,514.5C1452.4,515 1457.6,515.5 1462.7,516C1467.9,516.4 1473,516.9 1478.2,517.4C1483.4,517.9 1488.6,518.3 1493.8,518.8C1499,519.3 1504.2,519.7 1509.4,520.2C1514.7,520.7 1519.9,521.1 1525.1,521.6C1530.3,522 1535.5,522.5 1540.8,523C1546,523.4 1551.2,523.9 1556.4,524.4C1561.7,524.8 1566.9,525.3 1572.1,525.8C1577.3,526.2 1582.5,526.7 1587.7,527.2C1592.9,527.6 1598.1,528.1 1603.3,528.6C1608.5,529 1613.7,529.5 1618.8,530C1624,530.5 1629.1,530.9 1634.3,531.4C1639.4,531.9 1644.5,532.4 1649.6,532.9C1654.7,533.4 1659.8,533.9 1664.9,534.4C1669.9,534.9 1675,535.4 1680,535.9C1685,536.4 1690,536.9 1695,537.4C1700,538 1705.9,538.6 1709.8,539C1712.3,539.3 1714,539.5 1716,539.7"/>
<path d="M856.7,318.1C851.5,318.8 846.1,319.4 841.1,320C836.3,320.5 831.8,321.1 827.2,321.6C822.6,322.2 817.9,322.7 813.3,323.2C808.6,323.8 804,324.3 799.4,324.9C794.7,325.4 790.1,326 785.4,326.5C780.8,327.1 776.2,327.6 771.5,328.1C766.9,328.7 762.3,329.2 757.6,329.8C753,330.3 748.3,330.9 743.7,331.4C739.1,332 734.4,332.5 729.8,333.1C725.2,333.6 720.5,334.1 715.9,334.7C711.2,335.2 706.6,335.8 702,336.3C697.3,336.9 692.7,337.4 688,338C683.4,338.5 678.8,339 674.1,339.6C669.5,340.1 664.9,340.7 660.2,341.2C655.6,341.8 650.9,342.3 646.3,342.9C641.7,343.4 637,344 632.4,344.5C627.8,345 623.1,345.6 618.5,346.1C613.8,346.7 609.2,347.2 604.6,347.8C599.9,348.3 595.3,348.9 590.6,349.4C586,349.9 581.4,350.5 576.7,351C572.1,351.6 567.5,352.1 562.8,352.7C558.2,353.2 553.5,353.8 548.9,354.3C544.3,354.9 539.6,355.4 535,355.9C530.4,356.5 525.7,357 521.1,357.6C516.4,358.1 511.8,358.7 507.2,359.2C502.5,359.8 497.9,360.3 493.2,360.8C488.6,361.4 484,361.9 479.3,362.5C474.7,363 470.1,363.6 465.4,364.1C460.8,364.7 456.1,365.2 451.5,365.7C446.9,366.3 442.2,366.8 437.6,367.4C433,367.9 428.3,368.5 423.7,369C419,369.6 414.4,370.1 409.8,370.7C405.1,371.2 399.7,371.8 395.9,372.3C393.2,372.6 391.3,372.8 389.1,373.1"/>
<path d="M901.8,324C898,327.7 894.2,331.5 890.5,335.2C886.7,339 882.8,342.8 879.1,346.4C875.7,349.8 872.5,353 869.1,356.3C865.8,359.6 862.4,362.9 859.1,366.1C855.7,369.5 852.3,372.8 848.9,376.1C845.5,379.4 842.1,382.6 838.6,386C834.9,389.6 830.8,393.5 827.1,397C823.6,400.4 820.3,403.5 816.9,406.7C813.5,409.9 810,413.2 806.6,416.4C803.1,419.7 799.6,423 796.2,426.2C792.7,429.5 789,433 785.7,436C782.9,438.7 780.4,441 777.7,443.5"/>
<path d="M959.6,324C964.5,325.4 969.5,326.8 974.4,328.2C979,329.5 983.4,330.7 987.8,332C992.3,333.2 996.8,334.5 1001.3,335.8C1005.8,337 1010.3,338.3 1014.8,339.6C1019.3,340.8 1023.8,342.1 1028.3,343.4C1032.8,344.7 1037.3,345.9 1041.8,347.2C1046.3,348.5 1050.8,349.7 1055.3,351C1059.8,352.3 1064.3,353.5 1068.8,354.8C1073.2,356.1 1077.7,357.3 1082.2,358.6C1086.7,359.9 1091.2,361.1 1095.7,362.4C1100.2,363.7 1105.3,365.1 1109.2,366.2C1112.1,367 1114.4,367.7 1116.9,368.4"/>
<path d="M951.9,244.7C947.2,245.4 942.5,246.2 937.8,246.9C933.2,247.7 928.6,248.4 924,249.2C919.4,249.9 914.8,250.6 910.2,251.4C905.5,252.1 900.9,252.9 896.3,253.6C891.7,254.4 887.1,255.1 882.5,255.9C877.9,256.6 873.3,257.3 868.6,258.1C864,258.8 859.4,259.6 854.8,260.3C850.2,261.1 845.6,261.8 841,262.6C836.3,263.3 831.7,264 827.1,264.8C822.5,265.5 817.9,266.3 813.3,267C808.7,267.8 804.1,268.5 799.4,269.2C794.8,270 790.2,270.7 785.6,271.5C781,272.2 776.4,273 771.8,273.7C767.1,274.5 762.5,275.2 757.9,275.9C753.3,276.7 748.7,277.4 744.1,278.2C739.5,278.9 734.8,279.7 730.2,280.4C725.6,281.1 721,281.9 716.4,282.6C711.8,283.4 707.2,284.1 702.6,284.9C697.9,285.6 693.3,286.4 688.7,287.1C684.1,287.8 679.5,288.6 674.9,289.3C670.3,290.1 665.6,290.8 661,291.6C656.4,292.3 651.8,293.1 647.2,293.8C642.6,294.5 638,295.3 633.4,296C628.7,296.8 624.1,297.5 619.5,298.3C614.9,299 610.1,299.8 605.7,300.5C601.7,301.1 598.1,301.7 594.3,302.3"/>
<path d="M1006.6,250.7C1009.9,254.1 1013.1,257.5 1016.3,261C1019.7,264.7 1023,268.4 1026.5,272.1C1030,275.8 1033.7,279.5 1037.3,282.9C1040.8,286.2 1044.2,289.2 1047.9,292.2C1051.8,295.2 1056,298.2 1060.1,300.9C1064.1,303.5 1068.1,305.8 1072.2,308C1076.4,310.2 1080.7,312.2 1085.1,314C1089.4,315.9 1093.7,317.5 1098.2,319.1C1102.9,320.8 1107.8,322.4 1112.6,323.9C1117.3,325.3 1121.9,326.6 1126.7,327.9C1131.6,329.2 1136.7,330.5 1141.6,331.6C1146.3,332.8 1150.9,333.8 1155.6,334.8C1160.4,335.8 1165.3,336.8 1170.2,337.8C1175.2,338.7 1180.2,339.7 1185.3,340.6C1190.5,341.5 1195.9,342.5 1201,343.3C1205.8,344.1 1210.4,344.8 1215.1,345.6C1219.8,346.3 1224.6,347 1229.5,347.7C1234.3,348.4 1239.2,349.1 1244.1,349.8C1249.1,350.5 1254.1,351.2 1259.1,351.9C1264.1,352.5 1269.1,353.2 1274.2,353.8C1279.3,354.5 1284.4,355.1 1289.5,355.8C1294.6,356.4 1299.8,357 1305,357.6C1310.1,358.3 1315.3,358.9 1320.5,359.5C1325.8,360.1 1331,360.7 1336.2,361.3C1341.4,361.9 1346.7,362.5 1351.9,363.2C1357.1,363.8 1362.4,364.4 1367.6,365C1372.8,365.6 1378.1,366.2 1383.3,366.8C1388.5,367.4 1393.7,368 1398.9,368.6C1404.1,369.3 1409.3,369.9 1414.5,370.5C1419.6,371.1 1424.7,371.8 1429.9,372.4C1435,373 1439.9,373.7 1445.1,374.3C1450.8,375.1 1456.8,375.9 1462.7,376.7"/>
<path d="M962.3,250.7C957.5,252.4 952.6,254.2 947.9,255.8C943.4,257.4 939,258.9 934.6,260.5C930.1,262 925.8,263.5 921.2,265.1C916.3,266.8 911,268.7 905.9,270.6C901,272.4 896.1,274.3 891.3,276.2C886.6,278.1 882.1,279.9 877.6,282C872.9,284.2 868,286.6 863.5,289.1C859.4,291.4 855.5,293.7 851.7,296.6C847.9,299.6 843.8,302.9 840.9,306.9C838,310.8 835.8,315.5 834.5,320.3C833.2,325.1 833.1,330.8 833.3,335.8C833.5,340.7 834.4,345.4 835.5,350.2C836.6,355 838.2,359.9 839.9,364.7C841.6,369.5 843.5,374.2 845.5,378.8C847.5,383.5 849.6,388.3 852.1,392.7C854.6,397.1 857.6,401.3 860.5,405.3C863.3,409.2 866.3,412.6 869.3,416.2C872.4,419.9 875.7,423.4 879.1,427C882.4,430.6 886.5,434.7 889.3,437.7C891.3,439.8 892.7,441.2 894.4,443"/>
<path d="M1034.5,241.5C1039.6,241.9 1044.7,242.3 1049.7,242.7C1054.6,243.1 1059.3,243.5 1064,243.9C1068.8,244.3 1073.6,244.7 1078.4,245C1083.2,245.4 1088,245.8 1092.8,246.2C1097.7,246.6 1102.5,246.9 1107.3,247.3C1112.1,247.7 1117,248.1 1121.8,248.5C1126.7,248.8 1131.6,249.2 1136.4,249.6C1141.3,250 1146.2,250.3 1151,250.7C1155.9,251.1 1160.8,251.5 1165.7,251.8C1170.6,252.2 1175.5,252.6 1180.4,252.9C1185.3,253.3 1190.2,253.7 1195.1,254.1C1200,254.4 1204.9,254.8 1209.8,255.2C1214.7,255.5 1219.7,255.9 1224.6,256.3C1229.5,256.6 1234.4,257 1239.4,257.4C1244.3,257.7 1249.2,258.1 1254.2,258.5C1259.1,258.8 1264,259.2 1269,259.6C1273.9,260 1278.8,260.3 1283.8,260.7C1288.7,261.1 1293.7,261.4 1298.6,261.8C1303.5,262.2 1308.5,262.5 1313.4,262.9C1318.3,263.3 1323.3,263.6 1328.2,264C1333.1,264.4 1338.1,264.7 1343,265.1C1347.9,265.5 1352.8,265.8 1357.8,266.2C1362.7,266.6 1367.6,266.9 1372.5,267.3C1377.4,267.7 1382.4,268 1387.3,268.4C1392.2,268.8 1397.1,269.2 1402,269.5C1406.9,269.9 1411.8,270.3 1416.7,270.6C1421.5,271 1426.4,271.4 1431.3,271.8C1436.2,272.1 1441,272.5 1445.9,272.9C1450.8,273.3 1455.6,273.6 1460.5,274C1465.3,274.4 1470.2,274.8 1475,275.2C1479.8,275.5 1484.6,275.9 1489.5,276.3C1494.3,276.7 1499.1,277.1 1503.9,277.4C1508.7,277.8 1513.4,278.2 1518.2,278.6C1523,279 1527.8,279.4 1532.5,279.8C1537.3,280.1 1542,280.5 1546.7,280.9C1551.5,281.3 1556.2,281.7 1560.9,282.1C1565.6,282.5 1570.3,282.9 1575,283.3C1579.6,283.7 1584.2,284.1 1589,284.5C1594.1,284.9 1599.6,285.4 1604.9,285.9C1610.1,286.3 1615.4,286.8 1620.7,287.3C1625.9,287.7 1631.1,288.2 1636.3,288.7C1641.5,289.1 1646.7,289.6 1651.9,290.1C1657,290.6 1662.2,291.1 1667.3,291.5C1672.4,292 1677.5,292.5 1682.6,293C1687.6,293.5 1692.6,294 1697.7,294.5C1702.7,295 1707.7,295.4 1712.7,295.9C1717.6,296.4 1722.6,296.9 1727.5,297.5C1732.4,298 1737.3,298.5 1742.1,299C1747,299.5 1751.8,300 1756.6,300.5C1761.4,301 1766.2,301.6 1771,302.1C1775.7,302.6 1780.4,303.2 1785.1,303.7C1789.8,304.2 1794.3,304.7 1799.1,305.3C1804.1,305.9 1809.4,306.5 1814.5,307.1C1819.6,307.8 1824.7,308.4 1829.7,309C1834.8,309.6 1839.7,310.3 1844.7,310.9C1849.7,311.5 1854.5,312.2 1859.6,312.9C1864.8,313.6 1870.2,314.3 1875.4,315C1880.6,315.8 1885.8,316.5 1890.9,317.3C1896,318 1901,318.7 1906.1,319.5C1911,320.3 1916,321 1920.9,321.8C1925.8,322.6 1930.6,323.3 1935.4,324.1C1940.2,324.9 1945,325.7 1949.7,326.5C1954.4,327.3 1959.1,328 1963.7,328.8C1968.3,329.6 1972.8,330.4 1977.5,331.3C1982.5,332.1 1987.9,333.1 1993.1,334C1998.2,335 2003.3,335.9 2008.4,336.8C2013.4,337.8 2018.5,338.7 2023.5,339.7C2028.5,340.6 2033.5,341.5 2038.5,342.5C2043.4,343.4 2048.4,344.4 2053.3,345.4C2058.3,346.3 2063.2,347.3 2068.1,348.2C2073,349.2 2077.9,350.1 2082.8,351.1C2087.7,352.1 2092.6,353 2097.6,354C2102.5,355 2107.4,355.9 2112.3,356.9C2117.2,357.8 2122.2,358.8 2127.1,359.8C2132.1,360.7 2137,361.7 2142,362.6C2147,363.6 2152,364.6 2157.1,365.5C2162.1,366.5 2167.2,367.4 2172.3,368.4C2177.4,369.3 2182.5,370.3 2187.7,371.2C2192.9,372.1 2198.3,373.1 2203.4,374C2208.2,374.9 2212.6,375.7 2217.3,376.5C2222,377.3 2226.7,378.1 2231.5,378.9C2236.3,379.7 2241.1,380.5 2245.9,381.3C2250.8,382.1 2255.6,382.9 2260.6,383.7C2265.7,384.5 2271,385.3 2276.1,386.1C2281.1,386.9 2285.9,387.6 2290.9,388.4C2295.8,389.1 2300.8,389.9 2305.7,390.6C2310.7,391.4 2315.7,392.1 2320.7,392.9C2325.8,393.6 2330.8,394.4 2335.9,395.1C2340.9,395.9 2346,396.6 2351.1,397.4C2356.2,398.1 2361.3,398.9 2366.4,399.6C2371.6,400.4 2376.7,401.1 2381.9,401.9C2387.1,402.6 2392.3,403.3 2397.4,404.1C2402.7,404.8 2407.9,405.6 2413.1,406.3C2418.3,407 2423.6,407.8 2428.8,408.5C2434.1,409.2 2439.5,410 2444.6,410.7C2449.4,411.4 2453.9,412 2458.5,412.6C2463.2,413.3 2467.8,413.9 2472.5,414.6C2477.2,415.2 2481.8,415.9 2486.5,416.5C2491.2,417.1 2495.9,417.8 2500.6,418.4C2505.2,419 2509.9,419.7 2514.6,420.3C2519.4,421 2524.1,421.6 2528.8,422.2C2533.5,422.9 2538.2,423.5 2542.9,424.1C2547.7,424.8 2552.4,425.4 2557.1,426.1C2561.9,426.7 2566.6,427.3 2571.4,428C2576.1,428.6 2580.9,429.2 2585.6,429.9C2590.4,430.5 2595.1,431.1 2599.9,431.8C2604.6,432.4 2609.4,433 2614.1,433.7C2618.9,434.3 2623.7,435 2628.4,435.6C2633.2,436.2 2638,436.9 2642.7,437.5C2647.5,438.1 2652.3,438.8 2657,439.4C2661.8,440 2666.6,440.7 2671.3,441.3C2676.1,441.9 2680.8,442.6 2685.6,443.2C2690.4,443.8 2695.1,444.5 2699.9,445.1C2704.6,445.7 2709.4,446.4 2714.2,447C2718.9,447.6 2723.7,448.3 2728.4,448.9C2733.1,449.6 2737.9,450.2 2742.6,450.8C2747.4,451.5 2752.1,452.1 2756.8,452.7C2761.6,453.4 2766.3,454 2771,454.6C2775.7,455.3 2780.4,455.9 2785.1,456.6C2789.8,457.2 2795.6,458 2799.2,458.5C2801.5,458.8 2802.9,459 2804.7,459.2"/>
<path d="M951.9,246.6C946.7,247.7 941.4,248.8 936.4,249.9C931.7,250.9 927.3,251.8 922.7,252.7C918.1,253.7 913.5,254.7 909,255.6C904.4,256.6 899.8,257.5 895.3,258.5C890.7,259.4 886.1,260.4 881.6,261.4C877,262.3 872.4,263.3 867.8,264.2C863.3,265.2 858.7,266.1 854.1,267.1C849.6,268 845,269 840.4,270C835.9,270.9 831.3,271.9 826.7,272.8C822.1,273.8 817.6,274.7 813,275.7C808.4,276.6 803.9,277.6 799.3,278.6C794.7,279.5 790.2,280.5 785.6,281.4C781,282.4 776.4,283.3 771.9,284.3C767.3,285.3 762.7,286.2 758.2,287.2C753.6,288.1 749,289.1 744.5,290C739.9,291 735.3,291.9 730.7,292.9C726.2,293.9 721.6,294.8 717,295.8C712.5,296.7 707.6,297.7 703.3,298.6C699.4,299.4 696,300.2 692.3,300.9"/>
<path d="M951.9,249.7C946.8,251.2 941.7,252.7 936.6,254.2C931.6,255.7 926.7,257.1 921.8,258.6C916.9,260 912,261.5 907,262.9C902.1,264.4 897.2,265.9 892.3,267.3C887.3,268.8 882.4,270.2 877.5,271.7C872.5,273.2 867.5,274.6 862.6,276.1C857.6,277.5 852.6,279 847.6,280.4C842.5,281.8 837.5,283.3 832.4,284.7C827.3,286.1 822,287.6 817,289C812.3,290.2 807.9,291.4 803.4,292.6C798.7,293.9 794.1,295.1 789.5,296.3C784.8,297.5 780.1,298.7 775.4,299.9C770.6,301.1 765.8,302.3 761,303.4C756.1,304.6 751.3,305.8 746.3,306.9C741.4,308.1 736.3,309.2 731.3,310.4C726.4,311.5 721.4,312.6 716.6,313.6C711.8,314.6 707.2,315.6 702.4,316.6C697.7,317.6 692.9,318.5 688,319.5C683.2,320.5 678.3,321.4 673.4,322.4C668.4,323.3 663.5,324.3 658.5,325.2C653.5,326.2 648.4,327.1 643.4,328C638.3,328.9 633.2,329.9 628.1,330.8C623,331.7 617.8,332.6 612.6,333.5C607.4,334.4 602,335.3 597,336.2C592.2,337 587.8,337.7 583.1,338.5C578.5,339.3 573.9,340 569.2,340.8C564.5,341.6 559.9,342.3 555.2,343.1C550.5,343.8 545.8,344.6 541.1,345.3C536.4,346.1 531.6,346.9 526.9,347.6C522.1,348.3 517.4,349.1 512.6,349.8C507.9,350.6 503.1,351.3 498.3,352.1C493.6,352.8 488.8,353.6 484,354.3C479.2,355 474.4,355.8 469.6,356.5C464.8,357.2 460,358 455.2,358.7C450.4,359.5 445.6,360.2 440.8,360.9C436,361.7 431.2,362.4 426.4,363.1C421.6,363.9 416.8,364.6 412,365.3C407.2,366.1 402.5,366.8 397.6,367.6C392.6,368.3 387.3,369.2 382.2,369.9"/>
<path d="M1034.5,241.5C1039.2,241.9 1043.8,242.3 1048.6,242.6C1053.5,243 1058.5,243.4 1063.4,243.7C1068.4,244.1 1073.4,244.4 1078.5,244.8C1083.5,245.1 1088.6,245.5 1093.6,245.8C1098.7,246.2 1103.8,246.5 1109,246.8C1114.1,247.1 1119.3,247.5 1124.4,247.8C1129.6,248.1 1134.8,248.4 1140,248.7C1145.2,249 1150.5,249.3 1155.7,249.7C1161,250 1166.2,250.3 1171.5,250.6C1176.8,250.9 1182.1,251.1 1187.4,251.4C1192.7,251.7 1198,252 1203.4,252.3C1208.7,252.6 1214,252.9 1219.4,253.2C1224.7,253.4 1230.1,253.7 1235.5,254C1240.8,254.3 1246.2,254.6 1251.6,254.8C1256.9,255.1 1262.3,255.4 1267.7,255.7C1273.1,256 1278.5,256.2 1283.9,256.5C1289.3,256.8 1294.6,257.1 1300,257.3C1305.4,257.6 1310.8,257.9 1316.2,258.2C1321.6,258.4 1326.9,258.7 1332.3,259C1337.7,259.3 1343,259.6 1348.4,259.8C1353.8,260.1 1359.1,260.4 1364.4,260.7C1369.8,261 1375.1,261.3 1380.4,261.6C1385.7,261.8 1391.1,262.1 1396.3,262.4C1401.6,262.7 1406.9,263 1412.2,263.3C1417.4,263.6 1422.7,263.9 1427.9,264.2C1433.1,264.6 1438.4,264.9 1443.6,265.2C1448.7,265.5 1453.9,265.8 1459.1,266.1C1464.2,266.5 1469.3,266.8 1474.4,267.1C1479.5,267.5 1484.6,267.8 1489.7,268.2C1494.7,268.5 1499.7,268.8 1504.8,269.2C1509.7,269.6 1514.7,269.9 1519.7,270.3C1524.6,270.7 1529.5,271 1534.4,271.4C1539.3,271.8 1544.1,272.2 1548.9,272.6C1553.7,273 1558.5,273.4 1563.3,273.8C1568,274.2 1572.5,274.6 1577.4,275C1582.5,275.5 1588,276 1593.2,276.5C1598.4,277 1603.6,277.5 1608.7,278.1C1613.8,278.6 1618.9,279.1 1623.9,279.7C1628.9,280.2 1633.9,280.8 1638.8,281.4C1643.6,281.9 1648.4,282.5 1653.2,283.1C1658,283.7 1662.5,284.3 1667.3,285C1672.3,285.7 1677.6,286.4 1682.6,287.2C1687.6,287.9 1692.6,288.7 1697.4,289.5C1702.2,290.2 1706.9,291 1711.7,291.9C1716.6,292.8 1721.8,293.7 1726.8,294.7C1731.6,295.7 1736.3,296.6 1741.1,297.7C1746,298.8 1751.1,299.9 1755.9,301.1C1760.6,302.3 1765.1,303.5 1769.7,304.8C1774.4,306.2 1779,307.5 1783.6,309.1C1788.3,310.7 1793,312.4 1797.6,314.2C1802.2,316.1 1806.7,318.1 1811.3,320.3C1815.9,322.6 1820.7,325.2 1825.1,327.9C1829.3,330.4 1833.2,333 1837.2,335.8C1841.3,338.8 1845.4,342 1849.3,345.2C1853.1,348.4 1856.8,351.7 1860.3,354.9C1863.6,357.7 1866.5,360.4 1869.6,363.2"/>
<path d="M979.6,250.7C975.8,254.3 971.8,258 968,261.5C964.4,264.8 961.1,268 957.6,271.2C954.2,274.4 950.6,277.8 947.3,280.9C944.1,283.9 941.1,286.7 938,289.6"/>
<path d="M1000.2,250.7C1002.6,255.4 1004.9,260.3 1007.2,264.8C1009.4,269.2 1011.3,273.3 1013.5,277.5C1015.7,281.6 1018,285.8 1020.5,289.8C1023.2,293.9 1026,297.9 1029,301.7C1032.2,305.5 1035.5,309.1 1039.2,312.5C1043,315.9 1047.3,319.2 1051.4,322.3C1055.5,325.2 1059.6,327.8 1063.9,330.5C1068.4,333.2 1073.1,335.8 1077.7,338.2C1082,340.6 1086.1,342.6 1090.4,344.8C1094.8,347 1099.3,349.1 1103.8,351.2C1108.3,353.3 1112.8,355.4 1117.4,357.4C1121.9,359.5 1127.5,362 1131.1,363.7C1133.5,364.8 1135.1,365.5 1137.1,366.4"/>
<path d="M1024.5,250.7C1029.1,252.5 1033.6,254.3 1038.1,256.1C1042.5,257.9 1046.8,259.7 1051.2,261.4C1055.6,263.2 1059.9,265 1064.3,266.7C1068.7,268.5 1073,270.3 1077.4,272C1081.8,273.8 1086.1,275.5 1090.5,277.3C1094.9,279.1 1099.2,280.8 1103.6,282.6C1108,284.4 1112.3,286.1 1116.7,287.9C1121.1,289.7 1126.1,291.7 1129.8,293.2C1132.6,294.3 1134.6,295.1 1137,296.1"/>
<path d="M1876.3,177.3C1871.2,178.9 1866,180.5 1861,182C1856.2,183.5 1851.7,184.8 1847,186.3C1842.3,187.7 1837.6,189.1 1832.9,190.5C1828.2,191.9 1823.6,193.3 1818.9,194.7C1814.2,196.1 1809.6,197.6 1804.9,199C1800.3,200.4 1795.7,201.8 1791.1,203.3C1786.5,204.7 1782,206.2 1777.4,207.6C1772.9,209.1 1768.6,210.5 1764,212.1C1759.1,213.7 1753.9,215.5 1749,217.2C1744.1,219 1739.2,220.7 1734.4,222.5C1729.6,224.3 1724.9,226.1 1720.3,228C1715.7,229.8 1711.2,231.7 1706.7,233.6C1702.1,235.6 1697.5,237.8 1692.9,239.9C1688.3,242.1 1683.5,244.3 1678.9,246.6C1674.3,248.9 1669.8,251.1 1665.3,253.4C1660.8,255.7 1656.4,258.1 1652.1,260.4C1647.8,262.7 1643.5,265.1 1639.3,267.5C1635.1,269.9 1631.2,272.2 1627,274.8C1622.6,277.4 1617.9,280.4 1613.5,283.2C1609.2,286.1 1604.9,289 1600.8,292C1596.6,294.9 1592.6,297.9 1588.7,300.9C1584.8,303.9 1581,307 1577.4,310.2C1573.7,313.4 1570.1,316.7 1566.6,320.1C1563.2,323.5 1560,327.1 1556.8,330.7C1553.7,334.3 1550.9,337.9 1548,341.7C1544.8,345.8 1541.1,350.8 1538.5,354.4C1536.6,357 1535.2,359 1533.6,361.2"/>
<path d="M1858.6,173.4C1853.8,174.1 1849.1,174.7 1844.3,175.4C1839.4,176.1 1834.5,176.8 1829.5,177.5C1824.6,178.1 1819.6,178.8 1814.6,179.5C1809.7,180.1 1804.7,180.8 1799.7,181.5C1794.7,182.1 1789.7,182.8 1784.7,183.5C1779.6,184.1 1774.6,184.8 1769.6,185.4C1764.6,186.1 1759.5,186.7 1754.5,187.4C1749.5,188.1 1744.5,188.7 1739.4,189.4C1734.4,190 1729.4,190.7 1724.4,191.4C1719.4,192 1714.4,192.7 1709.4,193.3C1704.4,194 1699.4,194.7 1694.5,195.4C1689.5,196 1684.5,196.7 1679.6,197.4C1674.7,198.1 1669.8,198.7 1664.9,199.4C1660,200.1 1655.1,200.8 1650.3,201.5C1645.4,202.2 1640.6,202.9 1635.8,203.6C1631,204.3 1626.3,205.1 1621.5,205.8C1616.8,206.5 1612.1,207.3 1607.4,208C1602.8,208.7 1598.3,209.5 1593.6,210.3C1588.5,211.1 1583.2,212 1578,212.9C1572.9,213.8 1567.8,214.7 1562.8,215.6C1557.8,216.5 1552.9,217.5 1547.9,218.4C1543.1,219.4 1538.3,220.4 1533.5,221.3C1528.8,222.3 1524.3,223.3 1519.5,224.4C1514.5,225.5 1509.3,226.7 1504.3,227.9C1499.4,229.1 1494.5,230.3 1489.7,231.5C1485,232.8 1480.4,234 1475.9,235.4C1471.3,236.7 1466.8,238.1 1462.3,239.5C1457.7,240.9 1453,242.4 1448.4,243.9C1443.9,245.3 1439.6,246.7 1434.9,248.3C1430,250 1424.7,251.8 1419.7,253.6C1414.8,255.3 1409.9,257.1 1405,259C1400.3,260.8 1395.6,262.6 1390.9,264.5C1386.4,266.3 1381.9,268.2 1377.5,270.2C1373.2,272.1 1369.1,274 1364.7,276C1360.2,278.2 1355.5,280.6 1351,283C1346.7,285.4 1342.5,287.7 1338.3,290.3C1333.9,293 1329.4,296 1325.2,299C1321.2,301.9 1317.3,304.8 1313.6,308.2C1309.8,311.6 1305.8,315.3 1302.6,319.3C1299.6,323 1297.3,326.9 1295,331.2C1292.5,335.6 1290.5,340.7 1288.5,345.5C1286.4,350.3 1284.6,355.4 1282.5,360.1C1280.6,364.5 1278.8,368.6 1276.4,372.7C1273.9,376.8 1271.1,380.9 1268,384.7C1264.8,388.4 1261.1,391.9 1257.5,395.1C1253.9,398.2 1250.2,401 1246.4,403.8C1242.5,406.7 1238.4,409.5 1234.3,412.2C1230.1,415 1225.8,417.8 1221.5,420.6C1217.3,423.3 1212.9,426.1 1208.7,428.9C1204.6,431.7 1200.4,434.5 1196.4,437.4C1192.6,440.2 1188.8,443 1185.2,446.1C1181.5,449.4 1177.6,452.9 1174.3,456.6C1171.1,460.4 1168.2,464.4 1165.9,468.6C1163.5,472.8 1161.7,477.3 1160.2,481.8C1158.7,486.3 1157.6,490.9 1156.7,495.6C1155.7,500.2 1155.1,505.3 1154.5,509.7C1154,513.4 1153.7,516.6 1153.3,520.1"/>
<path d="M1973.3,168.4C1978.5,168.6 1983.8,168.9 1989,169.2C1994.1,169.5 1999.2,169.7 2004.3,170C2009.4,170.2 2014.6,170.4 2019.8,170.7C2025,170.9 2030.2,171.1 2035.4,171.4C2040.7,171.6 2046,171.8 2051.3,172C2056.6,172.2 2061.9,172.4 2067.3,172.6C2072.7,172.8 2078.1,173 2083.5,173.2C2088.9,173.4 2094.5,173.6 2099.8,173.7C2104.6,173.9 2109.1,174 2113.8,174.2C2118.6,174.3 2123.3,174.5 2128,174.6C2132.8,174.8 2137.5,174.9 2142.3,175C2147.1,175.2 2151.8,175.3 2156.6,175.4C2161.4,175.6 2166.2,175.7 2171,175.8C2175.8,175.9 2180.6,176 2185.5,176.2C2190.3,176.3 2195.1,176.4 2200,176.5C2204.8,176.6 2209.7,176.8 2214.5,176.9C2219.4,177 2224.3,177.1 2229.1,177.2C2234,177.3 2238.9,177.4 2243.8,177.5C2248.7,177.7 2253.5,177.8 2258.4,177.9C2263.3,178 2268.2,178.1 2273.1,178.2C2278,178.3 2282.9,178.4 2287.8,178.5C2292.7,178.6 2297.6,178.7 2302.5,178.8C2307.4,178.9 2312.3,179 2317.2,179.2C2322,179.3 2326.9,179.4 2331.8,179.5C2336.7,179.6 2341.6,179.7 2346.5,179.8C2351.4,179.9 2356.2,180 2361.1,180.1C2366,180.2 2370.9,180.4 2375.7,180.5C2380.6,180.6 2385.4,180.7 2390.3,180.8C2395.1,180.9 2400,181.1 2404.8,181.2C2409.6,181.3 2414.4,181.4 2419.2,181.5C2424.1,181.7 2428.9,181.8 2433.6,181.9C2438.4,182.1 2443.2,182.2 2448,182.3C2452.7,182.5 2457.5,182.6 2462.2,182.7C2467,182.9 2471.7,183 2476.4,183.2C2481.1,183.3 2485.6,183.4 2490.5,183.6C2495.7,183.8 2501.4,184 2506.8,184.2C2512.2,184.3 2517.6,184.5 2523,184.7C2528.3,184.9 2533.7,185.1 2539,185.3C2544.3,185.5 2549.6,185.8 2554.8,186C2560.1,186.2 2565.3,186.4 2570.5,186.7C2575.7,186.9 2580.8,187.1 2586,187.4C2591.1,187.6 2596.2,187.9 2601.3,188.1C2606.3,188.4 2611.3,188.7 2616.3,189C2621.3,189.2 2626.3,189.5 2631.2,189.8C2636.1,190.1 2641,190.4 2645.8,190.7C2650.6,191 2655.4,191.3 2660.2,191.7C2664.9,192 2669.5,192.3 2674.3,192.7C2679.4,193.1 2684.9,193.5 2690.1,193.9C2695.3,194.3 2700.4,194.8 2705.6,195.2C2710.6,195.6 2715.6,196.1 2720.6,196.6C2725.5,197.1 2730.4,197.5 2735.3,198C2740.1,198.5 2744.7,199 2749.5,199.6C2754.6,200.2 2759.9,200.8 2765,201.5C2770,202.1 2775,202.7 2779.9,203.4C2784.8,204.1 2789.4,204.8 2794.3,205.5C2799.3,206.3 2804.5,207.2 2809.5,208C2814.3,208.9 2819,209.7 2823.9,210.7C2828.8,211.7 2833.9,212.7 2838.7,213.8C2843.4,214.9 2848,216 2852.6,217.2C2857.2,218.4 2861.8,219.7 2866.4,221.1C2870.9,222.5 2875.4,224 2879.8,225.7C2884.3,227.4 2888.8,229.1 2893.3,231.4C2897.9,233.7 2902.9,236.5 2907.2,239.5C2911.3,242.4 2915.1,245.5 2918.5,249.1C2922.1,252.8 2925.5,257 2928.2,261.2C2930.8,265.3 2932.8,269.5 2934.6,274C2936.4,278.7 2937.9,283.9 2939,289C2940.1,293.9 2940.7,299 2941.3,304C2941.8,309 2942.4,313.9 2942.2,319C2942.1,324.1 2941.4,329.5 2940.4,334.5C2939.5,339.2 2938.2,343.6 2936.7,348.1C2935.2,352.7 2933.4,357.3 2931.4,361.8C2929.5,366.3 2927.3,370.9 2925,375.2C2922.8,379.5 2920.7,383.7 2918.2,387.8C2915.6,392.1 2912.7,396.2 2909.7,400.3C2906.5,404.5 2903,408.7 2899.6,412.6C2896.3,416.3 2893.1,419.7 2889.8,423.2C2886.5,426.7 2882.9,430.3 2879.6,433.7C2876.4,436.9 2873.4,440 2870.2,443.1"/>
<path d="M1932.3,177.3C1936.5,180.6 1940.8,183.9 1944.9,187C1948.8,190 1952.4,192.8 1956.2,195.7C1959.9,198.6 1963.7,201.5 1967.4,204.4C1971.2,207.3 1975.6,210.8 1978.7,213.1C1980.8,214.7 1982.2,215.8 1983.9,217.2"/>
<path d="M1973.3,169C1978.3,169.3 1983.4,169.7 1988.5,170C1993.5,170.3 1998.5,170.6 2003.6,170.9C2008.6,171.2 2013.7,171.5 2018.8,171.8C2024,172.1 2029.1,172.4 2034.2,172.7C2039.4,173 2044.6,173.3 2049.8,173.5C2055,173.8 2060.3,174.1 2065.5,174.4C2070.8,174.6 2076,174.9 2081.3,175.1C2086.6,175.4 2091.9,175.7 2097.3,175.9C2102.6,176.2 2107.9,176.4 2113.3,176.7C2118.7,176.9 2124,177.2 2129.4,177.4C2134.8,177.6 2140.2,177.9 2145.6,178.1C2151,178.3 2156.7,178.6 2161.9,178.8C2166.7,179 2171.2,179.2 2175.9,179.4C2180.5,179.6 2185.2,179.8 2189.9,180C2194.6,180.2 2199.3,180.4 2203.9,180.6C2208.6,180.7 2213.3,180.9 2218,181.1C2222.7,181.3 2227.4,181.5 2232.1,181.7C2236.8,181.9 2241.5,182.1 2246.2,182.3C2250.9,182.5 2255.6,182.7 2260.2,182.8C2264.9,183 2269.6,183.2 2274.3,183.4C2279,183.6 2283.7,183.8 2288.4,184C2293,184.2 2297.7,184.4 2302.4,184.6C2307.1,184.8 2311.5,185 2316.4,185.2C2321.6,185.4 2327.2,185.6 2332.7,185.9C2338.1,186.1 2343.5,186.3 2348.9,186.6C2354.3,186.8 2359.6,187 2365,187.3C2370.4,187.5 2375.7,187.8 2381.1,188C2386.4,188.3 2391.7,188.5 2397,188.8C2402.3,189.1 2407.6,189.3 2412.9,189.6C2418.1,189.9 2423.4,190.1 2428.6,190.4C2433.8,190.7 2439,191 2444.2,191.2C2449.3,191.5 2454.5,191.8 2459.6,192.1C2464.7,192.4 2469.8,192.7 2474.9,193C2480,193.3 2485,193.6 2490,193.9C2495,194.3 2500,194.6 2505,194.9C2509.9,195.2 2514.8,195.6 2519.7,195.9C2524.6,196.3 2529.5,196.6 2534.3,197C2539.1,197.3 2543.9,197.7 2548.6,198.1C2553.4,198.4 2557.9,198.8 2562.8,199.2C2567.9,199.6 2573.4,200.1 2578.6,200.6C2583.8,201 2589,201.5 2594.1,202C2599.2,202.5 2604.3,203 2609.3,203.5C2614.3,204 2619.2,204.5 2624.1,205.1C2629,205.6 2633.8,206.2 2638.6,206.7C2643.3,207.3 2647.9,207.9 2652.7,208.5C2657.6,209.1 2662.9,209.8 2668,210.5C2672.9,211.2 2677.9,211.9 2682.8,212.7C2687.5,213.4 2692.2,214.1 2697,215C2701.9,215.8 2707.1,216.7 2712.1,217.6C2716.9,218.5 2721.6,219.5 2726.4,220.5C2731.3,221.5 2736.4,222.6 2741.3,223.8C2746,224.9 2750.5,226 2755.1,227.3C2759.7,228.6 2764.4,229.9 2769,231.4C2773.6,232.8 2778,234.3 2782.6,236.1C2787.4,238 2792.5,240.1 2797.2,242.4C2801.6,244.6 2805.7,246.8 2809.9,249.4C2814.1,252 2818.3,254.9 2822.3,258C2826.3,261.2 2830.3,264.9 2834,268.4C2837.6,271.9 2840.9,275.7 2844.1,279.2C2847.1,282.4 2849.7,285.6 2852.5,288.8"/>
<path d="M1973.3,170.3C1978.4,170.7 1983.6,171.2 1988.8,171.6C1993.9,172 1998.9,172.4 2004,172.8C2009.1,173.2 2014.2,173.6 2019.4,174C2024.5,174.4 2029.7,174.8 2034.9,175.2C2040.1,175.6 2045.4,175.9 2050.6,176.3C2055.9,176.7 2061.1,177 2066.4,177.4C2071.7,177.8 2077,178.1 2082.3,178.5C2087.7,178.8 2093,179.2 2098.3,179.5C2103.7,179.9 2109,180.2 2114.4,180.6C2119.8,180.9 2125.2,181.3 2130.5,181.6C2135.9,181.9 2141.3,182.3 2146.7,182.6C2152.1,183 2157.5,183.3 2162.9,183.6C2168.3,184 2173.7,184.3 2179,184.7C2184.4,185 2189.8,185.3 2195.2,185.7C2200.6,186 2206,186.4 2211.3,186.7C2216.7,187 2222,187.4 2227.4,187.7C2232.7,188.1 2238.1,188.4 2243.4,188.8C2248.7,189.1 2254,189.5 2259.3,189.9C2264.6,190.2 2269.9,190.6 2275.1,191C2280.4,191.3 2285.6,191.7 2290.8,192.1C2296,192.5 2301.2,192.9 2306.4,193.3C2311.5,193.6 2316.6,194 2321.7,194.4C2326.8,194.9 2331.9,195.3 2337,195.7C2342,196.1 2347,196.5 2352,197C2356.9,197.4 2361.9,197.8 2366.8,198.3C2371.7,198.7 2376.5,199.2 2381.4,199.7C2386.2,200.1 2390.9,200.6 2395.7,201.1C2400.4,201.6 2405,202.1 2409.8,202.6C2414.9,203.2 2420.3,203.8 2425.5,204.4C2430.7,205 2435.8,205.6 2440.9,206.3C2445.9,206.9 2450.9,207.6 2455.8,208.2C2460.7,208.9 2465.5,209.6 2470.3,210.3C2475,211 2479.6,211.7 2484.3,212.5C2489.3,213.3 2494.5,214.2 2499.5,215.1C2504.4,216 2509.2,216.9 2514,217.8C2518.7,218.8 2523.2,219.7 2527.8,220.8C2532.6,221.8 2537.4,222.9 2542.3,224.2C2547.2,225.4 2552.3,226.8 2557.1,228.2C2561.7,229.6 2566.2,231 2570.6,232.5C2575.1,234.1 2579.5,235.7 2584,237.6C2588.5,239.4 2592.9,241.4 2597.4,243.6C2602.2,245.9 2607.2,248.4 2611.9,251C2616.6,253.5 2621.1,256.2 2625.6,258.9C2629.9,261.6 2634,264.2 2638.1,267.2C2642.4,270.3 2647,273.7 2650.9,277C2654.7,280.2 2658.1,283.2 2661.3,286.8C2664.6,290.4 2668.4,294.3 2670.3,298.6C2672.1,302.8 2673.9,308.2 2672.8,312.1C2671.6,316.2 2666.9,319.9 2663.1,322.8C2659.1,325.8 2654,327.7 2649.4,329.7C2644.7,331.7 2639.9,333.2 2635.1,334.7C2630.4,336.3 2625.7,337.6 2620.8,338.9C2615.7,340.2 2610.2,341.5 2605.1,342.7C2600.2,343.9 2595.6,344.9 2590.8,345.9C2585.9,346.9 2581,347.9 2576,348.8C2571,349.8 2565.9,350.7 2560.9,351.7C2555.9,352.6 2550.8,353.5 2545.8,354.3C2540.7,355.2 2535.7,356 2530.8,356.9C2525.9,357.7 2521,358.5 2516.2,359.3C2511.5,360.1 2506.9,360.9 2502.2,361.6C2497.5,362.4 2492.7,363.2 2487.9,363.9C2483,364.6 2478.2,365.2 2473.3,365.8C2468.3,366.4 2463.3,366.9 2458.2,367.4C2453,368 2447.6,368.4 2442.5,368.9C2437.6,369.3 2433.1,369.6 2428.3,369.9C2423.6,370.3 2418.7,370.6 2413.9,370.9C2409,371.2 2404.1,371.4 2399.2,371.7C2394.3,371.9 2389.3,372.1 2384.4,372.4C2379.4,372.6 2374.4,372.8 2369.3,372.9C2364.3,373.1 2359.3,373.3 2354.2,373.4C2349.2,373.6 2344.1,373.7 2339.1,373.8C2334,373.9 2329,374.1 2323.9,374.2C2318.9,374.3 2313.9,374.4 2308.9,374.5C2303.9,374.5 2298.9,374.6 2293.9,374.7C2289,374.8 2284.1,374.9 2279.1,374.9C2274.3,375 2269.4,375.1 2264.6,375.2C2259.8,375.2 2255.2,375.3 2250.3,375.4C2245.2,375.5 2239.7,375.6 2234.4,375.7C2229.3,375.7 2224.1,375.9 2219,376C2214.1,376.1 2209.1,376.2 2204.2,376.3C2199.5,376.5 2194.8,376.6 2190.1,376.8C2185.3,377 2180.7,377.2 2175.8,377.4C2170.6,377.6 2165.2,377.8 2160,378C2154.9,378.2 2149.8,378.4 2144.8,378.6C2139.8,378.8 2134.9,378.9 2130,379.1C2125.2,379.3 2120.4,379.5 2115.7,379.6C2111,379.8 2106.5,379.9 2101.7,380.1C2096.6,380.3 2091.2,380.4 2086,380.6C2080.9,380.8 2075.8,380.9 2070.7,381.1C2065.6,381.2 2060.6,381.4 2055.5,381.5C2050.5,381.7 2045.5,381.8 2040.5,382C2035.6,382.1 2030.5,382.2 2025.6,382.4C2020.8,382.5 2016.2,382.6 2011.4,382.7C2006.5,382.8 2001.5,382.9 1996.6,383C1991.7,383.1 1987.2,383.2 1982.1,383.3C1976.6,383.4 1970.6,383.5 1964.8,383.6"/>
<path d="M1659.2,324C1654.6,325.5 1650,326.9 1645.3,328.4C1640.5,329.9 1635.6,331.4 1630.8,333C1626,334.5 1621.2,336 1616.4,337.6C1611.5,339.1 1606.7,340.7 1601.9,342.2C1597,343.7 1592.2,345.3 1587.3,346.8C1582.4,348.3 1577.5,349.8 1572.6,351.3C1567.6,352.9 1562.6,354.4 1557.6,355.9C1552.6,357.4 1547.3,358.9 1542.4,360.4C1537.7,361.7 1533.3,363 1528.7,364.3C1524.1,365.6 1519.4,366.9 1514.7,368.1C1510,369.4 1505.2,370.7 1500.4,371.9C1495.5,373.2 1490.6,374.5 1485.6,375.7C1480.6,376.9 1475.5,378.2 1470.4,379.4C1465.2,380.6 1459.7,381.8 1454.6,383C1449.7,384.1 1445.1,385.1 1440.3,386.1C1435.4,387.1 1430.4,388.2 1425.3,389.2C1420.3,390.2 1415,391.3 1410,392.2C1405.2,393.2 1400.7,394 1396,394.9C1391.3,395.8 1386.5,396.7 1381.7,397.5C1376.9,398.4 1372,399.3 1367.2,400.1C1362.2,401 1357.3,401.8 1352.3,402.7C1347.3,403.5 1342.3,404.3 1337.3,405.2C1332.2,406 1327.1,406.8 1322,407.7C1316.8,408.5 1311.6,409.3 1306.4,410.1C1301.2,410.9 1295.8,411.8 1290.7,412.5C1285.9,413.3 1281.5,413.9 1276.8,414.6C1272.1,415.3 1267.5,416 1262.8,416.7C1258.1,417.4 1253.3,418.1 1248.6,418.8C1243.9,419.5 1239.1,420.2 1234.4,420.9C1229.6,421.5 1224.8,422.2 1220,422.9C1215.2,423.6 1210.4,424.3 1205.5,424.9C1200.7,425.6 1195.9,426.3 1191,427C1186.2,427.6 1181.3,428.3 1176.4,429C1171.5,429.6 1166.7,430.3 1161.8,431C1156.9,431.6 1152,432.3 1147.1,433C1142.2,433.6 1137.3,434.3 1132.3,435C1127.4,435.6 1122.5,436.3 1117.6,437C1112.7,437.6 1107.8,438.3 1102.8,439C1097.9,439.6 1093,440.3 1088.1,440.9C1083.2,441.6 1078.2,442.3 1073.3,442.9C1068.4,443.6 1063.5,444.3 1058.6,444.9C1053.7,445.6 1048.8,446.3 1043.9,446.9C1039,447.6 1034.1,448.3 1029.2,448.9C1024.3,449.6 1019.5,450.3 1014.6,450.9C1009.8,451.6 1004.6,452.3 1000.1,453C996.2,453.5 992.8,454 989.2,454.5"/>
<path d="M1475.9,389.7C1470.7,390.3 1465.5,391 1460.4,391.6C1455.4,392.2 1450.4,392.9 1445.5,393.5C1440.7,394.1 1436,394.6 1431.2,395.2C1426.3,395.8 1421.2,396.5 1416.2,397.1C1411.2,397.7 1406.4,398.2 1401.5,398.8C1396.5,399.4 1391.6,400 1386.7,400.6C1381.7,401.2 1376.7,401.8 1371.8,402.2C1367.1,402.7 1362.6,403 1357.8,403.4C1352.7,403.7 1347.2,404 1342,404.3C1336.8,404.6 1331.8,404.8 1326.6,405.1C1321.5,405.3 1316.2,405.5 1311.1,405.7C1306.1,406 1301.2,406.2 1296.3,406.4C1291.5,406.6 1286.8,406.8 1282,407C1277.1,407.2 1272,407.1 1267,407.3C1262,407.5 1256.9,407.6 1252,408.2C1247.3,408.8 1242.7,409.8 1238.1,410.9C1233.4,412 1228.7,413.3 1224,414.8C1219.4,416.2 1215,417.8 1210.4,419.6C1205.8,421.4 1200.8,423.1 1196.5,425.5C1192.2,427.8 1188.1,430.5 1184.4,433.6C1180.7,436.8 1177.5,440.8 1174.5,444.6C1171.5,448.4 1168.8,452.4 1166.4,456.5C1164,460.5 1161.7,464.6 1160,469C1158.3,473.3 1157.1,477.9 1156.1,482.6C1155.1,487.4 1154.9,492.6 1154.3,497.6C1153.7,502.7 1153,508.8 1152.5,513C1152.2,515.8 1152,517.7 1151.8,520.1"/>
</g>
<g fill="#63b8ff" stroke="#63b8ff" stroke-width="1.333">
<polygon points="556.7,285.8 550.8,298.7 563.4,292.3"/>
<polygon points="1462,380.4 1475.9,377.8 1463.4,371.2"/>
<polygon points="839.4,456.2 853.4,453.8 841,447"/>
<polygon points="3110.2,440.8 3102.5,452.7 3115.9,448.2"/>
<polygon points="2891.6,444.7 2880.6,453.5 2894.7,453.5"/>
<polygon points="940.5,65.3 945.1,78.7 949.8,65.3"/>
<polygon points="2004.8,212.2 2010,225.3 2014.1,211.8"/>
<polygon points="656.3,285.2 652.1,298.7 663.8,290.8"/>
<polygon points="288.2,358.3 291.6,372 297.5,359.2"/>
<polygon points="1244,82.1 1258,80.1 1245.8,72.9"/>
<polygon points="1154,290.6 1165.6,298.7 1161.6,285.1"/>
<polygon points="1650.2,451.4 1664.3,452.7 1654.1,442.9"/>
<polygon points="1271.6,448 1260,456 1274.1,457"/>
<polygon points="1370,443.1 1359.7,452.7 1373.7,451.6"/>
<polygon points="1448.5,440.2 1441.8,452.7 1454.8,447.1"/>
<polygon points="1505.8,438.9 1509.2,452.7 1515.1,439.9"/>
<polygon points="1792.6,459.2 1806.7,457.9 1794.9,450.2"/>
<polygon points="988.6,450.7 976,457.1 989.9,460"/>
<polygon points="1569.5,446.4 1582.2,452.7 1576.2,439.9"/>
<polygon points="3042.9,467.8 3056.5,463.8 3043.4,458.4"/>
<polygon points="2804.3,467.3 2817.9,463.4 2804.9,458"/>
<polygon points="371.4,535.3 358.8,541.8 372.7,544.6"/>
<polygon points="1715.7,547.3 1729.3,543.5 1716.3,538"/>
<polygon points="1101.8,534.6 1115.9,534.5 1104.8,525.8"/>
<polygon points="848.2,520.8 841.6,533.3 854.5,527.7"/>
<polygon points="920,521 927,533.3 929.2,519.4"/>
<polygon points="993.4,529.2 1006.9,533.3 998.9,521.7"/>
<polygon points="757.8,524 747.2,533.3 761.3,532.6"/>
<polygon points="1539.5,359.8 1532.3,372 1545.5,366.9"/>
<polygon points="1877.6,452.5 1865.3,459.5 1879.3,461.7"/>
<polygon points="988.3,447.1 976,454 990,456.3"/>
<polygon points="1821.9,533.7 1809.3,540.2 1823.2,542.9"/>
<polygon points="3068.3,443.3 3078.9,452.7 3076.4,438.8"/>
<polygon points="2837.3,441.1 2845.4,452.7 2846.2,438.6"/>
<polygon points="2813.7,310.8 2827.4,307.3 2814.5,301.5"/>
<polygon points="692.3,303.3 679.3,308.8 692.9,312.6"/>
<polygon points="2006.2,285.3 2010.8,298.7 2015.5,285.3"/>
<polygon points="2159.7,298.4 2173.8,298.7 2163,289.6"/>
<polygon points="388.4,365.9 375.8,372.4 389.7,375.2"/>
<polygon points="1964.7,378.7 1951.4,383.7 1964.9,388.1"/>
<polygon points="2433.5,301.5 2447.4,298.7 2434.8,292.2"/>
<polygon points="1766.5,291.1 1754.6,298.7 1768.6,300.2"/>
<polygon points="1484.7,296.3 1472,302.5 1485.8,305.6"/>
<polygon points="1878,455.5 1865.3,461.7 1879.1,464.7"/>
<polygon points="2848.7,438.8 2851.2,452.7 2857.9,440.2"/>
<polygon points="390.3,449.8 404.1,452.7 395,441.8"/>
<polygon points="530.3,448.5 544.4,447.1 532.6,439.4"/>
<polygon points="702.5,458.3 716.5,456.7 704.6,449.2"/>
<polygon points="105.6,444.4 94.6,453.2 108.7,453.2"/>
<polygon points="237.3,432.5 231.3,445.3 244,439"/>
<polygon points="1558.6,362.8 1547.9,372 1562,371.4"/>
<polygon points="1812,446 1824.5,452.7 1818.9,439.7"/>
<polygon points="988.5,448.8 976,455.5 989.9,458"/>
<polygon points="1757.9,521.7 1765.8,533.3 1766.9,519.2"/>
<polygon points="2804.5,469.1 2817.9,464.7 2804.7,459.7"/>
<polygon points="1848.3,371.7 1862.4,372 1851.6,362.9"/>
<polygon points="573.4,288.4 563.6,298.7 577.6,296.7"/>
<polygon points="1461.8,374.7 1475.9,373.3 1464.1,365.6"/>
<polygon points="844.5,454.5 858.5,452.7 846.4,445.4"/>
<polygon points="1822.6,540.4 1809.3,545.3 1822.7,549.7"/>
<polygon points="3088.8,438.6 3089.8,452.7 3097.8,441"/>
<polygon points="2889,443.3 2878.4,452.7 2892.5,451.9"/>
<polygon points="1951.5,228.5 1965.5,227.1 1953.7,219.4"/>
<polygon points="2844.8,293.7 2858,298.7 2850.7,286.6"/>
<polygon points="675.5,288.2 666.1,298.7 680,296.3"/>
<polygon points="307.5,359 302.1,372 314.5,365.2"/>
<polygon points="1871.2,365.4 1883.7,372 1878.1,359"/>
<polygon points="1384.4,288 1393.7,298.7 1393.1,284.6"/>
<polygon points="1205.3,141.8 1195.6,152 1209.6,150.1"/>
<polygon points="913.2,285 916.6,298.7 922.5,285.8"/>
<polygon points="1185.5,284.9 1182.5,298.7 1193.4,289.7"/>
<polygon points="1012.3,212.5 1006.4,225.3 1019,218.9"/>
<polygon points="1403.3,149.2 1417.2,152 1408.1,141.2"/>
<polygon points="1844.8,160.7 1858.6,157.7 1845.9,151.4"/>
<polygon points="1462.1,382.8 1475.9,379.8 1463.2,373.5"/>
<polygon points="1793,465.8 1806.7,462.4 1793.8,456.5"/>
<polygon points="909.8,439.4 914.6,452.7 919.1,439.3"/>
<polygon points="283.5,541 297.5,539 285.3,531.8"/>
<polygon points="1715.5,544.3 1729.3,541.2 1716.6,535.1"/>
<polygon points="388.5,368.4 375.8,374.6 389.6,377.7"/>
<polygon points="774.5,440.1 768,452.7 780.9,446.9"/>
<polygon points="1115.7,372.9 1129.8,372 1118.2,363.9"/>
<polygon points="593.5,297.7 581.1,304.5 595,306.9"/>
<polygon points="1462.1,381.3 1475.9,378.5 1463.3,372"/>
<polygon points="891,446.2 903.5,452.7 897.8,439.8"/>
<polygon points="2804.1,463.8 2817.9,461 2805.3,454.6"/>
<polygon points="691.4,296.4 679.3,303.7 693.3,305.5"/>
<polygon points="381.4,365.3 369,372 382.9,374.6"/>
<polygon points="1866.5,366.7 1879.7,372 1872.7,359.7"/>
<polygon points="934.8,286.2 928.2,298.7 941.1,293"/>
<polygon points="1135.2,370.6 1149.2,372 1139.1,362.2"/>
<polygon points="1135.3,300.4 1149.4,301.1 1138.8,291.8"/>
<polygon points="1529.8,358.5 1525.7,372 1537.4,364"/>
<polygon points="1148.6,519.5 1151.6,533.3 1157.9,520.7"/>
<polygon points="2866.9,439.9 2860.9,452.7 2873.6,446.4"/>
<polygon points="1981.1,220.9 1994.5,225.3 1986.8,213.5"/>
<polygon points="2849,291.9 2861.4,298.7 2856,285.6"/>
<polygon points="1964.7,378.9 1951.4,383.8 1964.8,388.3"/>
<polygon points="988.6,449.9 976,456.3 989.9,459.1"/>
<polygon points="1147.1,519.6 1150.5,533.3 1156.4,520.5"/>
</g>
<g font-family="'Liberation Sans', sans-serif" font-size="13.8" fill="#000" stroke-width="1.333">
<rect x="875.8" y="5.3" width="138.7" height="25.3" fill="#999999" stroke="#666666"/>
<text x="945.1" y="21.3" text-anchor="middle" textLength="117.3" lengthAdjust="spacingAndGlyphs">include/LinOp.hpp</text>
<rect x="495.8" y="298.7" width="85.3" height="25.3" fill="#e0e0e0" stroke="#999999"/>
<text x="538.5" y="314.7" text-anchor="middle" textLength="64" lengthAdjust="spacingAndGlyphs">algorithm</text>
<rect x="1475.9" y="372" width="80" height="25.3" fill="#ffffff" stroke="#666666"/>
<text x="1515.9" y="388" text-anchor="middle" textLength="58.7" lengthAdjust="spacingAndGlyphs">Type.hpp</text>
<rect x="1652.6" y="452.7" width="78.7" height="25.3" fill="#e0e0e0" stroke="#999999"/>
<text x="1691.9" y="468.7" text-anchor="middle" textLength="57.3" lengthAdjust="spacingAndGlyphs">complex</text>
<rect x="1193.3" y="452.7" width="66.7" height="25.3" fill="#e0e0e0" stroke="#999999"/>
<text x="1226.7" y="468.7" text-anchor="middle" textLength="45.3" lengthAdjust="spacingAndGlyphs">cstdint</text>
<rect x="1284.6" y="452.7" width="92" height="25.3" fill="#e0e0e0" stroke="#999999"/>
<text x="1330.6" y="468.7" text-anchor="middle" textLength="70.7" lengthAdjust="spacingAndGlyphs">type_traits</text>
<rect x="1400.7" y="452.7" width="54.7" height="25.3" fill="#e0e0e0" stroke="#999999"/>
<text x="1428" y="468.7" text-anchor="middle" textLength="33.3" lengthAdjust="spacingAndGlyphs">tuple</text>
<rect x="1479.9" y="452.7" width="56" height="25.3" fill="#e0e0e0" stroke="#999999"/>
<text x="1507.9" y="468.7" text-anchor="middle" textLength="34.7" lengthAdjust="spacingAndGlyphs">array</text>
<rect x="1806.7" y="452.7" width="58.7" height="25.3" fill="#e0e0e0" stroke="#999999"/>
<text x="1836" y="468.7" text-anchor="middle" textLength="37.3" lengthAdjust="spacingAndGlyphs">string</text>
<rect x="853.4" y="452.7" width="122.7" height="25.3" fill="#ffffff" stroke="#666666"/>
<text x="914.7" y="468.7" text-anchor="middle" textLength="101.3" lengthAdjust="spacingAndGlyphs">cytnx_error.hpp</text>
<rect x="297.5" y="533.3" width="61.3" height="25.3" fill="#e0e0e0" stroke="#999999"/>
<text x="328.2" y="549.3" text-anchor="middle" textLength="40" lengthAdjust="spacingAndGlyphs">cstdio</text>
<rect x="1729.3" y="533.3" width="80" height="25.3" fill="#e0e0e0" stroke="#999999"/>
<text x="1769.3" y="549.3" text-anchor="middle" textLength="58.7" lengthAdjust="spacingAndGlyphs">iostream</text>
<rect x="1115.9" y="533.3" width="66.7" height="25.3" fill="#e0e0e0" stroke="#999999"/>
<text x="1149.2" y="549.3" text-anchor="middle" textLength="45.3" lengthAdjust="spacingAndGlyphs">cstring</text>
<rect x="783.3" y="533.3" width="89.3" height="25.3" fill="#e0e0e0" stroke="#999999"/>
<text x="828" y="549.3" text-anchor="middle" textLength="68" lengthAdjust="spacingAndGlyphs">execinfo.h</text>
<rect x="896.6" y="533.3" width="65.3" height="25.3" fill="#e0e0e0" stroke="#999999"/>
<text x="929.3" y="549.3" text-anchor="middle" textLength="44" lengthAdjust="spacingAndGlyphs">cstdlib</text>
<rect x="986.7" y="533.3" width="74.7" height="25.3" fill="#e0e0e0" stroke="#999999"/>
<text x="1024" y="549.3" text-anchor="middle" textLength="53.3" lengthAdjust="spacingAndGlyphs">stdarg.h</text>
<rect x="672.6" y="533.3" width="86.7" height="25.3" fill="#e0e0e0" stroke="#999999"/>
<text x="716" y="549.3" text-anchor="middle" textLength="65.3" lengthAdjust="spacingAndGlyphs">stdexcept</text>
<rect x="1560.5" y="452.7" width="68" height="25.3" fill="#e0e0e0" stroke="#999999"/>
<text x="1594.5" y="468.7" text-anchor="middle" textLength="46.7" lengthAdjust="spacingAndGlyphs">variant</text>
<rect x="3056.4" y="452.7" width="60" height="25.3" fill="#e0e0e0" stroke="#999999"/>
<text x="3086.4" y="468.7" text-anchor="middle" textLength="38.7" lengthAdjust="spacingAndGlyphs">utility</text>
<rect x="2817.9" y="452.7" width="62.7" height="25.3" fill="#e0e0e0" stroke="#999999"/>
<text x="2849.2" y="468.7" text-anchor="middle" textLength="41.3" lengthAdjust="spacingAndGlyphs">vector</text>
<rect x="901.8" y="78.7" width="86.7" height="25.3" fill="#e0e0e0" stroke="#999999"/>
<text x="945.1" y="94.7" text-anchor="middle" textLength="65.3" lengthAdjust="spacingAndGlyphs">functional</text>
<rect x="1965.5" y="225.3" width="90.7" height="25.3" fill="#ffffff" stroke="#666666"/>
<text x="2010.8" y="241.3" text-anchor="middle" textLength="69.3" lengthAdjust="spacingAndGlyphs">Tensor.hpp</text>
<rect x="2827.4" y="298.7" width="94.7" height="25.3" fill="#ffffff" stroke="#666666"/>
<text x="2874.7" y="314.7" text-anchor="middle" textLength="73.3" lengthAdjust="spacingAndGlyphs">Device.hpp</text>
<rect x="605.9" y="298.7" width="73.3" height="25.3" fill="#e0e0e0" stroke="#999999"/>
<text x="642.6" y="314.7" text-anchor="middle" textLength="52" lengthAdjust="spacingAndGlyphs">fstream</text>
<rect x="1931.5" y="298.7" width="158.7" height="25.3" fill="#e0e0e0" stroke="#999999"/>
<text x="2010.8" y="314.7" text-anchor="middle" textLength="137.3" lengthAdjust="spacingAndGlyphs">backend/Storage.hpp</text>
<rect x="2114.5" y="298.7" width="186.7" height="25.3" fill="#e0e0e0" stroke="#999999"/>
<text x="2207.9" y="314.7" text-anchor="middle" textLength="165.3" lengthAdjust="spacingAndGlyphs">backend/Tensor_impl.hpp</text>
<rect x="205.2" y="372" width="170.7" height="25.3" fill="#ffffff" stroke="#666666"/>
<text x="290.5" y="388" text-anchor="middle" textLength="149.3" lengthAdjust="spacingAndGlyphs">intrusive_ptr_base.hpp</text>
<rect x="329.9" y="452.7" width="190.7" height="25.3" fill="#e0e0e0" stroke="#999999"/>
<text x="425.2" y="468.7" text-anchor="middle" textLength="169.3" lengthAdjust="spacingAndGlyphs">boost/checked_delete.hpp</text>
<rect x="544.4" y="445.3" width="148" height="40" fill="#e0e0e0" stroke="#999999"/>
<text x="555.1" y="461.3" text-anchor="start" textLength="126.7" lengthAdjust="spacingAndGlyphs">boost/detail/atomic</text>
<text x="618.4" y="476" text-anchor="middle" textLength="72" lengthAdjust="spacingAndGlyphs">_count.hpp</text>
<rect x="716.5" y="452.7" width="76" height="25.3" fill="#e0e0e0" stroke="#999999"/>
<text x="754.5" y="468.7" text-anchor="middle" textLength="54.7" lengthAdjust="spacingAndGlyphs">ostream</text>
<rect x="25.2" y="452.7" width="69.3" height="25.3" fill="#e0e0e0" stroke="#999999"/>
<text x="59.9" y="468.7" text-anchor="middle" textLength="48" lengthAdjust="spacingAndGlyphs">cassert</text>
<rect x="118.5" y="445.3" width="186.7" height="40" fill="#e0e0e0" stroke="#999999"/>
<text x="211.8" y="461.3" text-anchor="middle" textLength="165.3" lengthAdjust="spacingAndGlyphs">boost/smart_ptr/intrusive</text>
<text x="211.8" y="476" text-anchor="middle" textLength="53.3" lengthAdjust="spacingAndGlyphs">_ptr.hpp</text>
<rect x="1840.8" y="372" width="110.7" height="25.3" fill="#e0e0e0" stroke="#999999"/>
<text x="1896.1" y="388" text-anchor="middle" textLength="89.3" lengthAdjust="spacingAndGlyphs">initializer_list</text>
<rect x="2425.8" y="298.7" width="225.3" height="25.3" fill="#e0e0e0" stroke="#999999"/>
<text x="2538.5" y="314.7" text-anchor="middle" textLength="204" lengthAdjust="spacingAndGlyphs">utils/dynamic_arg_resolver.hpp</text>
<rect x="1647.9" y="298.7" width="106.7" height="25.3" fill="#ffffff" stroke="#666666"/>
<text x="1701.2" y="314.7" text-anchor="middle" textLength="85.3" lengthAdjust="spacingAndGlyphs">Accessor.hpp</text>
<rect x="1325.3" y="298.7" width="146.7" height="25.3" fill="#e0e0e0" stroke="#999999"/>
<text x="1398.7" y="314.7" text-anchor="middle" textLength="125.3" lengthAdjust="spacingAndGlyphs">backend/Scalar.hpp</text>
<rect x="1258" y="78.7" width="113.3" height="25.3" fill="#ffffff" stroke="#666666"/>
<text x="1314.6" y="94.7" text-anchor="middle" textLength="92" lengthAdjust="spacingAndGlyphs">UniTensor.hpp</text>
<rect x="1115.4" y="152" width="110.7" height="25.3" fill="#e0e0e0" stroke="#999999"/>
<text x="1170.7" y="168" text-anchor="middle" textLength="89.3" lengthAdjust="spacingAndGlyphs">utils/utils.hpp</text>
<rect x="856.6" y="298.7" width="116" height="25.3" fill="#ffffff" stroke="#666666"/>
<text x="914.6" y="314.7" text-anchor="middle" textLength="94.7" lengthAdjust="spacingAndGlyphs">Symmetry.hpp</text>
<rect x="1101.4" y="372" width="146.7" height="25.3" fill="#e0e0e0" stroke="#999999"/>
<text x="1174.7" y="388" text-anchor="middle" textLength="125.3" lengthAdjust="spacingAndGlyphs">utils/vec_clone.hpp</text>
<rect x="1149.4" y="298.7" width="50.7" height="25.3" fill="#e0e0e0" stroke="#999999"/>
<text x="1174.7" y="314.7" text-anchor="middle" textLength="29.3" lengthAdjust="spacingAndGlyphs">map</text>
<rect x="951.9" y="225.3" width="82.7" height="25.3" fill="#ffffff" stroke="#666666"/>
<text x="993.2" y="241.3" text-anchor="middle" textLength="61.3" lengthAdjust="spacingAndGlyphs">Bond.hpp</text>
<rect x="1402.6" y="152" width="72" height="25.3" fill="#e0e0e0" stroke="#999999"/>
<text x="1438.6" y="168" text-anchor="middle" textLength="50.7" lengthAdjust="spacingAndGlyphs">random</text>
<rect x="1858.6" y="152" width="114.7" height="25.3" fill="#ffffff" stroke="#666666"/>
<text x="1916" y="168" text-anchor="middle" textLength="93.3" lengthAdjust="spacingAndGlyphs">Generator.hpp</text>
</g></svg>
</body></html>
